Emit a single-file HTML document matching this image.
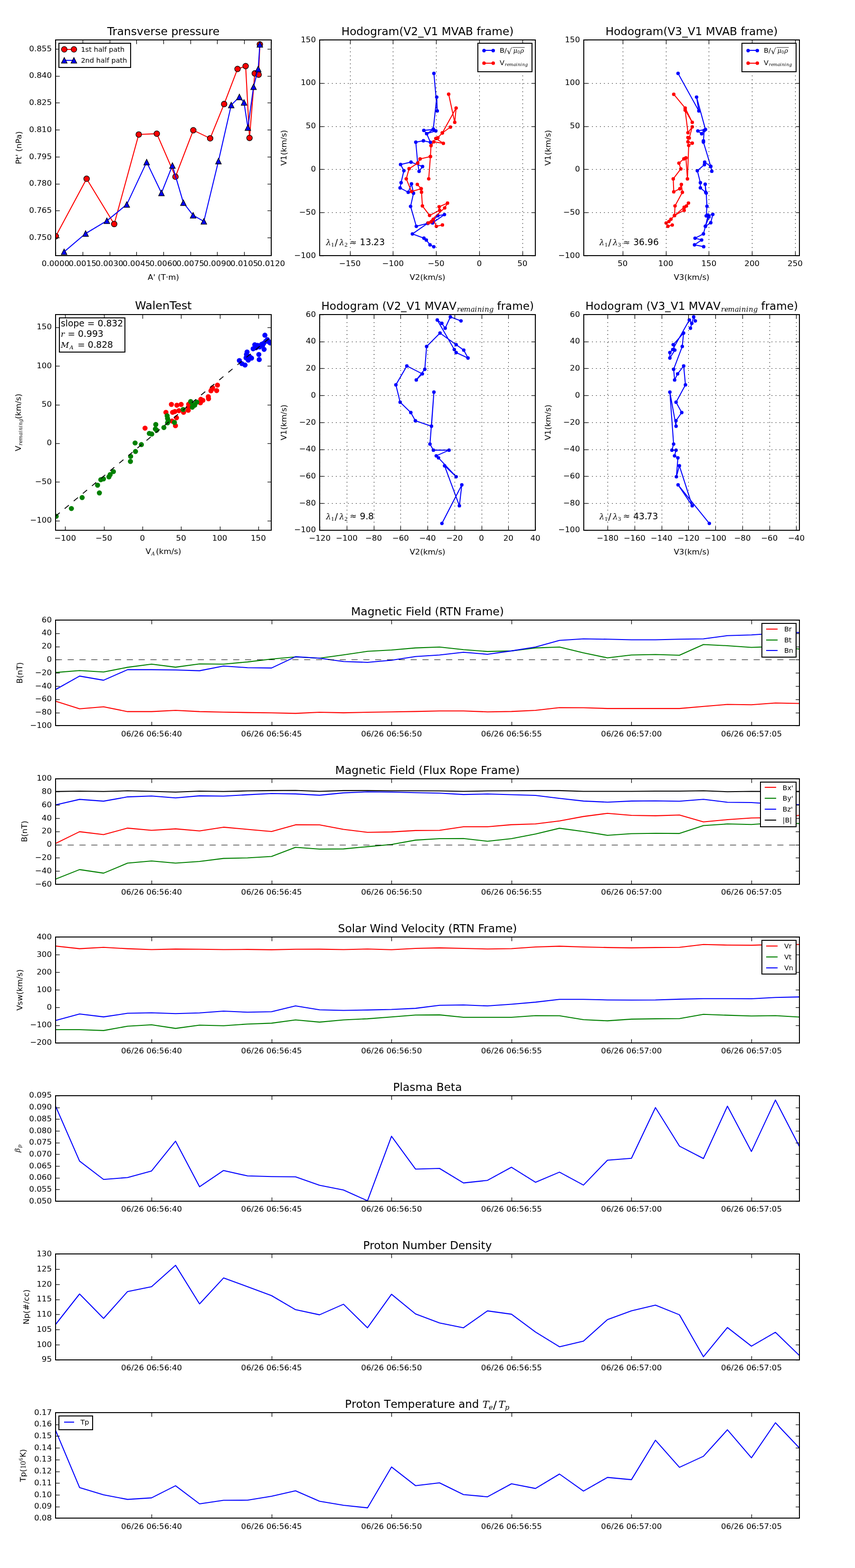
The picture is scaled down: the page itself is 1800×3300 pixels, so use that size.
<!DOCTYPE html>
<html><head><meta charset="utf-8"><title>Flux rope analysis</title>
<style>html,body{margin:0;padding:0;background:#fff;}svg{display:block;}</style>
</head><body>
<svg width="1800" height="3300" viewBox="0 0 1296 2376" version="1.1">
<defs>
<style type="text/css">*{stroke-linejoin: round; stroke-linecap: butt}</style>
</defs>
<g id="figure_1">
<g id="patch_1">
<path d="M 0 2376 
L 1296 2376 
L 1296 0 
L 0 0 
z
" style="fill: #ffffff"/>
</g>
<g id="axes_1">
<g id="patch_2">
<path d="M 84.24 387.36 
L 411.12 387.36 
L 411.12 60.48 
L 84.24 60.48 
z
" style="fill: #ffffff"/>
</g>
<g id="line2d_1">
<path d="M 84.55 357.89 
L 131.28 270.85 
L 173.10 339.43 
L 210.30 203.80 
L 237.67 202.57 
L 265.96 267.77 
L 293.01 197.34 
L 318.53 209.64 
L 339.75 157.66 
L 360.04 104.45 
L 372.34 100.15 
L 378.18 209.03 
L 386.18 111.22 
L 392.02 113.07 
L 393.86 67.24 
" clip-path="url(#pb502590449)" style="fill: none; stroke: #ff0000; stroke-width: 1.4976; stroke-linecap: square"/>
<g clip-path="url(#pb502590449)">
<circle cx="84.55" cy="357.89" r="4.300" style="fill: #ff0000; stroke: #000000; stroke-width: 0.936"/>
<circle cx="131.29" cy="270.85" r="4.300" style="fill: #ff0000; stroke: #000000; stroke-width: 0.936"/>
<circle cx="173.11" cy="339.44" r="4.300" style="fill: #ff0000; stroke: #000000; stroke-width: 0.936"/>
<circle cx="210.31" cy="203.80" r="4.300" style="fill: #ff0000; stroke: #000000; stroke-width: 0.936"/>
<circle cx="237.67" cy="202.57" r="4.300" style="fill: #ff0000; stroke: #000000; stroke-width: 0.936"/>
<circle cx="265.96" cy="267.77" r="4.300" style="fill: #ff0000; stroke: #000000; stroke-width: 0.936"/>
<circle cx="293.02" cy="197.34" r="4.300" style="fill: #ff0000; stroke: #000000; stroke-width: 0.936"/>
<circle cx="318.54" cy="209.65" r="4.300" style="fill: #ff0000; stroke: #000000; stroke-width: 0.936"/>
<circle cx="339.75" cy="157.67" r="4.300" style="fill: #ff0000; stroke: #000000; stroke-width: 0.936"/>
<circle cx="360.05" cy="104.46" r="4.300" style="fill: #ff0000; stroke: #000000; stroke-width: 0.936"/>
<circle cx="372.34" cy="100.15" r="4.300" style="fill: #ff0000; stroke: #000000; stroke-width: 0.936"/>
<circle cx="378.19" cy="209.03" r="4.300" style="fill: #ff0000; stroke: #000000; stroke-width: 0.936"/>
<circle cx="386.18" cy="111.23" r="4.300" style="fill: #ff0000; stroke: #000000; stroke-width: 0.936"/>
<circle cx="392.02" cy="113.07" r="4.300" style="fill: #ff0000; stroke: #000000; stroke-width: 0.936"/>
<circle cx="393.87" cy="67.25" r="4.300" style="fill: #ff0000; stroke: #000000; stroke-width: 0.936"/>
</g>
</g>
<g id="line2d_2">
<path d="M 97.16 381.57 
L 129.75 353.89 
L 162.03 334.51 
L 192.16 309.91 
L 222.30 245.63 
L 244.74 292.37 
L 261.34 250.85 
L 277.95 307.14 
L 292.71 326.21 
L 309.00 335.43 
L 331.14 244.09 
L 350.51 159.20 
L 362.81 146.90 
L 369.88 155.20 
L 375.72 193.34 
L 384.33 131.52 
L 391.40 104.45 
L 393.86 67.24 
" clip-path="url(#pb502590449)" style="fill: none; stroke: #0000ff; stroke-width: 1.4976; stroke-linecap: square"/>
<g clip-path="url(#pb502590449)">
<path d="M 97.16 377.27 L 92.86 385.87 L 101.46 385.87 z" style="fill: #0000ff; stroke: #000000; stroke-width: 0.936; stroke-linejoin: miter"/>
<path d="M 129.75 349.59 L 125.45 358.19 L 134.05 358.19 z" style="fill: #0000ff; stroke: #000000; stroke-width: 0.936; stroke-linejoin: miter"/>
<path d="M 162.03 330.21 L 157.73 338.81 L 166.33 338.81 z" style="fill: #0000ff; stroke: #000000; stroke-width: 0.936; stroke-linejoin: miter"/>
<path d="M 192.16 305.61 L 187.86 314.21 L 196.46 314.21 z" style="fill: #0000ff; stroke: #000000; stroke-width: 0.936; stroke-linejoin: miter"/>
<path d="M 222.30 241.33 L 218.00 249.93 L 226.60 249.93 z" style="fill: #0000ff; stroke: #000000; stroke-width: 0.936; stroke-linejoin: miter"/>
<path d="M 244.74 288.08 L 240.44 296.68 L 249.04 296.68 z" style="fill: #0000ff; stroke: #000000; stroke-width: 0.936; stroke-linejoin: miter"/>
<path d="M 261.34 246.55 L 257.04 255.15 L 265.64 255.15 z" style="fill: #0000ff; stroke: #000000; stroke-width: 0.936; stroke-linejoin: miter"/>
<path d="M 277.95 302.84 L 273.65 311.44 L 282.25 311.44 z" style="fill: #0000ff; stroke: #000000; stroke-width: 0.936; stroke-linejoin: miter"/>
<path d="M 292.71 321.91 L 288.41 330.51 L 297.01 330.51 z" style="fill: #0000ff; stroke: #000000; stroke-width: 0.936; stroke-linejoin: miter"/>
<path d="M 309.00 331.13 L 304.70 339.73 L 313.30 339.73 z" style="fill: #0000ff; stroke: #000000; stroke-width: 0.936; stroke-linejoin: miter"/>
<path d="M 331.14 239.79 L 326.84 248.39 L 335.44 248.39 z" style="fill: #0000ff; stroke: #000000; stroke-width: 0.936; stroke-linejoin: miter"/>
<path d="M 350.51 154.90 L 346.21 163.50 L 354.81 163.50 z" style="fill: #0000ff; stroke: #000000; stroke-width: 0.936; stroke-linejoin: miter"/>
<path d="M 362.81 142.60 L 358.51 151.20 L 367.11 151.20 z" style="fill: #0000ff; stroke: #000000; stroke-width: 0.936; stroke-linejoin: miter"/>
<path d="M 369.88 150.90 L 365.58 159.50 L 374.18 159.50 z" style="fill: #0000ff; stroke: #000000; stroke-width: 0.936; stroke-linejoin: miter"/>
<path d="M 375.72 189.04 L 371.42 197.64 L 380.02 197.64 z" style="fill: #0000ff; stroke: #000000; stroke-width: 0.936; stroke-linejoin: miter"/>
<path d="M 384.33 127.22 L 380.03 135.82 L 388.63 135.82 z" style="fill: #0000ff; stroke: #000000; stroke-width: 0.936; stroke-linejoin: miter"/>
<path d="M 391.40 100.16 L 387.10 108.76 L 395.70 108.76 z" style="fill: #0000ff; stroke: #000000; stroke-width: 0.936; stroke-linejoin: miter"/>
<path d="M 393.86 62.94 L 389.56 71.54 L 398.16 71.54 z" style="fill: #0000ff; stroke: #000000; stroke-width: 0.936; stroke-linejoin: miter"/>
</g>
</g>
<g id="patch_3">
<path d="M 84.24 387.36 L 84.24 60.48" style="fill: none; stroke: #000000; stroke-width: 1.44; stroke-linejoin: miter; stroke-linecap: square"/>
</g>
<g id="patch_4">
<path d="M 411.12 387.36 L 411.12 60.48" style="fill: none; stroke: #000000; stroke-width: 1.44; stroke-linejoin: miter; stroke-linecap: square"/>
</g>
<g id="patch_5">
<path d="M 84.24 387.36 L 411.12 387.36" style="fill: none; stroke: #000000; stroke-width: 1.44; stroke-linejoin: miter; stroke-linecap: square"/>
</g>
<g id="patch_6">
<path d="M 84.24 60.48 L 411.12 60.48" style="fill: none; stroke: #000000; stroke-width: 1.44; stroke-linejoin: miter; stroke-linecap: square"/>
</g>
<g id="matplotlib.axis_1">
<g id="xtick_1">
<g id="line2d_3">
<g>
<path d="M 84.60 387.72 L 84.60 381.74" style="stroke: #000000; stroke-width: 0.936"/>
</g>
</g>
<g id="line2d_4">
<g>
<path d="M 84.60 60.84 L 84.60 66.81" style="stroke: #000000; stroke-width: 0.936"/>
</g>
</g>
<g id="text_1">
<text style="font-size: 12px; font-family: 'DejaVu Sans', sans-serif; text-anchor: middle" x="84.24" y="403.31" transform="rotate(-0 84.24 403.31)">0.0000</text>
</g>
</g>
<g id="xtick_2">
<g id="line2d_5">
<g>
<path d="M 125.64 387.72 L 125.64 381.74" style="stroke: #000000; stroke-width: 0.936"/>
</g>
</g>
<g id="line2d_6">
<g>
<path d="M 125.64 60.84 L 125.64 66.81" style="stroke: #000000; stroke-width: 0.936"/>
</g>
</g>
<g id="text_2">
<text style="font-size: 12px; font-family: 'DejaVu Sans', sans-serif; text-anchor: middle" x="125.1" y="403.31" transform="rotate(-0 125.1 403.31)">0.0015</text>
</g>
</g>
<g id="xtick_3">
<g id="line2d_7">
<g>
<path d="M 166.68 387.72 L 166.68 381.74" style="stroke: #000000; stroke-width: 0.936"/>
</g>
</g>
<g id="line2d_8">
<g>
<path d="M 166.68 60.84 L 166.68 66.81" style="stroke: #000000; stroke-width: 0.936"/>
</g>
</g>
<g id="text_3">
<text style="font-size: 12px; font-family: 'DejaVu Sans', sans-serif; text-anchor: middle" x="165.96" y="403.31" transform="rotate(-0 165.96 403.31)">0.0030</text>
</g>
</g>
<g id="xtick_4">
<g id="line2d_9">
<g>
<path d="M 207.00 387.72 L 207.00 381.74" style="stroke: #000000; stroke-width: 0.936"/>
</g>
</g>
<g id="line2d_10">
<g>
<path d="M 207.00 60.84 L 207.00 66.81" style="stroke: #000000; stroke-width: 0.936"/>
</g>
</g>
<g id="text_4">
<text style="font-size: 12px; font-family: 'DejaVu Sans', sans-serif; text-anchor: middle" x="206.82" y="403.31" transform="rotate(-0 206.82 403.31)">0.0045</text>
</g>
</g>
<g id="xtick_5">
<g id="line2d_11">
<g>
<path d="M 248.04 387.72 L 248.04 381.74" style="stroke: #000000; stroke-width: 0.936"/>
</g>
</g>
<g id="line2d_12">
<g>
<path d="M 248.04 60.84 L 248.04 66.81" style="stroke: #000000; stroke-width: 0.936"/>
</g>
</g>
<g id="text_5">
<text style="font-size: 12px; font-family: 'DejaVu Sans', sans-serif; text-anchor: middle" x="247.68" y="403.31" transform="rotate(-0 247.68 403.31)">0.0060</text>
</g>
</g>
<g id="xtick_6">
<g id="line2d_13">
<g>
<path d="M 289.08 387.72 L 289.08 381.74" style="stroke: #000000; stroke-width: 0.936"/>
</g>
</g>
<g id="line2d_14">
<g>
<path d="M 289.08 60.84 L 289.08 66.81" style="stroke: #000000; stroke-width: 0.936"/>
</g>
</g>
<g id="text_6">
<text style="font-size: 12px; font-family: 'DejaVu Sans', sans-serif; text-anchor: middle" x="288.54" y="403.31" transform="rotate(-0 288.54 403.31)">0.0075</text>
</g>
</g>
<g id="xtick_7">
<g id="line2d_15">
<g>
<path d="M 329.40 387.72 L 329.40 381.74" style="stroke: #000000; stroke-width: 0.936"/>
</g>
</g>
<g id="line2d_16">
<g>
<path d="M 329.40 60.84 L 329.40 66.81" style="stroke: #000000; stroke-width: 0.936"/>
</g>
</g>
<g id="text_7">
<text style="font-size: 12px; font-family: 'DejaVu Sans', sans-serif; text-anchor: middle" x="329.4" y="403.31" transform="rotate(-0 329.4 403.31)">0.0090</text>
</g>
</g>
<g id="xtick_8">
<g id="line2d_17">
<g>
<path d="M 370.44 387.72 L 370.44 381.74" style="stroke: #000000; stroke-width: 0.936"/>
</g>
</g>
<g id="line2d_18">
<g>
<path d="M 370.44 60.84 L 370.44 66.81" style="stroke: #000000; stroke-width: 0.936"/>
</g>
</g>
<g id="text_8">
<text style="font-size: 12px; font-family: 'DejaVu Sans', sans-serif; text-anchor: middle" x="370.26" y="403.31" transform="rotate(-0 370.26 403.31)">0.0105</text>
</g>
</g>
<g id="xtick_9">
<g id="line2d_19">
<g>
<path d="M 411.48 387.72 L 411.48 381.74" style="stroke: #000000; stroke-width: 0.936"/>
</g>
</g>
<g id="line2d_20">
<g>
<path d="M 411.48 60.84 L 411.48 66.81" style="stroke: #000000; stroke-width: 0.936"/>
</g>
</g>
<g id="text_9">
<text style="font-size: 12px; font-family: 'DejaVu Sans', sans-serif; text-anchor: middle" x="411.12" y="403.31" transform="rotate(-0 411.12 403.31)">0.0120</text>
</g>
</g>
<g id="text_10">
<text style="font-size: 12px; font-family: 'DejaVu Sans', sans-serif; text-anchor: middle" x="247.68" y="424.29" transform="rotate(-0 247.68 424.29)">A' (T·m)</text>
</g>
</g>
<g id="matplotlib.axis_2">
<g id="ytick_1">
<g id="line2d_21">
<g>
<path d="M 84.60 360.36 L 90.57 360.36" style="stroke: #000000; stroke-width: 0.936"/>
</g>
</g>
<g id="line2d_22">
<g>
<path d="M 411.48 360.36 L 405.50 360.36" style="stroke: #000000; stroke-width: 0.936"/>
</g>
</g>
<g id="text_11">
<text style="font-size: 12px; font-family: 'DejaVu Sans', sans-serif; text-anchor: end" x="78.48" y="363.43" transform="rotate(-0 78.48 363.43)">0.750</text>
</g>
</g>
<g id="ytick_2">
<g id="line2d_23">
<g>
<path d="M 84.60 319.32 L 90.57 319.32" style="stroke: #000000; stroke-width: 0.936"/>
</g>
</g>
<g id="line2d_24">
<g>
<path d="M 411.48 319.32 L 405.50 319.32" style="stroke: #000000; stroke-width: 0.936"/>
</g>
</g>
<g id="text_12">
<text style="font-size: 12px; font-family: 'DejaVu Sans', sans-serif; text-anchor: end" x="78.48" y="322.57" transform="rotate(-0 78.48 322.57)">0.765</text>
</g>
</g>
<g id="ytick_3">
<g id="line2d_25">
<g>
<path d="M 84.60 279.00 L 90.57 279.00" style="stroke: #000000; stroke-width: 0.936"/>
</g>
</g>
<g id="line2d_26">
<g>
<path d="M 411.48 279.00 L 405.50 279.00" style="stroke: #000000; stroke-width: 0.936"/>
</g>
</g>
<g id="text_13">
<text style="font-size: 12px; font-family: 'DejaVu Sans', sans-serif; text-anchor: end" x="78.48" y="281.71" transform="rotate(-0 78.48 281.71)">0.780</text>
</g>
</g>
<g id="ytick_4">
<g id="line2d_27">
<g>
<path d="M 84.60 237.96 L 90.57 237.96" style="stroke: #000000; stroke-width: 0.936"/>
</g>
</g>
<g id="line2d_28">
<g>
<path d="M 411.48 237.96 L 405.50 237.96" style="stroke: #000000; stroke-width: 0.936"/>
</g>
</g>
<g id="text_14">
<text style="font-size: 12px; font-family: 'DejaVu Sans', sans-serif; text-anchor: end" x="78.48" y="240.85" transform="rotate(-0 78.48 240.85)">0.795</text>
</g>
</g>
<g id="ytick_5">
<g id="line2d_29">
<g>
<path d="M 84.60 196.92 L 90.57 196.92" style="stroke: #000000; stroke-width: 0.936"/>
</g>
</g>
<g id="line2d_30">
<g>
<path d="M 411.48 196.92 L 405.50 196.92" style="stroke: #000000; stroke-width: 0.936"/>
</g>
</g>
<g id="text_15">
<text style="font-size: 12px; font-family: 'DejaVu Sans', sans-serif; text-anchor: end" x="78.48" y="199.99" transform="rotate(-0 78.48 199.99)">0.810</text>
</g>
</g>
<g id="ytick_6">
<g id="line2d_31">
<g>
<path d="M 84.60 155.88 L 90.57 155.88" style="stroke: #000000; stroke-width: 0.936"/>
</g>
</g>
<g id="line2d_32">
<g>
<path d="M 411.48 155.88 L 405.50 155.88" style="stroke: #000000; stroke-width: 0.936"/>
</g>
</g>
<g id="text_16">
<text style="font-size: 12px; font-family: 'DejaVu Sans', sans-serif; text-anchor: end" x="78.48" y="159.13" transform="rotate(-0 78.48 159.13)">0.825</text>
</g>
</g>
<g id="ytick_7">
<g id="line2d_33">
<g>
<path d="M 84.60 115.56 L 90.57 115.56" style="stroke: #000000; stroke-width: 0.936"/>
</g>
</g>
<g id="line2d_34">
<g>
<path d="M 411.48 115.56 L 405.50 115.56" style="stroke: #000000; stroke-width: 0.936"/>
</g>
</g>
<g id="text_17">
<text style="font-size: 12px; font-family: 'DejaVu Sans', sans-serif; text-anchor: end" x="78.48" y="118.27" transform="rotate(-0 78.48 118.27)">0.840</text>
</g>
</g>
<g id="ytick_8">
<g id="line2d_35">
<g>
<path d="M 84.60 74.52 L 90.57 74.52" style="stroke: #000000; stroke-width: 0.936"/>
</g>
</g>
<g id="line2d_36">
<g>
<path d="M 411.48 74.52 L 405.50 74.52" style="stroke: #000000; stroke-width: 0.936"/>
</g>
</g>
<g id="text_18">
<text style="font-size: 12px; font-family: 'DejaVu Sans', sans-serif; text-anchor: end" x="78.48" y="77.41" transform="rotate(-0 78.48 77.41)">0.855</text>
</g>
</g>
<g id="text_19">
<text style="font-size: 12px; font-family: 'DejaVu Sans', sans-serif; text-anchor: middle" x="32.27" y="223.92" transform="rotate(-90 32.27 223.92)">Pt' (nPa)</text>
</g>
</g>
<g id="text_20">
<text style="font-size: 16.97px; font-family: 'DejaVu Sans', sans-serif; text-anchor: middle" x="247.68" y="53.28" transform="rotate(-0 247.68 53.28)">Transverse pressure</text>
</g>
<g id="legend_1">
<g id="patch_7">
<path d="M 89.28 102.24 L 198.00 102.24 L 198.00 65.52 L 89.28 65.52 z" style="fill: #ffffff; stroke: #000000; stroke-width: 1.44; stroke-linejoin: miter"/>
</g>
<g id="line2d_37">
<path d="M 97.20 74.88 L 112.32 74.88" style="fill: none; stroke: #ff0000; stroke-width: 1.4976; stroke-linecap: square"/>
<g>
<circle cx="97.41" cy="74.79" r="4.300" style="fill: #ff0000; stroke: #000000; stroke-width: 0.936"/>
<circle cx="112.04" cy="74.79" r="4.300" style="fill: #ff0000; stroke: #000000; stroke-width: 0.936"/>
</g>
</g>
<g id="text_21">
<text style="font-size: 10.45px; font-family: 'DejaVu Sans', sans-serif; text-anchor: start" x="122.69" y="78.45" transform="rotate(-0 122.69 78.45)">1st half path</text>
</g>
<g id="line2d_38">
<path d="M 97.20 91.44 L 112.32 91.44" style="fill: none; stroke: #0000ff; stroke-width: 1.4976; stroke-linecap: square"/>
<g>
<path d="M 97.40 87.08 L 93.10 95.68 L 101.70 95.68 z" style="fill: #0000ff; stroke: #000000; stroke-width: 0.936; stroke-linejoin: miter"/>
<path d="M 112.03 87.08 L 107.73 95.68 L 116.33 95.68 z" style="fill: #0000ff; stroke: #000000; stroke-width: 0.936; stroke-linejoin: miter"/>
</g>
</g>
<g id="text_22">
<text style="font-size: 10.45px; font-family: 'DejaVu Sans', sans-serif; text-anchor: start" x="122.69" y="95.04" transform="rotate(-0 122.69 95.04)">2nd half path</text>
</g>
</g>
</g>
<g id="axes_2">
<g id="patch_8">
<path d="M 484.56 387.36 
L 811.44 387.36 
L 811.44 60.48 
L 484.56 60.48 
z
" style="fill: #ffffff"/>
</g>
<g id="line2d_39">
<path d="M 657.70 111.17 
L 662.78 168.05 
L 662.01 147.14 
L 656.78 195.65 
L 660.62 198.34 
L 646.79 202.57 
L 642.41 197.57 
L 656.78 196.27 
L 646.79 202.57 
L 652.40 215.64 
L 641.79 213.33 
L 630.26 215.48 
L 633.11 247.15 
L 635.26 259.60 
L 640.49 252.38 
L 622.96 245.61 
L 607.20 249.30 
L 612.20 258.68 
L 607.97 276.74 
L 606.43 284.66 
L 618.73 291.35 
L 623.73 278.67 
L 626.80 292.89 
L 622.35 312.75 
L 631.03 342.95 
L 648.33 338.34 
L 655.63 337.80 
L 673.69 325.12 
L 663.70 326.81 
L 656.78 333.35 
L 648.33 338.34 
L 625.11 354.48 
L 642.56 360.86 
L 646.17 363.71 
L 651.79 371.01 
L 657.55 373.93 
" clip-path="url(#p1c13d62f08)" style="fill: none; stroke: #0000ff; stroke-width: 1.4976; stroke-linecap: square"/>
<g clip-path="url(#p1c13d62f08)">
<circle cx="657.71" cy="111.18" r="2.650" style="fill: #0000ff"/>
<circle cx="662.78" cy="168.06" r="2.650" style="fill: #0000ff"/>
<circle cx="662.01" cy="147.15" r="2.650" style="fill: #0000ff"/>
<circle cx="656.79" cy="195.66" r="2.650" style="fill: #0000ff"/>
<circle cx="660.63" cy="198.35" r="2.650" style="fill: #0000ff"/>
<circle cx="646.79" cy="202.57" r="2.650" style="fill: #0000ff"/>
<circle cx="642.41" cy="197.58" r="2.650" style="fill: #0000ff"/>
<circle cx="656.79" cy="196.27" r="2.650" style="fill: #0000ff"/>
<circle cx="646.79" cy="202.57" r="2.650" style="fill: #0000ff"/>
<circle cx="652.41" cy="215.64" r="2.650" style="fill: #0000ff"/>
<circle cx="641.80" cy="213.33" r="2.650" style="fill: #0000ff"/>
<circle cx="630.27" cy="215.49" r="2.650" style="fill: #0000ff"/>
<circle cx="633.11" cy="247.16" r="2.650" style="fill: #0000ff"/>
<circle cx="635.26" cy="259.61" r="2.650" style="fill: #0000ff"/>
<circle cx="640.49" cy="252.38" r="2.650" style="fill: #0000ff"/>
<circle cx="622.97" cy="245.62" r="2.650" style="fill: #0000ff"/>
<circle cx="607.21" cy="249.31" r="2.650" style="fill: #0000ff"/>
<circle cx="612.20" cy="258.69" r="2.650" style="fill: #0000ff"/>
<circle cx="607.98" cy="276.75" r="2.650" style="fill: #0000ff"/>
<circle cx="606.44" cy="284.67" r="2.650" style="fill: #0000ff"/>
<circle cx="618.74" cy="291.35" r="2.650" style="fill: #0000ff"/>
<circle cx="623.73" cy="278.67" r="2.650" style="fill: #0000ff"/>
<circle cx="626.81" cy="292.89" r="2.650" style="fill: #0000ff"/>
<circle cx="622.35" cy="312.75" r="2.650" style="fill: #0000ff"/>
<circle cx="631.04" cy="342.96" r="2.650" style="fill: #0000ff"/>
<circle cx="648.33" cy="338.35" r="2.650" style="fill: #0000ff"/>
<circle cx="655.63" cy="337.81" r="2.650" style="fill: #0000ff"/>
<circle cx="673.70" cy="325.13" r="2.650" style="fill: #0000ff"/>
<circle cx="663.70" cy="326.82" r="2.650" style="fill: #0000ff"/>
<circle cx="656.79" cy="333.35" r="2.650" style="fill: #0000ff"/>
<circle cx="648.33" cy="338.35" r="2.650" style="fill: #0000ff"/>
<circle cx="625.12" cy="354.49" r="2.650" style="fill: #0000ff"/>
<circle cx="642.57" cy="360.87" r="2.650" style="fill: #0000ff"/>
<circle cx="646.18" cy="363.71" r="2.650" style="fill: #0000ff"/>
<circle cx="651.79" cy="371.01" r="2.650" style="fill: #0000ff"/>
<circle cx="657.56" cy="373.94" r="2.650" style="fill: #0000ff"/>
</g>
</g>
<g id="line2d_40">
<path d="M 680.07 142.69 
L 689.30 185.35 
L 691.37 163.67 
L 670.46 201.42 
L 682.76 192.58 
L 670.46 201.42 
L 663.70 208.72 
L 660.62 209.87 
L 672.00 217.17 
L 657.55 214.87 
L 653.32 220.63 
L 652.40 237.16 
L 649.86 270.98 
L 652.40 237.16 
L 636.80 240.85 
L 633.11 247.15 
L 620.12 255.61 
L 615.81 270.98 
L 623.73 290.19 
L 638.33 285.97 
L 632.57 279.43 
L 638.33 285.97 
L 638.95 291.22 
L 640.26 311.98 
L 651.17 326.43 
L 666.39 318.74 
L 665.62 313.36 
L 678.30 307.83 
L 674.08 315.05 
L 649.09 337.80 
L 653.71 336.04 
L 656.78 332.19 
L 661.39 342.95 
L 670.62 340.88 
" clip-path="url(#p1c13d62f08)" style="fill: none; stroke: #ff0000; stroke-width: 1.4976; stroke-linecap: square"/>
<g clip-path="url(#p1c13d62f08)">
<circle cx="680.08" cy="142.69" r="2.650" style="fill: #ff0000"/>
<circle cx="689.30" cy="185.35" r="2.650" style="fill: #ff0000"/>
<circle cx="691.38" cy="163.68" r="2.650" style="fill: #ff0000"/>
<circle cx="670.47" cy="201.42" r="2.650" style="fill: #ff0000"/>
<circle cx="682.77" cy="192.58" r="2.650" style="fill: #ff0000"/>
<circle cx="670.47" cy="201.42" r="2.650" style="fill: #ff0000"/>
<circle cx="663.70" cy="208.72" r="2.650" style="fill: #ff0000"/>
<circle cx="660.63" cy="209.88" r="2.650" style="fill: #ff0000"/>
<circle cx="672.01" cy="217.18" r="2.650" style="fill: #ff0000"/>
<circle cx="657.56" cy="214.87" r="2.650" style="fill: #ff0000"/>
<circle cx="653.33" cy="220.64" r="2.650" style="fill: #ff0000"/>
<circle cx="652.41" cy="237.16" r="2.650" style="fill: #ff0000"/>
<circle cx="649.87" cy="270.98" r="2.650" style="fill: #ff0000"/>
<circle cx="652.41" cy="237.16" r="2.650" style="fill: #ff0000"/>
<circle cx="636.80" cy="240.85" r="2.650" style="fill: #ff0000"/>
<circle cx="633.11" cy="247.16" r="2.650" style="fill: #ff0000"/>
<circle cx="620.12" cy="255.61" r="2.650" style="fill: #ff0000"/>
<circle cx="615.82" cy="270.98" r="2.650" style="fill: #ff0000"/>
<circle cx="623.73" cy="290.20" r="2.650" style="fill: #ff0000"/>
<circle cx="638.34" cy="285.97" r="2.650" style="fill: #ff0000"/>
<circle cx="632.57" cy="279.44" r="2.650" style="fill: #ff0000"/>
<circle cx="638.34" cy="285.97" r="2.650" style="fill: #ff0000"/>
<circle cx="638.95" cy="291.23" r="2.650" style="fill: #ff0000"/>
<circle cx="640.26" cy="311.98" r="2.650" style="fill: #ff0000"/>
<circle cx="651.18" cy="326.43" r="2.650" style="fill: #ff0000"/>
<circle cx="666.39" cy="318.75" r="2.650" style="fill: #ff0000"/>
<circle cx="665.63" cy="313.37" r="2.650" style="fill: #ff0000"/>
<circle cx="678.31" cy="307.83" r="2.650" style="fill: #ff0000"/>
<circle cx="674.08" cy="315.06" r="2.650" style="fill: #ff0000"/>
<circle cx="649.10" cy="337.81" r="2.650" style="fill: #ff0000"/>
<circle cx="653.71" cy="336.04" r="2.650" style="fill: #ff0000"/>
<circle cx="656.79" cy="332.20" r="2.650" style="fill: #ff0000"/>
<circle cx="661.40" cy="342.96" r="2.650" style="fill: #ff0000"/>
<circle cx="670.62" cy="340.88" r="2.650" style="fill: #ff0000"/>
</g>
</g>
<g id="patch_9">
<path d="M 484.56 387.36 L 484.56 60.48" style="fill: none; stroke: #000000; stroke-width: 1.44; stroke-linejoin: miter; stroke-linecap: square"/>
</g>
<g id="patch_10">
<path d="M 811.44 387.36 L 811.44 60.48" style="fill: none; stroke: #000000; stroke-width: 1.44; stroke-linejoin: miter; stroke-linecap: square"/>
</g>
<g id="patch_11">
<path d="M 484.56 387.36 L 811.44 387.36" style="fill: none; stroke: #000000; stroke-width: 1.44; stroke-linejoin: miter; stroke-linecap: square"/>
</g>
<g id="patch_12">
<path d="M 484.56 60.48 L 811.44 60.48" style="fill: none; stroke: #000000; stroke-width: 1.44; stroke-linejoin: miter; stroke-linecap: square"/>
</g>
<g id="matplotlib.axis_3">
<g id="xtick_10">
<g id="line2d_41">
<path d="M 531.00 387.72 L 531.00 60.84" clip-path="url(#p1c13d62f08)" style="fill: none; stroke-dasharray: 1.296,4.752; stroke-dashoffset: 0; stroke: #000000; stroke-width: 0.792"/>
</g>
<g id="line2d_42">
<g>
<path d="M 531.00 387.72 L 531.00 381.74" style="stroke: #000000; stroke-width: 0.936"/>
</g>
</g>
<g id="line2d_43">
<g>
<path d="M 531.00 60.84 L 531.00 66.81" style="stroke: #000000; stroke-width: 0.936"/>
</g>
</g>
<g id="text_23">
<text style="font-size: 12px; font-family: 'DejaVu Sans', sans-serif; text-anchor: middle" x="530.32" y="403.31" transform="rotate(-0 530.32 403.31)">−150</text>
</g>
</g>
<g id="xtick_11">
<g id="line2d_44">
<path d="M 595.80 387.72 L 595.80 60.84" clip-path="url(#p1c13d62f08)" style="fill: none; stroke-dasharray: 1.296,4.752; stroke-dashoffset: 0; stroke: #000000; stroke-width: 0.792"/>
</g>
<g id="line2d_45">
<g>
<path d="M 595.80 387.72 L 595.80 381.74" style="stroke: #000000; stroke-width: 0.936"/>
</g>
</g>
<g id="line2d_46">
<g>
<path d="M 595.80 60.84 L 595.80 66.81" style="stroke: #000000; stroke-width: 0.936"/>
</g>
</g>
<g id="text_24">
<text style="font-size: 12px; font-family: 'DejaVu Sans', sans-serif; text-anchor: middle" x="595.69" y="403.31" transform="rotate(-0 595.69 403.31)">−100</text>
</g>
</g>
<g id="xtick_12">
<g id="line2d_47">
<path d="M 661.32 387.72 L 661.32 60.84" clip-path="url(#p1c13d62f08)" style="fill: none; stroke-dasharray: 1.296,4.752; stroke-dashoffset: 0; stroke: #000000; stroke-width: 0.792"/>
</g>
<g id="line2d_48">
<g>
<path d="M 661.32 387.72 L 661.32 381.74" style="stroke: #000000; stroke-width: 0.936"/>
</g>
</g>
<g id="line2d_49">
<g>
<path d="M 661.32 60.84 L 661.32 66.81" style="stroke: #000000; stroke-width: 0.936"/>
</g>
</g>
<g id="text_25">
<text style="font-size: 12px; font-family: 'DejaVu Sans', sans-serif; text-anchor: middle" x="661.07" y="403.31" transform="rotate(-0 661.07 403.31)">−50</text>
</g>
</g>
<g id="xtick_13">
<g id="line2d_50">
<path d="M 726.84 387.72 L 726.84 60.84" clip-path="url(#p1c13d62f08)" style="fill: none; stroke-dasharray: 1.296,4.752; stroke-dashoffset: 0; stroke: #000000; stroke-width: 0.792"/>
</g>
<g id="line2d_51">
<g>
<path d="M 726.84 387.72 L 726.84 381.74" style="stroke: #000000; stroke-width: 0.936"/>
</g>
</g>
<g id="line2d_52">
<g>
<path d="M 726.84 60.84 L 726.84 66.81" style="stroke: #000000; stroke-width: 0.936"/>
</g>
</g>
<g id="text_26">
<text style="font-size: 12px; font-family: 'DejaVu Sans', sans-serif; text-anchor: middle" x="726.45" y="403.31" transform="rotate(-0 726.45 403.31)">0</text>
</g>
</g>
<g id="xtick_14">
<g id="line2d_53">
<path d="M 792.36 387.72 L 792.36 60.84" clip-path="url(#p1c13d62f08)" style="fill: none; stroke-dasharray: 1.296,4.752; stroke-dashoffset: 0; stroke: #000000; stroke-width: 0.792"/>
</g>
<g id="line2d_54">
<g>
<path d="M 792.36 387.72 L 792.36 381.74" style="stroke: #000000; stroke-width: 0.936"/>
</g>
</g>
<g id="line2d_55">
<g>
<path d="M 792.36 60.84 L 792.36 66.81" style="stroke: #000000; stroke-width: 0.936"/>
</g>
</g>
<g id="text_27">
<text style="font-size: 12px; font-family: 'DejaVu Sans', sans-serif; text-anchor: middle" x="791.82" y="403.31" transform="rotate(-0 791.82 403.31)">50</text>
</g>
</g>
<g id="text_28">
<text style="font-size: 12px; font-family: 'DejaVu Sans', sans-serif; text-anchor: middle" x="648" y="424.29" transform="rotate(-0 648 424.29)">V2(km/s)</text>
</g>
</g>
<g id="matplotlib.axis_4">
<g id="ytick_9">
<g id="line2d_56">
<path d="M 484.92 387.72 L 811.80 387.72" clip-path="url(#p1c13d62f08)" style="fill: none; stroke-dasharray: 1.296,4.752; stroke-dashoffset: 0; stroke: #000000; stroke-width: 0.792"/>
</g>
<g id="line2d_57">
<g>
<path d="M 484.92 387.72 L 490.89 387.72" style="stroke: #000000; stroke-width: 0.936"/>
</g>
</g>
<g id="line2d_58">
<g>
<path d="M 811.80 387.72 L 805.82 387.72" style="stroke: #000000; stroke-width: 0.936"/>
</g>
</g>
<g id="text_29">
<text style="font-size: 12px; font-family: 'DejaVu Sans', sans-serif; text-anchor: end" x="478.8" y="390.67" transform="rotate(-0 478.8 390.67)">−100</text>
</g>
</g>
<g id="ytick_10">
<g id="line2d_59">
<path d="M 484.92 322.20 L 811.80 322.20" clip-path="url(#p1c13d62f08)" style="fill: none; stroke-dasharray: 1.296,4.752; stroke-dashoffset: 0; stroke: #000000; stroke-width: 0.792"/>
</g>
<g id="line2d_60">
<g>
<path d="M 484.92 322.20 L 490.89 322.20" style="stroke: #000000; stroke-width: 0.936"/>
</g>
</g>
<g id="line2d_61">
<g>
<path d="M 811.80 322.20 L 805.82 322.20" style="stroke: #000000; stroke-width: 0.936"/>
</g>
</g>
<g id="text_30">
<text style="font-size: 12px; font-family: 'DejaVu Sans', sans-serif; text-anchor: end" x="478.8" y="325.29" transform="rotate(-0 478.8 325.29)">−50</text>
</g>
</g>
<g id="ytick_11">
<g id="line2d_62">
<path d="M 484.92 256.68 L 811.80 256.68" clip-path="url(#p1c13d62f08)" style="fill: none; stroke-dasharray: 1.296,4.752; stroke-dashoffset: 0; stroke: #000000; stroke-width: 0.792"/>
</g>
<g id="line2d_63">
<g>
<path d="M 484.92 256.68 L 490.89 256.68" style="stroke: #000000; stroke-width: 0.936"/>
</g>
</g>
<g id="line2d_64">
<g>
<path d="M 811.80 256.68 L 805.82 256.68" style="stroke: #000000; stroke-width: 0.936"/>
</g>
</g>
<g id="text_31">
<text style="font-size: 12px; font-family: 'DejaVu Sans', sans-serif; text-anchor: end" x="478.8" y="259.91" transform="rotate(-0 478.8 259.91)">0</text>
</g>
</g>
<g id="ytick_12">
<g id="line2d_65">
<path d="M 484.92 191.88 L 811.80 191.88" clip-path="url(#p1c13d62f08)" style="fill: none; stroke-dasharray: 1.296,4.752; stroke-dashoffset: 0; stroke: #000000; stroke-width: 0.792"/>
</g>
<g id="line2d_66">
<g>
<path d="M 484.92 191.88 L 490.89 191.88" style="stroke: #000000; stroke-width: 0.936"/>
</g>
</g>
<g id="line2d_67">
<g>
<path d="M 811.80 191.88 L 805.82 191.88" style="stroke: #000000; stroke-width: 0.936"/>
</g>
</g>
<g id="text_32">
<text style="font-size: 12px; font-family: 'DejaVu Sans', sans-serif; text-anchor: end" x="478.8" y="194.54" transform="rotate(-0 478.8 194.54)">50</text>
</g>
</g>
<g id="ytick_13">
<g id="line2d_68">
<path d="M 484.92 126.36 L 811.80 126.36" clip-path="url(#p1c13d62f08)" style="fill: none; stroke-dasharray: 1.296,4.752; stroke-dashoffset: 0; stroke: #000000; stroke-width: 0.792"/>
</g>
<g id="line2d_69">
<g>
<path d="M 484.92 126.36 L 490.89 126.36" style="stroke: #000000; stroke-width: 0.936"/>
</g>
</g>
<g id="line2d_70">
<g>
<path d="M 811.80 126.36 L 805.82 126.36" style="stroke: #000000; stroke-width: 0.936"/>
</g>
</g>
<g id="text_33">
<text style="font-size: 12px; font-family: 'DejaVu Sans', sans-serif; text-anchor: end" x="478.8" y="129.16" transform="rotate(-0 478.8 129.16)">100</text>
</g>
</g>
<g id="ytick_14">
<g id="line2d_71">
<path d="M 484.92 60.84 L 811.80 60.84" clip-path="url(#p1c13d62f08)" style="fill: none; stroke-dasharray: 1.296,4.752; stroke-dashoffset: 0; stroke: #000000; stroke-width: 0.792"/>
</g>
<g id="line2d_72">
<g>
<path d="M 484.92 60.84 L 490.89 60.84" style="stroke: #000000; stroke-width: 0.936"/>
</g>
</g>
<g id="line2d_73">
<g>
<path d="M 811.80 60.84 L 805.82 60.84" style="stroke: #000000; stroke-width: 0.936"/>
</g>
</g>
<g id="text_34">
<text style="font-size: 12px; font-family: 'DejaVu Sans', sans-serif; text-anchor: end" x="478.8" y="63.79" transform="rotate(-0 478.8 63.79)">150</text>
</g>
</g>
<g id="text_35">
<text style="font-size: 12px; font-family: 'DejaVu Sans', sans-serif; text-anchor: middle" x="433.98" y="223.92" transform="rotate(-90 433.98 223.92)">V1(km/s)</text>
</g>
</g>
<g id="text_36">
<g transform="translate(494.03 372.25)">
<text>
<tspan x="0.00" y="-0.61" style="font-size: 12.15px; font-style: italic; font-family: 'DejaVu Serif', serif">λ</tspan>
<tspan x="13.46" y="0.34" style="font-size: 13.77px; font-family: 'DejaVu Sans', sans-serif">/</tspan>
<tspan x="20.21" y="-0.61" style="font-size: 12.15px; font-style: italic; font-family: 'DejaVu Serif', serif">λ</tspan>
<tspan x="7.87" y="1.69" style="font-size: 9.45px; font-family: 'Liberation Serif', serif">1</tspan>
<tspan x="28.08" y="1.69" style="font-size: 9.45px; font-family: 'Liberation Serif', serif">2</tspan>
<tspan x="36.03" y="-0.88" style="font-size: 12.56px; font-family: 'DejaVu Sans', sans-serif">≈</tspan>
<tspan x="47.09" y="-0.60" style="font-size: 13.5px; font-family: 'DejaVu Sans', sans-serif"> </tspan>
<tspan x="51.38" y="-0.60" style="font-size: 13.5px; font-family: 'DejaVu Sans', sans-serif">1</tspan>
<tspan x="59.97" y="-0.60" style="font-size: 13.5px; font-family: 'DejaVu Sans', sans-serif">3</tspan>
<tspan x="68.56" y="-0.60" style="font-size: 13.5px; font-family: 'DejaVu Sans', sans-serif">.</tspan>
<tspan x="72.10" y="-0.60" style="font-size: 13.5px; font-family: 'DejaVu Sans', sans-serif">2</tspan>
<tspan x="80.69" y="-0.60" style="font-size: 13.5px; font-family: 'DejaVu Sans', sans-serif">3</tspan>
</text>
</g>
</g>
<g id="text_37">
<text style="font-size: 16.72px; font-family: 'DejaVu Sans', sans-serif; text-anchor: middle" x="648" y="53.28" transform="rotate(-0 648 53.28)">Hodogram(V2_V1 MVAB frame)</text>
</g>
<g id="legend_2">
<g id="patch_13">
<path d="M 724.32 108.72 L 806.40 108.72 L 806.40 65.52 L 724.32 65.52 z" style="fill: #ffffff; stroke: #000000; stroke-width: 1.44; stroke-linejoin: miter"/>
</g>
<g id="line2d_74">
<path d="M 733.68 76.32 L 747.36 76.32" style="fill: none; stroke: #0000ff; stroke-width: 1.4976; stroke-linecap: square"/>
<g>
<circle cx="733.69" cy="76.68" r="2.650" style="fill: #0000ff"/>
<circle cx="747.59" cy="76.68" r="2.650" style="fill: #0000ff"/>
</g>
</g>
<g id="text_38">
<g transform="translate(757.51 80.33)">
<text>
<tspan x="0" y="-0.49" style="font-size: 10.45px; font-family: 'DejaVu Sans', sans-serif">B</tspan>
<tspan x="7.20" y="-0.49" style="font-size: 10.45px; font-family: 'DejaVu Sans', sans-serif">/</tspan>
<tspan x="10.74" y="1.53" style="font-size: 12.21px; font-family: 'DejaVu Sans', sans-serif">√</tspan>
<tspan x="20.48" y="-0.74" style="font-size: 9.40px; font-style: italic; font-family: 'DejaVu Serif', serif">μ</tspan>
<tspan x="31.09" y="-0.74" style="font-size: 9.40px; font-style: italic; font-family: 'DejaVu Serif', serif">ρ</tspan>
<tspan x="26.77" y="1.04" style="font-size: 7.32px; font-family: 'Liberation Serif', serif">0</tspan>
</text>
<rect x="19.17" y="-8.69" width="18.61" height="0.65"/>
</g>
</g>
<g id="line2d_75">
<path d="M 733.68 95.76 L 747.36 95.76" style="fill: none; stroke: #ff0000; stroke-width: 1.4976; stroke-linecap: square"/>
<g>
<circle cx="733.69" cy="95.69" r="2.650" style="fill: #ff0000"/>
<circle cx="747.59" cy="95.69" r="2.650" style="fill: #ff0000"/>
</g>
</g>
<g id="text_39">
<g transform="translate(757.51 99.35)">
<text>
<tspan x="0" y="-0.70" style="font-size: 10.45px; font-family: 'DejaVu Sans', sans-serif">V</tspan>
<tspan x="7.65" y="1.07" style="font-size: 6.58px; font-style: italic; font-family: 'DejaVu Serif', serif">r</tspan>
<tspan x="10.95" y="1.07" style="font-size: 6.58px; font-style: italic; font-family: 'DejaVu Serif', serif">e</tspan>
<tspan x="14.34" y="1.07" style="font-size: 6.58px; font-style: italic; font-family: 'DejaVu Serif', serif">m</tspan>
<tspan x="20.76" y="1.07" style="font-size: 6.58px; font-style: italic; font-family: 'DejaVu Serif', serif">a</tspan>
<tspan x="24.61" y="1.07" style="font-size: 6.58px; font-style: italic; font-family: 'DejaVu Serif', serif">i</tspan>
<tspan x="27.13" y="1.07" style="font-size: 6.58px; font-style: italic; font-family: 'DejaVu Serif', serif">n</tspan>
<tspan x="31.51" y="1.07" style="font-size: 6.58px; font-style: italic; font-family: 'DejaVu Serif', serif">i</tspan>
<tspan x="34.03" y="1.07" style="font-size: 6.58px; font-style: italic; font-family: 'DejaVu Serif', serif">n</tspan>
<tspan x="38.41" y="1.07" style="font-size: 6.58px; font-style: italic; font-family: 'DejaVu Serif', serif">g</tspan>
</text>
</g>
</g>
</g>
</g>
<g id="axes_3">
<g id="patch_14">
<path d="M 884.88 387.36 
L 1211.76 387.36 
L 1211.76 60.48 
L 884.88 60.48 
z
" style="fill: #ffffff"/>
</g>
<g id="line2d_76">
<path d="M 1027.80 111.17 
L 1059.32 168.05 
L 1055.86 147.14 
L 1069.31 196.11 
L 1057.78 198.41 
L 1063.54 202.64 
L 1067.39 197.80 
L 1066.23 213.40 
L 1066.23 215.32 
L 1077.38 252.20 
L 1078.92 259.50 
L 1077.38 252.20 
L 1068.15 245.67 
L 1067.77 249.51 
L 1057.01 258.73 
L 1061.62 276.80 
L 1061.62 284.64 
L 1069.69 291.40 
L 1068.92 279.10 
L 1070.46 292.55 
L 1071.61 312.54 
L 1070.46 327.14 
L 1073.15 325.99 
L 1074.69 328.68 
L 1069.31 342.90 
L 1077.38 337.52 
L 1080.45 324.84 
L 1073.15 326.76 
L 1069.31 342.90 
L 1066.23 354.43 
L 1053.55 360.96 
L 1063.54 363.65 
L 1052.78 370.96 
L 1066.62 373.80 
" clip-path="url(#p8844d95abf)" style="fill: none; stroke: #0000ff; stroke-width: 1.4976; stroke-linecap: square"/>
<g clip-path="url(#p8844d95abf)">
<circle cx="1027.81" cy="111.18" r="2.650" style="fill: #0000ff"/>
<circle cx="1059.32" cy="168.06" r="2.650" style="fill: #0000ff"/>
<circle cx="1055.86" cy="147.15" r="2.650" style="fill: #0000ff"/>
<circle cx="1069.31" cy="196.11" r="2.650" style="fill: #0000ff"/>
<circle cx="1057.78" cy="198.42" r="2.650" style="fill: #0000ff"/>
<circle cx="1063.55" cy="202.65" r="2.650" style="fill: #0000ff"/>
<circle cx="1067.39" cy="197.80" r="2.650" style="fill: #0000ff"/>
<circle cx="1066.24" cy="213.41" r="2.650" style="fill: #0000ff"/>
<circle cx="1066.24" cy="215.33" r="2.650" style="fill: #0000ff"/>
<circle cx="1077.38" cy="252.20" r="2.650" style="fill: #0000ff"/>
<circle cx="1078.92" cy="259.51" r="2.650" style="fill: #0000ff"/>
<circle cx="1077.38" cy="252.20" r="2.650" style="fill: #0000ff"/>
<circle cx="1068.16" cy="245.67" r="2.650" style="fill: #0000ff"/>
<circle cx="1067.78" cy="249.51" r="2.650" style="fill: #0000ff"/>
<circle cx="1057.01" cy="258.74" r="2.650" style="fill: #0000ff"/>
<circle cx="1061.63" cy="276.80" r="2.650" style="fill: #0000ff"/>
<circle cx="1061.63" cy="284.64" r="2.650" style="fill: #0000ff"/>
<circle cx="1069.70" cy="291.41" r="2.650" style="fill: #0000ff"/>
<circle cx="1068.93" cy="279.11" r="2.650" style="fill: #0000ff"/>
<circle cx="1070.47" cy="292.56" r="2.650" style="fill: #0000ff"/>
<circle cx="1071.62" cy="312.54" r="2.650" style="fill: #0000ff"/>
<circle cx="1070.47" cy="327.15" r="2.650" style="fill: #0000ff"/>
<circle cx="1073.16" cy="326.00" r="2.650" style="fill: #0000ff"/>
<circle cx="1074.69" cy="328.69" r="2.650" style="fill: #0000ff"/>
<circle cx="1069.31" cy="342.91" r="2.650" style="fill: #0000ff"/>
<circle cx="1077.38" cy="337.53" r="2.650" style="fill: #0000ff"/>
<circle cx="1080.46" cy="324.84" r="2.650" style="fill: #0000ff"/>
<circle cx="1073.16" cy="326.76" r="2.650" style="fill: #0000ff"/>
<circle cx="1069.31" cy="342.91" r="2.650" style="fill: #0000ff"/>
<circle cx="1066.24" cy="354.44" r="2.650" style="fill: #0000ff"/>
<circle cx="1053.56" cy="360.97" r="2.650" style="fill: #0000ff"/>
<circle cx="1063.55" cy="363.66" r="2.650" style="fill: #0000ff"/>
<circle cx="1052.79" cy="370.96" r="2.650" style="fill: #0000ff"/>
<circle cx="1066.62" cy="373.81" r="2.650" style="fill: #0000ff"/>
</g>
</g>
<g id="line2d_77">
<path d="M 1021.27 142.92 
L 1038.56 163.67 
L 1049.32 185.35 
L 1038.56 166.90 
L 1042.79 201.10 
L 1049.32 192.27 
L 1044.71 209.18 
L 1042.79 208.41 
L 1042.79 214.94 
L 1049.32 216.86 
L 1043.94 220.32 
L 1042.02 271.03 
L 1039.71 239.13 
L 1036.64 240.67 
L 1029.11 247.20 
L 1032.03 255.89 
L 1020.50 271.03 
L 1021.27 290.63 
L 1030.49 286.02 
L 1032.80 279.49 
L 1034.33 291.40 
L 1023.19 312.00 
L 1022.42 326.37 
L 1037.02 318.69 
L 1040.48 312.15 
L 1043.56 307.70 
L 1037.02 314.08 
L 1022.42 326.76 
L 1017.04 332.14 
L 1013.96 335.60 
L 1009.74 337.90 
L 1012.43 342.90 
L 1018.96 340.98 
" clip-path="url(#p8844d95abf)" style="fill: none; stroke: #ff0000; stroke-width: 1.4976; stroke-linecap: square"/>
<g clip-path="url(#p8844d95abf)">
<circle cx="1021.27" cy="142.92" r="2.650" style="fill: #ff0000"/>
<circle cx="1038.57" cy="163.68" r="2.650" style="fill: #ff0000"/>
<circle cx="1049.33" cy="185.35" r="2.650" style="fill: #ff0000"/>
<circle cx="1038.57" cy="166.90" r="2.650" style="fill: #ff0000"/>
<circle cx="1042.79" cy="201.11" r="2.650" style="fill: #ff0000"/>
<circle cx="1049.33" cy="192.27" r="2.650" style="fill: #ff0000"/>
<circle cx="1044.72" cy="209.18" r="2.650" style="fill: #ff0000"/>
<circle cx="1042.79" cy="208.41" r="2.650" style="fill: #ff0000"/>
<circle cx="1042.79" cy="214.95" r="2.650" style="fill: #ff0000"/>
<circle cx="1049.33" cy="216.87" r="2.650" style="fill: #ff0000"/>
<circle cx="1043.95" cy="220.33" r="2.650" style="fill: #ff0000"/>
<circle cx="1042.03" cy="271.04" r="2.650" style="fill: #ff0000"/>
<circle cx="1039.72" cy="239.14" r="2.650" style="fill: #ff0000"/>
<circle cx="1036.64" cy="240.67" r="2.650" style="fill: #ff0000"/>
<circle cx="1029.11" cy="247.21" r="2.650" style="fill: #ff0000"/>
<circle cx="1032.03" cy="255.89" r="2.650" style="fill: #ff0000"/>
<circle cx="1020.50" cy="271.04" r="2.650" style="fill: #ff0000"/>
<circle cx="1021.27" cy="290.64" r="2.650" style="fill: #ff0000"/>
<circle cx="1030.50" cy="286.03" r="2.650" style="fill: #ff0000"/>
<circle cx="1032.80" cy="279.49" r="2.650" style="fill: #ff0000"/>
<circle cx="1034.34" cy="291.41" r="2.650" style="fill: #ff0000"/>
<circle cx="1023.19" cy="312.01" r="2.650" style="fill: #ff0000"/>
<circle cx="1022.42" cy="326.38" r="2.650" style="fill: #ff0000"/>
<circle cx="1037.03" cy="318.69" r="2.650" style="fill: #ff0000"/>
<circle cx="1040.49" cy="312.16" r="2.650" style="fill: #ff0000"/>
<circle cx="1043.56" cy="307.70" r="2.650" style="fill: #ff0000"/>
<circle cx="1037.03" cy="314.08" r="2.650" style="fill: #ff0000"/>
<circle cx="1022.42" cy="326.76" r="2.650" style="fill: #ff0000"/>
<circle cx="1017.04" cy="332.14" r="2.650" style="fill: #ff0000"/>
<circle cx="1013.97" cy="335.60" r="2.650" style="fill: #ff0000"/>
<circle cx="1009.74" cy="337.91" r="2.650" style="fill: #ff0000"/>
<circle cx="1012.43" cy="342.91" r="2.650" style="fill: #ff0000"/>
<circle cx="1018.97" cy="340.98" r="2.650" style="fill: #ff0000"/>
</g>
</g>
<g id="patch_15">
<path d="M 884.88 387.36 L 884.88 60.48" style="fill: none; stroke: #000000; stroke-width: 1.44; stroke-linejoin: miter; stroke-linecap: square"/>
</g>
<g id="patch_16">
<path d="M 1211.76 387.36 L 1211.76 60.48" style="fill: none; stroke: #000000; stroke-width: 1.44; stroke-linejoin: miter; stroke-linecap: square"/>
</g>
<g id="patch_17">
<path d="M 884.88 387.36 L 1211.76 387.36" style="fill: none; stroke: #000000; stroke-width: 1.44; stroke-linejoin: miter; stroke-linecap: square"/>
</g>
<g id="patch_18">
<path d="M 884.88 60.48 L 1211.76 60.48" style="fill: none; stroke: #000000; stroke-width: 1.44; stroke-linejoin: miter; stroke-linecap: square"/>
</g>
<g id="matplotlib.axis_5">
<g id="xtick_15">
<g id="line2d_78">
<path d="M 944.28 387.72 L 944.28 60.84" clip-path="url(#p8844d95abf)" style="fill: none; stroke-dasharray: 1.296,4.752; stroke-dashoffset: 0; stroke: #000000; stroke-width: 0.792"/>
</g>
<g id="line2d_79">
<g>
<path d="M 944.28 387.72 L 944.28 381.74" style="stroke: #000000; stroke-width: 0.936"/>
</g>
</g>
<g id="line2d_80">
<g>
<path d="M 944.28 60.84 L 944.28 66.81" style="stroke: #000000; stroke-width: 0.936"/>
</g>
</g>
<g id="text_40">
<text style="font-size: 12px; font-family: 'DejaVu Sans', sans-serif; text-anchor: middle" x="943.77" y="403.31" transform="rotate(-0 943.77 403.31)">50</text>
</g>
</g>
<g id="xtick_16">
<g id="line2d_81">
<path d="M 1009.80 387.72 L 1009.80 60.84" clip-path="url(#p8844d95abf)" style="fill: none; stroke-dasharray: 1.296,4.752; stroke-dashoffset: 0; stroke: #000000; stroke-width: 0.792"/>
</g>
<g id="line2d_82">
<g>
<path d="M 1009.80 387.72 L 1009.80 381.74" style="stroke: #000000; stroke-width: 0.936"/>
</g>
</g>
<g id="line2d_83">
<g>
<path d="M 1009.80 60.84 L 1009.80 66.81" style="stroke: #000000; stroke-width: 0.936"/>
</g>
</g>
<g id="text_41">
<text style="font-size: 12px; font-family: 'DejaVu Sans', sans-serif; text-anchor: middle" x="1009.14" y="403.31" transform="rotate(-0 1009.14 403.31)">100</text>
</g>
</g>
<g id="xtick_17">
<g id="line2d_84">
<path d="M 1074.60 387.72 L 1074.60 60.84" clip-path="url(#p8844d95abf)" style="fill: none; stroke-dasharray: 1.296,4.752; stroke-dashoffset: 0; stroke: #000000; stroke-width: 0.792"/>
</g>
<g id="line2d_85">
<g>
<path d="M 1074.60 387.72 L 1074.60 381.74" style="stroke: #000000; stroke-width: 0.936"/>
</g>
</g>
<g id="line2d_86">
<g>
<path d="M 1074.60 60.84 L 1074.60 66.81" style="stroke: #000000; stroke-width: 0.936"/>
</g>
</g>
<g id="text_42">
<text style="font-size: 12px; font-family: 'DejaVu Sans', sans-serif; text-anchor: middle" x="1074.52" y="403.31" transform="rotate(-0 1074.52 403.31)">150</text>
</g>
</g>
<g id="xtick_18">
<g id="line2d_87">
<path d="M 1140.12 387.72 L 1140.12 60.84" clip-path="url(#p8844d95abf)" style="fill: none; stroke-dasharray: 1.296,4.752; stroke-dashoffset: 0; stroke: #000000; stroke-width: 0.792"/>
</g>
<g id="line2d_88">
<g>
<path d="M 1140.12 387.72 L 1140.12 381.74" style="stroke: #000000; stroke-width: 0.936"/>
</g>
</g>
<g id="line2d_89">
<g>
<path d="M 1140.12 60.84 L 1140.12 66.81" style="stroke: #000000; stroke-width: 0.936"/>
</g>
</g>
<g id="text_43">
<text style="font-size: 12px; font-family: 'DejaVu Sans', sans-serif; text-anchor: middle" x="1139.89" y="403.31" transform="rotate(-0 1139.89 403.31)">200</text>
</g>
</g>
<g id="xtick_19">
<g id="line2d_90">
<path d="M 1205.64 387.72 L 1205.64 60.84" clip-path="url(#p8844d95abf)" style="fill: none; stroke-dasharray: 1.296,4.752; stroke-dashoffset: 0; stroke: #000000; stroke-width: 0.792"/>
</g>
<g id="line2d_91">
<g>
<path d="M 1205.64 387.72 L 1205.64 381.74" style="stroke: #000000; stroke-width: 0.936"/>
</g>
</g>
<g id="line2d_92">
<g>
<path d="M 1205.64 60.84 L 1205.64 66.81" style="stroke: #000000; stroke-width: 0.936"/>
</g>
</g>
<g id="text_44">
<text style="font-size: 12px; font-family: 'DejaVu Sans', sans-serif; text-anchor: middle" x="1205.27" y="403.31" transform="rotate(-0 1205.27 403.31)">250</text>
</g>
</g>
<g id="text_45">
<text style="font-size: 12px; font-family: 'DejaVu Sans', sans-serif; text-anchor: middle" x="1048.32" y="424.29" transform="rotate(-0 1048.32 424.29)">V3(km/s)</text>
</g>
</g>
<g id="matplotlib.axis_6">
<g id="ytick_15">
<g id="line2d_93">
<path d="M 885.24 387.72 L 1212.12 387.72" clip-path="url(#p8844d95abf)" style="fill: none; stroke-dasharray: 1.296,4.752; stroke-dashoffset: 0; stroke: #000000; stroke-width: 0.792"/>
</g>
<g id="line2d_94">
<g>
<path d="M 885.24 387.72 L 891.21 387.72" style="stroke: #000000; stroke-width: 0.936"/>
</g>
</g>
<g id="line2d_95">
<g>
<path d="M 1212.12 387.72 L 1206.14 387.72" style="stroke: #000000; stroke-width: 0.936"/>
</g>
</g>
<g id="text_46">
<text style="font-size: 12px; font-family: 'DejaVu Sans', sans-serif; text-anchor: end" x="879.12" y="390.67" transform="rotate(-0 879.12 390.67)">−100</text>
</g>
</g>
<g id="ytick_16">
<g id="line2d_96">
<path d="M 885.24 322.20 L 1212.12 322.20" clip-path="url(#p8844d95abf)" style="fill: none; stroke-dasharray: 1.296,4.752; stroke-dashoffset: 0; stroke: #000000; stroke-width: 0.792"/>
</g>
<g id="line2d_97">
<g>
<path d="M 885.24 322.20 L 891.21 322.20" style="stroke: #000000; stroke-width: 0.936"/>
</g>
</g>
<g id="line2d_98">
<g>
<path d="M 1212.12 322.20 L 1206.14 322.20" style="stroke: #000000; stroke-width: 0.936"/>
</g>
</g>
<g id="text_47">
<text style="font-size: 12px; font-family: 'DejaVu Sans', sans-serif; text-anchor: end" x="879.12" y="325.29" transform="rotate(-0 879.12 325.29)">−50</text>
</g>
</g>
<g id="ytick_17">
<g id="line2d_99">
<path d="M 885.24 256.68 L 1212.12 256.68" clip-path="url(#p8844d95abf)" style="fill: none; stroke-dasharray: 1.296,4.752; stroke-dashoffset: 0; stroke: #000000; stroke-width: 0.792"/>
</g>
<g id="line2d_100">
<g>
<path d="M 885.24 256.68 L 891.21 256.68" style="stroke: #000000; stroke-width: 0.936"/>
</g>
</g>
<g id="line2d_101">
<g>
<path d="M 1212.12 256.68 L 1206.14 256.68" style="stroke: #000000; stroke-width: 0.936"/>
</g>
</g>
<g id="text_48">
<text style="font-size: 12px; font-family: 'DejaVu Sans', sans-serif; text-anchor: end" x="879.12" y="259.91" transform="rotate(-0 879.12 259.91)">0</text>
</g>
</g>
<g id="ytick_18">
<g id="line2d_102">
<path d="M 885.24 191.88 L 1212.12 191.88" clip-path="url(#p8844d95abf)" style="fill: none; stroke-dasharray: 1.296,4.752; stroke-dashoffset: 0; stroke: #000000; stroke-width: 0.792"/>
</g>
<g id="line2d_103">
<g>
<path d="M 885.24 191.88 L 891.21 191.88" style="stroke: #000000; stroke-width: 0.936"/>
</g>
</g>
<g id="line2d_104">
<g>
<path d="M 1212.12 191.88 L 1206.14 191.88" style="stroke: #000000; stroke-width: 0.936"/>
</g>
</g>
<g id="text_49">
<text style="font-size: 12px; font-family: 'DejaVu Sans', sans-serif; text-anchor: end" x="879.12" y="194.54" transform="rotate(-0 879.12 194.54)">50</text>
</g>
</g>
<g id="ytick_19">
<g id="line2d_105">
<path d="M 885.24 126.36 L 1212.12 126.36" clip-path="url(#p8844d95abf)" style="fill: none; stroke-dasharray: 1.296,4.752; stroke-dashoffset: 0; stroke: #000000; stroke-width: 0.792"/>
</g>
<g id="line2d_106">
<g>
<path d="M 885.24 126.36 L 891.21 126.36" style="stroke: #000000; stroke-width: 0.936"/>
</g>
</g>
<g id="line2d_107">
<g>
<path d="M 1212.12 126.36 L 1206.14 126.36" style="stroke: #000000; stroke-width: 0.936"/>
</g>
</g>
<g id="text_50">
<text style="font-size: 12px; font-family: 'DejaVu Sans', sans-serif; text-anchor: end" x="879.12" y="129.16" transform="rotate(-0 879.12 129.16)">100</text>
</g>
</g>
<g id="ytick_20">
<g id="line2d_108">
<path d="M 885.24 60.84 L 1212.12 60.84" clip-path="url(#p8844d95abf)" style="fill: none; stroke-dasharray: 1.296,4.752; stroke-dashoffset: 0; stroke: #000000; stroke-width: 0.792"/>
</g>
<g id="line2d_109">
<g>
<path d="M 885.24 60.84 L 891.21 60.84" style="stroke: #000000; stroke-width: 0.936"/>
</g>
</g>
<g id="line2d_110">
<g>
<path d="M 1212.12 60.84 L 1206.14 60.84" style="stroke: #000000; stroke-width: 0.936"/>
</g>
</g>
<g id="text_51">
<text style="font-size: 12px; font-family: 'DejaVu Sans', sans-serif; text-anchor: end" x="879.12" y="63.79" transform="rotate(-0 879.12 63.79)">150</text>
</g>
</g>
<g id="text_52">
<text style="font-size: 12px; font-family: 'DejaVu Sans', sans-serif; text-anchor: middle" x="834.30" y="223.92" transform="rotate(-90 834.30 223.92)">V1(km/s)</text>
</g>
</g>
<g id="text_53">
<g transform="translate(908.51 372.25)">
<text>
<tspan x="0.00" y="-0.61" style="font-size: 12.15px; font-style: italic; font-family: 'DejaVu Serif', serif">λ</tspan>
<tspan x="13.46" y="0.34" style="font-size: 13.77px; font-family: 'DejaVu Sans', sans-serif">/</tspan>
<tspan x="20.21" y="-0.61" style="font-size: 12.15px; font-style: italic; font-family: 'DejaVu Serif', serif">λ</tspan>
<tspan x="7.87" y="1.69" style="font-size: 9.45px; font-family: 'Liberation Serif', serif">1</tspan>
<tspan x="28.08" y="1.69" style="font-size: 9.45px; font-family: 'Liberation Serif', serif">3</tspan>
<tspan x="36.03" y="-0.88" style="font-size: 12.56px; font-family: 'DejaVu Sans', sans-serif">≈</tspan>
<tspan x="47.09" y="-0.60" style="font-size: 13.5px; font-family: 'DejaVu Sans', sans-serif"> </tspan>
<tspan x="51.38" y="-0.60" style="font-size: 13.5px; font-family: 'DejaVu Sans', sans-serif">3</tspan>
<tspan x="59.97" y="-0.60" style="font-size: 13.5px; font-family: 'DejaVu Sans', sans-serif">6</tspan>
<tspan x="68.56" y="-0.60" style="font-size: 13.5px; font-family: 'DejaVu Sans', sans-serif">.</tspan>
<tspan x="72.85" y="-0.60" style="font-size: 13.5px; font-family: 'DejaVu Sans', sans-serif">9</tspan>
<tspan x="81.44" y="-0.60" style="font-size: 13.5px; font-family: 'DejaVu Sans', sans-serif">6</tspan>
</text>
</g>
</g>
<g id="text_54">
<text style="font-size: 16.72px; font-family: 'DejaVu Sans', sans-serif; text-anchor: middle" x="1048.32" y="53.28" transform="rotate(-0 1048.32 53.28)">Hodogram(V3_V1 MVAB frame)</text>
</g>
<g id="legend_3">
<g id="patch_19">
<path d="M 1124.64 108.72 L 1206.72 108.72 L 1206.72 65.52 L 1124.64 65.52 z" style="fill: #ffffff; stroke: #000000; stroke-width: 1.44; stroke-linejoin: miter"/>
</g>
<g id="line2d_111">
<path d="M 1134.00 76.32 L 1147.68 76.32" style="fill: none; stroke: #0000ff; stroke-width: 1.4976; stroke-linecap: square"/>
<g>
<circle cx="1134.01" cy="76.68" r="2.650" style="fill: #0000ff"/>
<circle cx="1147.91" cy="76.68" r="2.650" style="fill: #0000ff"/>
</g>
</g>
<g id="text_55">
<g transform="translate(1157.83 80.33)">
<text>
<tspan x="0" y="-0.49" style="font-size: 10.45px; font-family: 'DejaVu Sans', sans-serif">B</tspan>
<tspan x="7.20" y="-0.49" style="font-size: 10.45px; font-family: 'DejaVu Sans', sans-serif">/</tspan>
<tspan x="10.74" y="1.53" style="font-size: 12.21px; font-family: 'DejaVu Sans', sans-serif">√</tspan>
<tspan x="20.48" y="-0.74" style="font-size: 9.40px; font-style: italic; font-family: 'DejaVu Serif', serif">μ</tspan>
<tspan x="31.09" y="-0.74" style="font-size: 9.40px; font-style: italic; font-family: 'DejaVu Serif', serif">ρ</tspan>
<tspan x="26.77" y="1.04" style="font-size: 7.32px; font-family: 'Liberation Serif', serif">0</tspan>
</text>
<rect x="19.17" y="-8.69" width="18.61" height="0.65"/>
</g>
</g>
<g id="line2d_112">
<path d="M 1134.00 95.76 L 1147.68 95.76" style="fill: none; stroke: #ff0000; stroke-width: 1.4976; stroke-linecap: square"/>
<g>
<circle cx="1134.01" cy="95.69" r="2.650" style="fill: #ff0000"/>
<circle cx="1147.91" cy="95.69" r="2.650" style="fill: #ff0000"/>
</g>
</g>
<g id="text_56">
<g transform="translate(1157.83 99.35)">
<text>
<tspan x="0" y="-0.70" style="font-size: 10.45px; font-family: 'DejaVu Sans', sans-serif">V</tspan>
<tspan x="7.65" y="1.07" style="font-size: 6.58px; font-style: italic; font-family: 'DejaVu Serif', serif">r</tspan>
<tspan x="10.95" y="1.07" style="font-size: 6.58px; font-style: italic; font-family: 'DejaVu Serif', serif">e</tspan>
<tspan x="14.34" y="1.07" style="font-size: 6.58px; font-style: italic; font-family: 'DejaVu Serif', serif">m</tspan>
<tspan x="20.76" y="1.07" style="font-size: 6.58px; font-style: italic; font-family: 'DejaVu Serif', serif">a</tspan>
<tspan x="24.61" y="1.07" style="font-size: 6.58px; font-style: italic; font-family: 'DejaVu Serif', serif">i</tspan>
<tspan x="27.13" y="1.07" style="font-size: 6.58px; font-style: italic; font-family: 'DejaVu Serif', serif">n</tspan>
<tspan x="31.51" y="1.07" style="font-size: 6.58px; font-style: italic; font-family: 'DejaVu Serif', serif">i</tspan>
<tspan x="34.03" y="1.07" style="font-size: 6.58px; font-style: italic; font-family: 'DejaVu Serif', serif">n</tspan>
<tspan x="38.41" y="1.07" style="font-size: 6.58px; font-style: italic; font-family: 'DejaVu Serif', serif">g</tspan>
</text>
</g>
</g>
</g>
</g>
<g id="axes_4">
<g id="patch_20">
<path d="M 484.56 803.52 
L 811.44 803.52 
L 811.44 476.64 
L 484.56 476.64 
z
" style="fill: #ffffff"/>
</g>
<g id="line2d_113">
<path d="M 669.88 793.12 
L 700.01 734.70 
L 696.32 766.37 
L 673.87 705.80 
L 691.40 722.40 
L 664.65 693.81 
L 661.27 690.73 
L 680.64 682.12 
L 656.96 682.12 
L 651.74 672.90 
L 657.73 594.19 
L 654.04 645.84 
L 629.60 637.54 
L 622.68 625.09 
L 606.54 609.41 
L 600.08 583.12 
L 616.68 554.52 
L 640.21 566.51 
L 630.98 575.74 
L 643.90 559.60 
L 646.66 525.01 
L 666.96 504.71 
L 691.40 522.24 
L 702.93 530.54 
L 709.39 542.53 
L 691.40 534.23 
L 688.63 529.62 
L 662.80 484.88 
L 669.72 489.95 
L 674.80 497.33 
L 682.64 480.27 
L 698.78 486.26 
" clip-path="url(#p5c10412601)" style="fill: none; stroke: #0000ff; stroke-width: 1.4976; stroke-linecap: square"/>
<g clip-path="url(#p5c10412601)">
<circle cx="669.88" cy="793.13" r="2.650" style="fill: #0000ff"/>
<circle cx="700.01" cy="734.71" r="2.650" style="fill: #0000ff"/>
<circle cx="696.32" cy="766.38" r="2.650" style="fill: #0000ff"/>
<circle cx="673.88" cy="705.80" r="2.650" style="fill: #0000ff"/>
<circle cx="691.40" cy="722.41" r="2.650" style="fill: #0000ff"/>
<circle cx="664.65" cy="693.81" r="2.650" style="fill: #0000ff"/>
<circle cx="661.27" cy="690.74" r="2.650" style="fill: #0000ff"/>
<circle cx="680.64" cy="682.13" r="2.650" style="fill: #0000ff"/>
<circle cx="656.97" cy="682.13" r="2.650" style="fill: #0000ff"/>
<circle cx="651.74" cy="672.91" r="2.650" style="fill: #0000ff"/>
<circle cx="657.74" cy="594.19" r="2.650" style="fill: #0000ff"/>
<circle cx="654.05" cy="645.85" r="2.650" style="fill: #0000ff"/>
<circle cx="629.60" cy="637.55" r="2.650" style="fill: #0000ff"/>
<circle cx="622.68" cy="625.09" r="2.650" style="fill: #0000ff"/>
<circle cx="606.54" cy="609.41" r="2.650" style="fill: #0000ff"/>
<circle cx="600.09" cy="583.12" r="2.650" style="fill: #0000ff"/>
<circle cx="616.69" cy="554.53" r="2.650" style="fill: #0000ff"/>
<circle cx="640.21" cy="566.52" r="2.650" style="fill: #0000ff"/>
<circle cx="630.99" cy="575.74" r="2.650" style="fill: #0000ff"/>
<circle cx="643.90" cy="559.60" r="2.650" style="fill: #0000ff"/>
<circle cx="646.67" cy="525.01" r="2.650" style="fill: #0000ff"/>
<circle cx="666.96" cy="504.72" r="2.650" style="fill: #0000ff"/>
<circle cx="691.40" cy="522.24" r="2.650" style="fill: #0000ff"/>
<circle cx="702.94" cy="530.55" r="2.650" style="fill: #0000ff"/>
<circle cx="709.39" cy="542.54" r="2.650" style="fill: #0000ff"/>
<circle cx="691.40" cy="534.23" r="2.650" style="fill: #0000ff"/>
<circle cx="688.64" cy="529.62" r="2.650" style="fill: #0000ff"/>
<circle cx="662.81" cy="484.89" r="2.650" style="fill: #0000ff"/>
<circle cx="669.73" cy="489.96" r="2.650" style="fill: #0000ff"/>
<circle cx="674.80" cy="497.34" r="2.650" style="fill: #0000ff"/>
<circle cx="682.64" cy="480.27" r="2.650" style="fill: #0000ff"/>
<circle cx="698.78" cy="486.27" r="2.650" style="fill: #0000ff"/>
</g>
</g>
<g id="patch_21">
<path d="M 484.56 803.52 L 484.56 476.64" style="fill: none; stroke: #000000; stroke-width: 1.44; stroke-linejoin: miter; stroke-linecap: square"/>
</g>
<g id="patch_22">
<path d="M 811.44 803.52 L 811.44 476.64" style="fill: none; stroke: #000000; stroke-width: 1.44; stroke-linejoin: miter; stroke-linecap: square"/>
</g>
<g id="patch_23">
<path d="M 484.56 803.52 L 811.44 803.52" style="fill: none; stroke: #000000; stroke-width: 1.44; stroke-linejoin: miter; stroke-linecap: square"/>
</g>
<g id="patch_24">
<path d="M 484.56 476.64 L 811.44 476.64" style="fill: none; stroke: #000000; stroke-width: 1.44; stroke-linejoin: miter; stroke-linecap: square"/>
</g>
<g id="matplotlib.axis_7">
<g id="xtick_20">
<g id="line2d_114">
<path d="M 484.92 803.88 L 484.92 477.00" clip-path="url(#p5c10412601)" style="fill: none; stroke-dasharray: 1.296,4.752; stroke-dashoffset: 0; stroke: #000000; stroke-width: 0.792"/>
</g>
<g id="line2d_115">
<g>
<path d="M 484.92 803.88 L 484.92 797.90" style="stroke: #000000; stroke-width: 0.936"/>
</g>
</g>
<g id="line2d_116">
<g>
<path d="M 484.92 477.00 L 484.92 482.97" style="stroke: #000000; stroke-width: 0.936"/>
</g>
</g>
<g id="text_57">
<text style="font-size: 12px; font-family: 'DejaVu Sans', sans-serif; text-anchor: middle" x="484.66" y="819.47" transform="rotate(-0 484.66 819.47)">−120</text>
</g>
</g>
<g id="xtick_21">
<g id="line2d_117">
<path d="M 525.96 803.88 L 525.96 477.00" clip-path="url(#p5c10412601)" style="fill: none; stroke-dasharray: 1.296,4.752; stroke-dashoffset: 0; stroke: #000000; stroke-width: 0.792"/>
</g>
<g id="line2d_118">
<g>
<path d="M 525.96 803.88 L 525.96 797.90" style="stroke: #000000; stroke-width: 0.936"/>
</g>
</g>
<g id="line2d_119">
<g>
<path d="M 525.96 477.00 L 525.96 482.97" style="stroke: #000000; stroke-width: 0.936"/>
</g>
</g>
<g id="text_58">
<text style="font-size: 12px; font-family: 'DejaVu Sans', sans-serif; text-anchor: middle" x="525.50" y="819.47" transform="rotate(-0 525.50 819.47)">−100</text>
</g>
</g>
<g id="xtick_22">
<g id="line2d_120">
<path d="M 567.00 803.88 L 567.00 477.00" clip-path="url(#p5c10412601)" style="fill: none; stroke-dasharray: 1.296,4.752; stroke-dashoffset: 0; stroke: #000000; stroke-width: 0.792"/>
</g>
<g id="line2d_121">
<g>
<path d="M 567.00 803.88 L 567.00 797.90" style="stroke: #000000; stroke-width: 0.936"/>
</g>
</g>
<g id="line2d_122">
<g>
<path d="M 567.00 477.00 L 567.00 482.97" style="stroke: #000000; stroke-width: 0.936"/>
</g>
</g>
<g id="text_59">
<text style="font-size: 12px; font-family: 'DejaVu Sans', sans-serif; text-anchor: middle" x="566.35" y="819.47" transform="rotate(-0 566.35 819.47)">−80</text>
</g>
</g>
<g id="xtick_23">
<g id="line2d_123">
<path d="M 607.32 803.88 L 607.32 477.00" clip-path="url(#p5c10412601)" style="fill: none; stroke-dasharray: 1.296,4.752; stroke-dashoffset: 0; stroke: #000000; stroke-width: 0.792"/>
</g>
<g id="line2d_124">
<g>
<path d="M 607.32 803.88 L 607.32 797.90" style="stroke: #000000; stroke-width: 0.936"/>
</g>
</g>
<g id="line2d_125">
<g>
<path d="M 607.32 477.00 L 607.32 482.97" style="stroke: #000000; stroke-width: 0.936"/>
</g>
</g>
<g id="text_60">
<text style="font-size: 12px; font-family: 'DejaVu Sans', sans-serif; text-anchor: middle" x="607.20" y="819.47" transform="rotate(-0 607.20 819.47)">−60</text>
</g>
</g>
<g id="xtick_24">
<g id="line2d_126">
<path d="M 648.36 803.88 L 648.36 477.00" clip-path="url(#p5c10412601)" style="fill: none; stroke-dasharray: 1.296,4.752; stroke-dashoffset: 0; stroke: #000000; stroke-width: 0.792"/>
</g>
<g id="line2d_127">
<g>
<path d="M 648.36 803.88 L 648.36 797.90" style="stroke: #000000; stroke-width: 0.936"/>
</g>
</g>
<g id="line2d_128">
<g>
<path d="M 648.36 477.00 L 648.36 482.97" style="stroke: #000000; stroke-width: 0.936"/>
</g>
</g>
<g id="text_61">
<text style="font-size: 12px; font-family: 'DejaVu Sans', sans-serif; text-anchor: middle" x="648.05" y="819.47" transform="rotate(-0 648.05 819.47)">−40</text>
</g>
</g>
<g id="xtick_25">
<g id="line2d_129">
<path d="M 689.40 803.88 L 689.40 477.00" clip-path="url(#p5c10412601)" style="fill: none; stroke-dasharray: 1.296,4.752; stroke-dashoffset: 0; stroke: #000000; stroke-width: 0.792"/>
</g>
<g id="line2d_130">
<g>
<path d="M 689.40 803.88 L 689.40 797.90" style="stroke: #000000; stroke-width: 0.936"/>
</g>
</g>
<g id="line2d_131">
<g>
<path d="M 689.40 477.00 L 689.40 482.97" style="stroke: #000000; stroke-width: 0.936"/>
</g>
</g>
<g id="text_62">
<text style="font-size: 12px; font-family: 'DejaVu Sans', sans-serif; text-anchor: middle" x="688.89" y="819.47" transform="rotate(-0 688.89 819.47)">−20</text>
</g>
</g>
<g id="xtick_26">
<g id="line2d_132">
<path d="M 730.44 803.88 L 730.44 477.00" clip-path="url(#p5c10412601)" style="fill: none; stroke-dasharray: 1.296,4.752; stroke-dashoffset: 0; stroke: #000000; stroke-width: 0.792"/>
</g>
<g id="line2d_133">
<g>
<path d="M 730.44 803.88 L 730.44 797.90" style="stroke: #000000; stroke-width: 0.936"/>
</g>
</g>
<g id="line2d_134">
<g>
<path d="M 730.44 477.00 L 730.44 482.97" style="stroke: #000000; stroke-width: 0.936"/>
</g>
</g>
<g id="text_63">
<text style="font-size: 12px; font-family: 'DejaVu Sans', sans-serif; text-anchor: middle" x="729.74" y="819.47" transform="rotate(-0 729.74 819.47)">0</text>
</g>
</g>
<g id="xtick_27">
<g id="line2d_135">
<path d="M 770.76 803.88 L 770.76 477.00" clip-path="url(#p5c10412601)" style="fill: none; stroke-dasharray: 1.296,4.752; stroke-dashoffset: 0; stroke: #000000; stroke-width: 0.792"/>
</g>
<g id="line2d_136">
<g>
<path d="M 770.76 803.88 L 770.76 797.90" style="stroke: #000000; stroke-width: 0.936"/>
</g>
</g>
<g id="line2d_137">
<g>
<path d="M 770.76 477.00 L 770.76 482.97" style="stroke: #000000; stroke-width: 0.936"/>
</g>
</g>
<g id="text_64">
<text style="font-size: 12px; font-family: 'DejaVu Sans', sans-serif; text-anchor: middle" x="770.59" y="819.47" transform="rotate(-0 770.59 819.47)">20</text>
</g>
</g>
<g id="xtick_28">
<g id="line2d_138">
<path d="M 811.80 803.88 L 811.80 477.00" clip-path="url(#p5c10412601)" style="fill: none; stroke-dasharray: 1.296,4.752; stroke-dashoffset: 0; stroke: #000000; stroke-width: 0.792"/>
</g>
<g id="line2d_139">
<g>
<path d="M 811.80 803.88 L 811.80 797.90" style="stroke: #000000; stroke-width: 0.936"/>
</g>
</g>
<g id="line2d_140">
<g>
<path d="M 811.80 477.00 L 811.80 482.97" style="stroke: #000000; stroke-width: 0.936"/>
</g>
</g>
<g id="text_65">
<text style="font-size: 12px; font-family: 'DejaVu Sans', sans-serif; text-anchor: middle" x="811.43" y="819.47" transform="rotate(-0 811.43 819.47)">40</text>
</g>
</g>
<g id="text_66">
<text style="font-size: 12px; font-family: 'DejaVu Sans', sans-serif; text-anchor: middle" x="648" y="840.45" transform="rotate(-0 648 840.45)">V2(km/s)</text>
</g>
</g>
<g id="matplotlib.axis_8">
<g id="ytick_21">
<g id="line2d_141">
<path d="M 484.92 803.88 L 811.80 803.88" clip-path="url(#p5c10412601)" style="fill: none; stroke-dasharray: 1.296,4.752; stroke-dashoffset: 0; stroke: #000000; stroke-width: 0.792"/>
</g>
<g id="line2d_142">
<g>
<path d="M 484.92 803.88 L 490.89 803.88" style="stroke: #000000; stroke-width: 0.936"/>
</g>
</g>
<g id="line2d_143">
<g>
<path d="M 811.80 803.88 L 805.82 803.88" style="stroke: #000000; stroke-width: 0.936"/>
</g>
</g>
<g id="text_67">
<text style="font-size: 12px; font-family: 'DejaVu Sans', sans-serif; text-anchor: end" x="478.8" y="806.72" transform="rotate(-0 478.8 806.72)">−100</text>
</g>
</g>
<g id="ytick_22">
<g id="line2d_144">
<path d="M 484.92 762.84 L 811.80 762.84" clip-path="url(#p5c10412601)" style="fill: none; stroke-dasharray: 1.296,4.752; stroke-dashoffset: 0; stroke: #000000; stroke-width: 0.792"/>
</g>
<g id="line2d_145">
<g>
<path d="M 484.92 762.84 L 490.89 762.84" style="stroke: #000000; stroke-width: 0.936"/>
</g>
</g>
<g id="line2d_146">
<g>
<path d="M 811.80 762.84 L 805.82 762.84" style="stroke: #000000; stroke-width: 0.936"/>
</g>
</g>
<g id="text_68">
<text style="font-size: 12px; font-family: 'DejaVu Sans', sans-serif; text-anchor: end" x="478.8" y="765.88" transform="rotate(-0 478.8 765.88)">−80</text>
</g>
</g>
<g id="ytick_23">
<g id="line2d_147">
<path d="M 484.92 721.80 L 811.80 721.80" clip-path="url(#p5c10412601)" style="fill: none; stroke-dasharray: 1.296,4.752; stroke-dashoffset: 0; stroke: #000000; stroke-width: 0.792"/>
</g>
<g id="line2d_148">
<g>
<path d="M 484.92 721.80 L 490.89 721.80" style="stroke: #000000; stroke-width: 0.936"/>
</g>
</g>
<g id="line2d_149">
<g>
<path d="M 811.80 721.80 L 805.82 721.80" style="stroke: #000000; stroke-width: 0.936"/>
</g>
</g>
<g id="text_69">
<text style="font-size: 12px; font-family: 'DejaVu Sans', sans-serif; text-anchor: end" x="478.8" y="725.03" transform="rotate(-0 478.8 725.03)">−60</text>
</g>
</g>
<g id="ytick_24">
<g id="line2d_150">
<path d="M 484.92 681.48 L 811.80 681.48" clip-path="url(#p5c10412601)" style="fill: none; stroke-dasharray: 1.296,4.752; stroke-dashoffset: 0; stroke: #000000; stroke-width: 0.792"/>
</g>
<g id="line2d_151">
<g>
<path d="M 484.92 681.48 L 490.89 681.48" style="stroke: #000000; stroke-width: 0.936"/>
</g>
</g>
<g id="line2d_152">
<g>
<path d="M 811.80 681.48 L 805.82 681.48" style="stroke: #000000; stroke-width: 0.936"/>
</g>
</g>
<g id="text_70">
<text style="font-size: 12px; font-family: 'DejaVu Sans', sans-serif; text-anchor: end" x="478.8" y="684.18" transform="rotate(-0 478.8 684.18)">−40</text>
</g>
</g>
<g id="ytick_25">
<g id="line2d_153">
<path d="M 484.92 640.44 L 811.80 640.44" clip-path="url(#p5c10412601)" style="fill: none; stroke-dasharray: 1.296,4.752; stroke-dashoffset: 0; stroke: #000000; stroke-width: 0.792"/>
</g>
<g id="line2d_154">
<g>
<path d="M 484.92 640.44 L 490.89 640.44" style="stroke: #000000; stroke-width: 0.936"/>
</g>
</g>
<g id="line2d_155">
<g>
<path d="M 811.80 640.44 L 805.82 640.44" style="stroke: #000000; stroke-width: 0.936"/>
</g>
</g>
<g id="text_71">
<text style="font-size: 12px; font-family: 'DejaVu Sans', sans-serif; text-anchor: end" x="478.8" y="643.34" transform="rotate(-0 478.8 643.34)">−20</text>
</g>
</g>
<g id="ytick_26">
<g id="line2d_156">
<path d="M 484.92 599.40 L 811.80 599.40" clip-path="url(#p5c10412601)" style="fill: none; stroke-dasharray: 1.296,4.752; stroke-dashoffset: 0; stroke: #000000; stroke-width: 0.792"/>
</g>
<g id="line2d_157">
<g>
<path d="M 484.92 599.40 L 490.89 599.40" style="stroke: #000000; stroke-width: 0.936"/>
</g>
</g>
<g id="line2d_158">
<g>
<path d="M 811.80 599.40 L 805.82 599.40" style="stroke: #000000; stroke-width: 0.936"/>
</g>
</g>
<g id="text_72">
<text style="font-size: 12px; font-family: 'DejaVu Sans', sans-serif; text-anchor: end" x="478.8" y="602.49" transform="rotate(-0 478.8 602.49)">0</text>
</g>
</g>
<g id="ytick_27">
<g id="line2d_159">
<path d="M 484.92 558.36 L 811.80 558.36" clip-path="url(#p5c10412601)" style="fill: none; stroke-dasharray: 1.296,4.752; stroke-dashoffset: 0; stroke: #000000; stroke-width: 0.792"/>
</g>
<g id="line2d_160">
<g>
<path d="M 484.92 558.36 L 490.89 558.36" style="stroke: #000000; stroke-width: 0.936"/>
</g>
</g>
<g id="line2d_161">
<g>
<path d="M 811.80 558.36 L 805.82 558.36" style="stroke: #000000; stroke-width: 0.936"/>
</g>
</g>
<g id="text_73">
<text style="font-size: 12px; font-family: 'DejaVu Sans', sans-serif; text-anchor: end" x="478.8" y="561.64" transform="rotate(-0 478.8 561.64)">20</text>
</g>
</g>
<g id="ytick_28">
<g id="line2d_162">
<path d="M 484.92 518.04 L 811.80 518.04" clip-path="url(#p5c10412601)" style="fill: none; stroke-dasharray: 1.296,4.752; stroke-dashoffset: 0; stroke: #000000; stroke-width: 0.792"/>
</g>
<g id="line2d_163">
<g>
<path d="M 484.92 518.04 L 490.89 518.04" style="stroke: #000000; stroke-width: 0.936"/>
</g>
</g>
<g id="line2d_164">
<g>
<path d="M 811.80 518.04 L 805.82 518.04" style="stroke: #000000; stroke-width: 0.936"/>
</g>
</g>
<g id="text_74">
<text style="font-size: 12px; font-family: 'DejaVu Sans', sans-serif; text-anchor: end" x="478.8" y="520.80" transform="rotate(-0 478.8 520.80)">40</text>
</g>
</g>
<g id="ytick_29">
<g id="line2d_165">
<path d="M 484.92 477.00 L 811.80 477.00" clip-path="url(#p5c10412601)" style="fill: none; stroke-dasharray: 1.296,4.752; stroke-dashoffset: 0; stroke: #000000; stroke-width: 0.792"/>
</g>
<g id="line2d_166">
<g>
<path d="M 484.92 477.00 L 490.89 477.00" style="stroke: #000000; stroke-width: 0.936"/>
</g>
</g>
<g id="line2d_167">
<g>
<path d="M 811.80 477.00 L 805.82 477.00" style="stroke: #000000; stroke-width: 0.936"/>
</g>
</g>
<g id="text_75">
<text style="font-size: 12px; font-family: 'DejaVu Sans', sans-serif; text-anchor: end" x="478.8" y="479.95" transform="rotate(-0 478.8 479.95)">60</text>
</g>
</g>
<g id="text_76">
<text style="font-size: 12px; font-family: 'DejaVu Sans', sans-serif; text-anchor: middle" x="433.98" y="640.08" transform="rotate(-90 433.98 640.08)">V1(km/s)</text>
</g>
</g>
<g id="text_77">
<g transform="translate(494.03 787.27)">
<text>
<tspan x="0.00" y="-0.61" style="font-size: 12.15px; font-style: italic; font-family: 'DejaVu Serif', serif">λ</tspan>
<tspan x="13.46" y="0.34" style="font-size: 13.77px; font-family: 'DejaVu Sans', sans-serif">/</tspan>
<tspan x="20.21" y="-0.61" style="font-size: 12.15px; font-style: italic; font-family: 'DejaVu Serif', serif">λ</tspan>
<tspan x="7.87" y="1.69" style="font-size: 9.45px; font-family: 'Liberation Serif', serif">1</tspan>
<tspan x="28.08" y="1.69" style="font-size: 9.45px; font-family: 'Liberation Serif', serif">2</tspan>
<tspan x="36.03" y="-0.88" style="font-size: 12.56px; font-family: 'DejaVu Sans', sans-serif">≈</tspan>
<tspan x="47.09" y="-0.60" style="font-size: 13.5px; font-family: 'DejaVu Sans', sans-serif"> </tspan>
<tspan x="51.38" y="-0.60" style="font-size: 13.5px; font-family: 'DejaVu Sans', sans-serif">9</tspan>
<tspan x="59.97" y="-0.60" style="font-size: 13.5px; font-family: 'DejaVu Sans', sans-serif">.</tspan>
<tspan x="63.89" y="-0.60" style="font-size: 13.5px; font-family: 'DejaVu Sans', sans-serif">8</tspan>
</text>
</g>
</g>
<g id="text_78">
<g transform="translate(487.06 469.44)">
<text>
<tspan x="0" y="-0.07" style="font-size: 16.6px; font-family: 'DejaVu Sans', sans-serif">H</tspan>
<tspan x="12.50" y="-0.07" style="font-size: 16.6px; font-family: 'DejaVu Sans', sans-serif">o</tspan>
<tspan x="22.67" y="-0.07" style="font-size: 16.6px; font-family: 'DejaVu Sans', sans-serif">d</tspan>
<tspan x="33.22" y="-0.07" style="font-size: 16.6px; font-family: 'DejaVu Sans', sans-serif">o</tspan>
<tspan x="43.39" y="-0.07" style="font-size: 16.6px; font-family: 'DejaVu Sans', sans-serif">g</tspan>
<tspan x="53.95" y="-0.07" style="font-size: 16.6px; font-family: 'DejaVu Sans', sans-serif">r</tspan>
<tspan x="60.78" y="-0.07" style="font-size: 16.6px; font-family: 'DejaVu Sans', sans-serif">a</tspan>
<tspan x="70.97" y="-0.07" style="font-size: 16.6px; font-family: 'DejaVu Sans', sans-serif">m</tspan>
<tspan x="87.16" y="-0.07" style="font-size: 16.6px; font-family: 'DejaVu Sans', sans-serif"> </tspan>
<tspan x="92.45" y="-0.07" style="font-size: 16.6px; font-family: 'DejaVu Sans', sans-serif">(</tspan>
<tspan x="98.93" y="-0.07" style="font-size: 16.6px; font-family: 'DejaVu Sans', sans-serif">V</tspan>
<tspan x="110.31" y="-0.07" style="font-size: 16.6px; font-family: 'DejaVu Sans', sans-serif">2</tspan>
<tspan x="120.88" y="-0.07" style="font-size: 16.6px; font-family: 'DejaVu Sans', sans-serif">_</tspan>
<tspan x="129.20" y="-0.07" style="font-size: 16.6px; font-family: 'DejaVu Sans', sans-serif">V</tspan>
<tspan x="140.57" y="-0.07" style="font-size: 16.6px; font-family: 'DejaVu Sans', sans-serif">1</tspan>
<tspan x="151.15" y="-0.07" style="font-size: 16.6px; font-family: 'DejaVu Sans', sans-serif"> </tspan>
<tspan x="156.43" y="-0.07" style="font-size: 16.6px; font-family: 'DejaVu Sans', sans-serif">M</tspan>
<tspan x="170.77" y="-0.07" style="font-size: 16.6px; font-family: 'DejaVu Sans', sans-serif">V</tspan>
<tspan x="182.15" y="-0.07" style="font-size: 16.6px; font-family: 'DejaVu Sans', sans-serif">A</tspan>
<tspan x="193.52" y="-0.07" style="font-size: 16.6px; font-family: 'DejaVu Sans', sans-serif">V</tspan>
<tspan x="261.14" y="-0.07" style="font-size: 16.6px; font-family: 'DejaVu Sans', sans-serif"> </tspan>
<tspan x="266.43" y="-0.07" style="font-size: 16.6px; font-family: 'DejaVu Sans', sans-serif">f</tspan>
<tspan x="272.28" y="-0.07" style="font-size: 16.6px; font-family: 'DejaVu Sans', sans-serif">r</tspan>
<tspan x="279.11" y="-0.07" style="font-size: 16.6px; font-family: 'DejaVu Sans', sans-serif">a</tspan>
<tspan x="289.30" y="-0.07" style="font-size: 16.6px; font-family: 'DejaVu Sans', sans-serif">m</tspan>
<tspan x="305.50" y="-0.07" style="font-size: 16.6px; font-family: 'DejaVu Sans', sans-serif">e</tspan>
<tspan x="315.72" y="-0.07" style="font-size: 16.6px; font-family: 'DejaVu Sans', sans-serif">)</tspan>
<tspan x="205.64" y="2.74" style="font-size: 10.46px; font-style: italic; font-family: 'DejaVu Serif', serif">r</tspan>
<tspan x="210.88" y="2.74" style="font-size: 10.46px; font-style: italic; font-family: 'DejaVu Serif', serif">e</tspan>
<tspan x="216.28" y="2.74" style="font-size: 10.46px; font-style: italic; font-family: 'DejaVu Serif', serif">m</tspan>
<tspan x="226.48" y="2.74" style="font-size: 10.46px; font-style: italic; font-family: 'DejaVu Serif', serif">a</tspan>
<tspan x="232.61" y="2.74" style="font-size: 10.46px; font-style: italic; font-family: 'DejaVu Serif', serif">i</tspan>
<tspan x="236.61" y="2.74" style="font-size: 10.46px; font-style: italic; font-family: 'DejaVu Serif', serif">n</tspan>
<tspan x="243.58" y="2.74" style="font-size: 10.46px; font-style: italic; font-family: 'DejaVu Serif', serif">i</tspan>
<tspan x="247.58" y="2.74" style="font-size: 10.46px; font-style: italic; font-family: 'DejaVu Serif', serif">n</tspan>
<tspan x="254.55" y="2.74" style="font-size: 10.46px; font-style: italic; font-family: 'DejaVu Serif', serif">g</tspan>
</text>
</g>
</g>
</g>
<g id="axes_5">
<g id="patch_25">
<path d="M 884.88 803.52 
L 1211.76 803.52 
L 1211.76 476.64 
L 884.88 476.64 
z
" style="fill: #ffffff"/>
</g>
<g id="line2d_168">
<path d="M 1075.18 793.12 
L 1027.83 734.70 
L 1049.25 766.37 
L 1029.80 705.80 
L 1025.29 722.40 
L 1027.55 693.81 
L 1022.48 690.73 
L 1024.73 682.12 
L 1018.53 682.12 
L 1021.07 672.90 
L 1015.37 594.19 
L 1024.77 645.84 
L 1024.63 637.54 
L 1033.35 625.09 
L 1024.77 609.41 
L 1038.99 583.12 
L 1036.30 554.52 
L 1027.11 566.51 
L 1022.62 575.74 
L 1021.08 559.60 
L 1034.16 525.01 
L 1036.17 504.71 
L 1020.41 522.24 
L 1022.89 530.54 
L 1015.37 542.53 
L 1015.37 534.23 
L 1019.73 529.62 
L 1044.89 484.88 
L 1048.58 489.95 
L 1046.57 497.33 
L 1051.46 480.27 
L 1053.95 486.26 
" clip-path="url(#p4ce7f18f44)" style="fill: none; stroke: #0000ff; stroke-width: 1.4976; stroke-linecap: square"/>
<g clip-path="url(#p4ce7f18f44)">
<circle cx="1075.19" cy="793.13" r="2.650" style="fill: #0000ff"/>
<circle cx="1027.84" cy="734.71" r="2.650" style="fill: #0000ff"/>
<circle cx="1049.26" cy="766.38" r="2.650" style="fill: #0000ff"/>
<circle cx="1029.81" cy="705.80" r="2.650" style="fill: #0000ff"/>
<circle cx="1025.30" cy="722.41" r="2.650" style="fill: #0000ff"/>
<circle cx="1027.55" cy="693.81" r="2.650" style="fill: #0000ff"/>
<circle cx="1022.48" cy="690.74" r="2.650" style="fill: #0000ff"/>
<circle cx="1024.74" cy="682.13" r="2.650" style="fill: #0000ff"/>
<circle cx="1018.53" cy="682.13" r="2.650" style="fill: #0000ff"/>
<circle cx="1021.07" cy="672.91" r="2.650" style="fill: #0000ff"/>
<circle cx="1015.38" cy="594.19" r="2.650" style="fill: #0000ff"/>
<circle cx="1024.77" cy="645.85" r="2.650" style="fill: #0000ff"/>
<circle cx="1024.64" cy="637.55" r="2.650" style="fill: #0000ff"/>
<circle cx="1033.36" cy="625.09" r="2.650" style="fill: #0000ff"/>
<circle cx="1024.77" cy="609.41" r="2.650" style="fill: #0000ff"/>
<circle cx="1038.99" cy="583.12" r="2.650" style="fill: #0000ff"/>
<circle cx="1036.31" cy="554.53" r="2.650" style="fill: #0000ff"/>
<circle cx="1027.12" cy="566.52" r="2.650" style="fill: #0000ff"/>
<circle cx="1022.62" cy="575.74" r="2.650" style="fill: #0000ff"/>
<circle cx="1021.08" cy="559.60" r="2.650" style="fill: #0000ff"/>
<circle cx="1034.16" cy="525.01" r="2.650" style="fill: #0000ff"/>
<circle cx="1036.17" cy="504.72" r="2.650" style="fill: #0000ff"/>
<circle cx="1020.41" cy="522.24" r="2.650" style="fill: #0000ff"/>
<circle cx="1022.89" cy="530.55" r="2.650" style="fill: #0000ff"/>
<circle cx="1015.38" cy="542.54" r="2.650" style="fill: #0000ff"/>
<circle cx="1015.38" cy="534.23" r="2.650" style="fill: #0000ff"/>
<circle cx="1019.74" cy="529.62" r="2.650" style="fill: #0000ff"/>
<circle cx="1044.90" cy="484.89" r="2.650" style="fill: #0000ff"/>
<circle cx="1048.59" cy="489.96" r="2.650" style="fill: #0000ff"/>
<circle cx="1046.57" cy="497.34" r="2.650" style="fill: #0000ff"/>
<circle cx="1051.47" cy="480.27" r="2.650" style="fill: #0000ff"/>
<circle cx="1053.95" cy="486.27" r="2.650" style="fill: #0000ff"/>
</g>
</g>
<g id="patch_26">
<path d="M 884.88 803.52 L 884.88 476.64" style="fill: none; stroke: #000000; stroke-width: 1.44; stroke-linejoin: miter; stroke-linecap: square"/>
</g>
<g id="patch_27">
<path d="M 1211.76 803.52 L 1211.76 476.64" style="fill: none; stroke: #000000; stroke-width: 1.44; stroke-linejoin: miter; stroke-linecap: square"/>
</g>
<g id="patch_28">
<path d="M 884.88 803.52 L 1211.76 803.52" style="fill: none; stroke: #000000; stroke-width: 1.44; stroke-linejoin: miter; stroke-linecap: square"/>
</g>
<g id="patch_29">
<path d="M 884.88 476.64 L 1211.76 476.64" style="fill: none; stroke: #000000; stroke-width: 1.44; stroke-linejoin: miter; stroke-linecap: square"/>
</g>
<g id="matplotlib.axis_9">
<g id="xtick_29">
<g id="line2d_169">
<path d="M 921.24 803.88 L 921.24 477.00" clip-path="url(#p4ce7f18f44)" style="fill: none; stroke-dasharray: 1.296,4.752; stroke-dashoffset: 0; stroke: #000000; stroke-width: 0.792"/>
</g>
<g id="line2d_170">
<g>
<path d="M 921.24 803.88 L 921.24 797.90" style="stroke: #000000; stroke-width: 0.936"/>
</g>
</g>
<g id="line2d_171">
<g>
<path d="M 921.24 477.00 L 921.24 482.97" style="stroke: #000000; stroke-width: 0.936"/>
</g>
</g>
<g id="text_79">
<text style="font-size: 12px; font-family: 'DejaVu Sans', sans-serif; text-anchor: middle" x="921.04" y="819.47" transform="rotate(-0 921.04 819.47)">−180</text>
</g>
</g>
<g id="xtick_30">
<g id="line2d_172">
<path d="M 962.28 803.88 L 962.28 477.00" clip-path="url(#p4ce7f18f44)" style="fill: none; stroke-dasharray: 1.296,4.752; stroke-dashoffset: 0; stroke: #000000; stroke-width: 0.792"/>
</g>
<g id="line2d_173">
<g>
<path d="M 962.28 803.88 L 962.28 797.90" style="stroke: #000000; stroke-width: 0.936"/>
</g>
</g>
<g id="line2d_174">
<g>
<path d="M 962.28 477.00 L 962.28 482.97" style="stroke: #000000; stroke-width: 0.936"/>
</g>
</g>
<g id="text_80">
<text style="font-size: 12px; font-family: 'DejaVu Sans', sans-serif; text-anchor: middle" x="961.90" y="819.47" transform="rotate(-0 961.90 819.47)">−160</text>
</g>
</g>
<g id="xtick_31">
<g id="line2d_175">
<path d="M 1003.32 803.88 L 1003.32 477.00" clip-path="url(#p4ce7f18f44)" style="fill: none; stroke-dasharray: 1.296,4.752; stroke-dashoffset: 0; stroke: #000000; stroke-width: 0.792"/>
</g>
<g id="line2d_176">
<g>
<path d="M 1003.32 803.88 L 1003.32 797.90" style="stroke: #000000; stroke-width: 0.936"/>
</g>
</g>
<g id="line2d_177">
<g>
<path d="M 1003.32 477.00 L 1003.32 482.97" style="stroke: #000000; stroke-width: 0.936"/>
</g>
</g>
<g id="text_81">
<text style="font-size: 12px; font-family: 'DejaVu Sans', sans-serif; text-anchor: middle" x="1002.76" y="819.47" transform="rotate(-0 1002.76 819.47)">−140</text>
</g>
</g>
<g id="xtick_32">
<g id="line2d_178">
<path d="M 1043.64 803.88 L 1043.64 477.00" clip-path="url(#p4ce7f18f44)" style="fill: none; stroke-dasharray: 1.296,4.752; stroke-dashoffset: 0; stroke: #000000; stroke-width: 0.792"/>
</g>
<g id="line2d_179">
<g>
<path d="M 1043.64 803.88 L 1043.64 797.90" style="stroke: #000000; stroke-width: 0.936"/>
</g>
</g>
<g id="line2d_180">
<g>
<path d="M 1043.64 477.00 L 1043.64 482.97" style="stroke: #000000; stroke-width: 0.936"/>
</g>
</g>
<g id="text_82">
<text style="font-size: 12px; font-family: 'DejaVu Sans', sans-serif; text-anchor: middle" x="1043.62" y="819.47" transform="rotate(-0 1043.62 819.47)">−120</text>
</g>
</g>
<g id="xtick_33">
<g id="line2d_181">
<path d="M 1084.68 803.88 L 1084.68 477.00" clip-path="url(#p4ce7f18f44)" style="fill: none; stroke-dasharray: 1.296,4.752; stroke-dashoffset: 0; stroke: #000000; stroke-width: 0.792"/>
</g>
<g id="line2d_182">
<g>
<path d="M 1084.68 803.88 L 1084.68 797.90" style="stroke: #000000; stroke-width: 0.936"/>
</g>
</g>
<g id="line2d_183">
<g>
<path d="M 1084.68 477.00 L 1084.68 482.97" style="stroke: #000000; stroke-width: 0.936"/>
</g>
</g>
<g id="text_83">
<text style="font-size: 12px; font-family: 'DejaVu Sans', sans-serif; text-anchor: middle" x="1084.48" y="819.47" transform="rotate(-0 1084.48 819.47)">−100</text>
</g>
</g>
<g id="xtick_34">
<g id="line2d_184">
<path d="M 1125.72 803.88 L 1125.72 477.00" clip-path="url(#p4ce7f18f44)" style="fill: none; stroke-dasharray: 1.296,4.752; stroke-dashoffset: 0; stroke: #000000; stroke-width: 0.792"/>
</g>
<g id="line2d_185">
<g>
<path d="M 1125.72 803.88 L 1125.72 797.90" style="stroke: #000000; stroke-width: 0.936"/>
</g>
</g>
<g id="line2d_186">
<g>
<path d="M 1125.72 477.00 L 1125.72 482.97" style="stroke: #000000; stroke-width: 0.936"/>
</g>
</g>
<g id="text_84">
<text style="font-size: 12px; font-family: 'DejaVu Sans', sans-serif; text-anchor: middle" x="1125.34" y="819.47" transform="rotate(-0 1125.34 819.47)">−80</text>
</g>
</g>
<g id="xtick_35">
<g id="line2d_187">
<path d="M 1166.76 803.88 L 1166.76 477.00" clip-path="url(#p4ce7f18f44)" style="fill: none; stroke-dasharray: 1.296,4.752; stroke-dashoffset: 0; stroke: #000000; stroke-width: 0.792"/>
</g>
<g id="line2d_188">
<g>
<path d="M 1166.76 803.88 L 1166.76 797.90" style="stroke: #000000; stroke-width: 0.936"/>
</g>
</g>
<g id="line2d_189">
<g>
<path d="M 1166.76 477.00 L 1166.76 482.97" style="stroke: #000000; stroke-width: 0.936"/>
</g>
</g>
<g id="text_85">
<text style="font-size: 12px; font-family: 'DejaVu Sans', sans-serif; text-anchor: middle" x="1166.20" y="819.47" transform="rotate(-0 1166.20 819.47)">−60</text>
</g>
</g>
<g id="xtick_36">
<g id="line2d_190">
<path d="M 1207.08 803.88 L 1207.08 477.00" clip-path="url(#p4ce7f18f44)" style="fill: none; stroke-dasharray: 1.296,4.752; stroke-dashoffset: 0; stroke: #000000; stroke-width: 0.792"/>
</g>
<g id="line2d_191">
<g>
<path d="M 1207.08 803.88 L 1207.08 797.90" style="stroke: #000000; stroke-width: 0.936"/>
</g>
</g>
<g id="line2d_192">
<g>
<path d="M 1207.08 477.00 L 1207.08 482.97" style="stroke: #000000; stroke-width: 0.936"/>
</g>
</g>
<g id="text_86">
<text style="font-size: 12px; font-family: 'DejaVu Sans', sans-serif; text-anchor: middle" x="1207.06" y="819.47" transform="rotate(-0 1207.06 819.47)">−40</text>
</g>
</g>
<g id="text_87">
<text style="font-size: 12px; font-family: 'DejaVu Sans', sans-serif; text-anchor: middle" x="1048.32" y="840.45" transform="rotate(-0 1048.32 840.45)">V3(km/s)</text>
</g>
</g>
<g id="matplotlib.axis_10">
<g id="ytick_30">
<g id="line2d_193">
<path d="M 885.24 803.88 L 1212.12 803.88" clip-path="url(#p4ce7f18f44)" style="fill: none; stroke-dasharray: 1.296,4.752; stroke-dashoffset: 0; stroke: #000000; stroke-width: 0.792"/>
</g>
<g id="line2d_194">
<g>
<path d="M 885.24 803.88 L 891.21 803.88" style="stroke: #000000; stroke-width: 0.936"/>
</g>
</g>
<g id="line2d_195">
<g>
<path d="M 1212.12 803.88 L 1206.14 803.88" style="stroke: #000000; stroke-width: 0.936"/>
</g>
</g>
<g id="text_88">
<text style="font-size: 12px; font-family: 'DejaVu Sans', sans-serif; text-anchor: end" x="879.12" y="806.72" transform="rotate(-0 879.12 806.72)">−100</text>
</g>
</g>
<g id="ytick_31">
<g id="line2d_196">
<path d="M 885.24 762.84 L 1212.12 762.84" clip-path="url(#p4ce7f18f44)" style="fill: none; stroke-dasharray: 1.296,4.752; stroke-dashoffset: 0; stroke: #000000; stroke-width: 0.792"/>
</g>
<g id="line2d_197">
<g>
<path d="M 885.24 762.84 L 891.21 762.84" style="stroke: #000000; stroke-width: 0.936"/>
</g>
</g>
<g id="line2d_198">
<g>
<path d="M 1212.12 762.84 L 1206.14 762.84" style="stroke: #000000; stroke-width: 0.936"/>
</g>
</g>
<g id="text_89">
<text style="font-size: 12px; font-family: 'DejaVu Sans', sans-serif; text-anchor: end" x="879.12" y="765.88" transform="rotate(-0 879.12 765.88)">−80</text>
</g>
</g>
<g id="ytick_32">
<g id="line2d_199">
<path d="M 885.24 721.80 L 1212.12 721.80" clip-path="url(#p4ce7f18f44)" style="fill: none; stroke-dasharray: 1.296,4.752; stroke-dashoffset: 0; stroke: #000000; stroke-width: 0.792"/>
</g>
<g id="line2d_200">
<g>
<path d="M 885.24 721.80 L 891.21 721.80" style="stroke: #000000; stroke-width: 0.936"/>
</g>
</g>
<g id="line2d_201">
<g>
<path d="M 1212.12 721.80 L 1206.14 721.80" style="stroke: #000000; stroke-width: 0.936"/>
</g>
</g>
<g id="text_90">
<text style="font-size: 12px; font-family: 'DejaVu Sans', sans-serif; text-anchor: end" x="879.12" y="725.03" transform="rotate(-0 879.12 725.03)">−60</text>
</g>
</g>
<g id="ytick_33">
<g id="line2d_202">
<path d="M 885.24 681.48 L 1212.12 681.48" clip-path="url(#p4ce7f18f44)" style="fill: none; stroke-dasharray: 1.296,4.752; stroke-dashoffset: 0; stroke: #000000; stroke-width: 0.792"/>
</g>
<g id="line2d_203">
<g>
<path d="M 885.24 681.48 L 891.21 681.48" style="stroke: #000000; stroke-width: 0.936"/>
</g>
</g>
<g id="line2d_204">
<g>
<path d="M 1212.12 681.48 L 1206.14 681.48" style="stroke: #000000; stroke-width: 0.936"/>
</g>
</g>
<g id="text_91">
<text style="font-size: 12px; font-family: 'DejaVu Sans', sans-serif; text-anchor: end" x="879.12" y="684.18" transform="rotate(-0 879.12 684.18)">−40</text>
</g>
</g>
<g id="ytick_34">
<g id="line2d_205">
<path d="M 885.24 640.44 L 1212.12 640.44" clip-path="url(#p4ce7f18f44)" style="fill: none; stroke-dasharray: 1.296,4.752; stroke-dashoffset: 0; stroke: #000000; stroke-width: 0.792"/>
</g>
<g id="line2d_206">
<g>
<path d="M 885.24 640.44 L 891.21 640.44" style="stroke: #000000; stroke-width: 0.936"/>
</g>
</g>
<g id="line2d_207">
<g>
<path d="M 1212.12 640.44 L 1206.14 640.44" style="stroke: #000000; stroke-width: 0.936"/>
</g>
</g>
<g id="text_92">
<text style="font-size: 12px; font-family: 'DejaVu Sans', sans-serif; text-anchor: end" x="879.12" y="643.34" transform="rotate(-0 879.12 643.34)">−20</text>
</g>
</g>
<g id="ytick_35">
<g id="line2d_208">
<path d="M 885.24 599.40 L 1212.12 599.40" clip-path="url(#p4ce7f18f44)" style="fill: none; stroke-dasharray: 1.296,4.752; stroke-dashoffset: 0; stroke: #000000; stroke-width: 0.792"/>
</g>
<g id="line2d_209">
<g>
<path d="M 885.24 599.40 L 891.21 599.40" style="stroke: #000000; stroke-width: 0.936"/>
</g>
</g>
<g id="line2d_210">
<g>
<path d="M 1212.12 599.40 L 1206.14 599.40" style="stroke: #000000; stroke-width: 0.936"/>
</g>
</g>
<g id="text_93">
<text style="font-size: 12px; font-family: 'DejaVu Sans', sans-serif; text-anchor: end" x="879.12" y="602.49" transform="rotate(-0 879.12 602.49)">0</text>
</g>
</g>
<g id="ytick_36">
<g id="line2d_211">
<path d="M 885.24 558.36 L 1212.12 558.36" clip-path="url(#p4ce7f18f44)" style="fill: none; stroke-dasharray: 1.296,4.752; stroke-dashoffset: 0; stroke: #000000; stroke-width: 0.792"/>
</g>
<g id="line2d_212">
<g>
<path d="M 885.24 558.36 L 891.21 558.36" style="stroke: #000000; stroke-width: 0.936"/>
</g>
</g>
<g id="line2d_213">
<g>
<path d="M 1212.12 558.36 L 1206.14 558.36" style="stroke: #000000; stroke-width: 0.936"/>
</g>
</g>
<g id="text_94">
<text style="font-size: 12px; font-family: 'DejaVu Sans', sans-serif; text-anchor: end" x="879.12" y="561.64" transform="rotate(-0 879.12 561.64)">20</text>
</g>
</g>
<g id="ytick_37">
<g id="line2d_214">
<path d="M 885.24 518.04 L 1212.12 518.04" clip-path="url(#p4ce7f18f44)" style="fill: none; stroke-dasharray: 1.296,4.752; stroke-dashoffset: 0; stroke: #000000; stroke-width: 0.792"/>
</g>
<g id="line2d_215">
<g>
<path d="M 885.24 518.04 L 891.21 518.04" style="stroke: #000000; stroke-width: 0.936"/>
</g>
</g>
<g id="line2d_216">
<g>
<path d="M 1212.12 518.04 L 1206.14 518.04" style="stroke: #000000; stroke-width: 0.936"/>
</g>
</g>
<g id="text_95">
<text style="font-size: 12px; font-family: 'DejaVu Sans', sans-serif; text-anchor: end" x="879.12" y="520.80" transform="rotate(-0 879.12 520.80)">40</text>
</g>
</g>
<g id="ytick_38">
<g id="line2d_217">
<path d="M 885.24 477.00 L 1212.12 477.00" clip-path="url(#p4ce7f18f44)" style="fill: none; stroke-dasharray: 1.296,4.752; stroke-dashoffset: 0; stroke: #000000; stroke-width: 0.792"/>
</g>
<g id="line2d_218">
<g>
<path d="M 885.24 477.00 L 891.21 477.00" style="stroke: #000000; stroke-width: 0.936"/>
</g>
</g>
<g id="line2d_219">
<g>
<path d="M 1212.12 477.00 L 1206.14 477.00" style="stroke: #000000; stroke-width: 0.936"/>
</g>
</g>
<g id="text_96">
<text style="font-size: 12px; font-family: 'DejaVu Sans', sans-serif; text-anchor: end" x="879.12" y="479.95" transform="rotate(-0 879.12 479.95)">60</text>
</g>
</g>
<g id="text_97">
<text style="font-size: 12px; font-family: 'DejaVu Sans', sans-serif; text-anchor: middle" x="834.30" y="640.08" transform="rotate(-90 834.30 640.08)">V1(km/s)</text>
</g>
</g>
<g id="text_98">
<g transform="translate(908.51 787.27)">
<text>
<tspan x="0.00" y="-0.61" style="font-size: 12.15px; font-style: italic; font-family: 'DejaVu Serif', serif">λ</tspan>
<tspan x="13.46" y="0.34" style="font-size: 13.77px; font-family: 'DejaVu Sans', sans-serif">/</tspan>
<tspan x="20.21" y="-0.61" style="font-size: 12.15px; font-style: italic; font-family: 'DejaVu Serif', serif">λ</tspan>
<tspan x="7.87" y="1.69" style="font-size: 9.45px; font-family: 'Liberation Serif', serif">1</tspan>
<tspan x="28.08" y="1.69" style="font-size: 9.45px; font-family: 'Liberation Serif', serif">3</tspan>
<tspan x="36.03" y="-0.88" style="font-size: 12.56px; font-family: 'DejaVu Sans', sans-serif">≈</tspan>
<tspan x="47.09" y="-0.60" style="font-size: 13.5px; font-family: 'DejaVu Sans', sans-serif"> </tspan>
<tspan x="51.38" y="-0.60" style="font-size: 13.5px; font-family: 'DejaVu Sans', sans-serif">4</tspan>
<tspan x="59.97" y="-0.60" style="font-size: 13.5px; font-family: 'DejaVu Sans', sans-serif">3</tspan>
<tspan x="68.56" y="-0.60" style="font-size: 13.5px; font-family: 'DejaVu Sans', sans-serif">.</tspan>
<tspan x="71.85" y="-0.60" style="font-size: 13.5px; font-family: 'DejaVu Sans', sans-serif">7</tspan>
<tspan x="80.44" y="-0.60" style="font-size: 13.5px; font-family: 'DejaVu Sans', sans-serif">3</tspan>
</text>
</g>
</g>
<g id="text_99">
<g transform="translate(887.38 469.44)">
<text>
<tspan x="0" y="-0.07" style="font-size: 16.6px; font-family: 'DejaVu Sans', sans-serif">H</tspan>
<tspan x="12.50" y="-0.07" style="font-size: 16.6px; font-family: 'DejaVu Sans', sans-serif">o</tspan>
<tspan x="22.67" y="-0.07" style="font-size: 16.6px; font-family: 'DejaVu Sans', sans-serif">d</tspan>
<tspan x="33.22" y="-0.07" style="font-size: 16.6px; font-family: 'DejaVu Sans', sans-serif">o</tspan>
<tspan x="43.39" y="-0.07" style="font-size: 16.6px; font-family: 'DejaVu Sans', sans-serif">g</tspan>
<tspan x="53.95" y="-0.07" style="font-size: 16.6px; font-family: 'DejaVu Sans', sans-serif">r</tspan>
<tspan x="60.78" y="-0.07" style="font-size: 16.6px; font-family: 'DejaVu Sans', sans-serif">a</tspan>
<tspan x="70.97" y="-0.07" style="font-size: 16.6px; font-family: 'DejaVu Sans', sans-serif">m</tspan>
<tspan x="87.16" y="-0.07" style="font-size: 16.6px; font-family: 'DejaVu Sans', sans-serif"> </tspan>
<tspan x="92.45" y="-0.07" style="font-size: 16.6px; font-family: 'DejaVu Sans', sans-serif">(</tspan>
<tspan x="98.93" y="-0.07" style="font-size: 16.6px; font-family: 'DejaVu Sans', sans-serif">V</tspan>
<tspan x="110.31" y="-0.07" style="font-size: 16.6px; font-family: 'DejaVu Sans', sans-serif">3</tspan>
<tspan x="120.88" y="-0.07" style="font-size: 16.6px; font-family: 'DejaVu Sans', sans-serif">_</tspan>
<tspan x="129.20" y="-0.07" style="font-size: 16.6px; font-family: 'DejaVu Sans', sans-serif">V</tspan>
<tspan x="140.57" y="-0.07" style="font-size: 16.6px; font-family: 'DejaVu Sans', sans-serif">1</tspan>
<tspan x="151.15" y="-0.07" style="font-size: 16.6px; font-family: 'DejaVu Sans', sans-serif"> </tspan>
<tspan x="156.43" y="-0.07" style="font-size: 16.6px; font-family: 'DejaVu Sans', sans-serif">M</tspan>
<tspan x="170.77" y="-0.07" style="font-size: 16.6px; font-family: 'DejaVu Sans', sans-serif">V</tspan>
<tspan x="182.15" y="-0.07" style="font-size: 16.6px; font-family: 'DejaVu Sans', sans-serif">A</tspan>
<tspan x="193.52" y="-0.07" style="font-size: 16.6px; font-family: 'DejaVu Sans', sans-serif">V</tspan>
<tspan x="261.14" y="-0.07" style="font-size: 16.6px; font-family: 'DejaVu Sans', sans-serif"> </tspan>
<tspan x="266.43" y="-0.07" style="font-size: 16.6px; font-family: 'DejaVu Sans', sans-serif">f</tspan>
<tspan x="272.28" y="-0.07" style="font-size: 16.6px; font-family: 'DejaVu Sans', sans-serif">r</tspan>
<tspan x="279.11" y="-0.07" style="font-size: 16.6px; font-family: 'DejaVu Sans', sans-serif">a</tspan>
<tspan x="289.30" y="-0.07" style="font-size: 16.6px; font-family: 'DejaVu Sans', sans-serif">m</tspan>
<tspan x="305.50" y="-0.07" style="font-size: 16.6px; font-family: 'DejaVu Sans', sans-serif">e</tspan>
<tspan x="315.72" y="-0.07" style="font-size: 16.6px; font-family: 'DejaVu Sans', sans-serif">)</tspan>
<tspan x="205.64" y="2.74" style="font-size: 10.46px; font-style: italic; font-family: 'DejaVu Serif', serif">r</tspan>
<tspan x="210.88" y="2.74" style="font-size: 10.46px; font-style: italic; font-family: 'DejaVu Serif', serif">e</tspan>
<tspan x="216.28" y="2.74" style="font-size: 10.46px; font-style: italic; font-family: 'DejaVu Serif', serif">m</tspan>
<tspan x="226.48" y="2.74" style="font-size: 10.46px; font-style: italic; font-family: 'DejaVu Serif', serif">a</tspan>
<tspan x="232.61" y="2.74" style="font-size: 10.46px; font-style: italic; font-family: 'DejaVu Serif', serif">i</tspan>
<tspan x="236.61" y="2.74" style="font-size: 10.46px; font-style: italic; font-family: 'DejaVu Serif', serif">n</tspan>
<tspan x="243.58" y="2.74" style="font-size: 10.46px; font-style: italic; font-family: 'DejaVu Serif', serif">i</tspan>
<tspan x="247.58" y="2.74" style="font-size: 10.46px; font-style: italic; font-family: 'DejaVu Serif', serif">n</tspan>
<tspan x="254.55" y="2.74" style="font-size: 10.46px; font-style: italic; font-family: 'DejaVu Serif', serif">g</tspan>
</text>
</g>
</g>
</g>
<g id="axes_6">
<g id="patch_30">
<path d="M 84.24 803.52 
L 411.12 803.52 
L 411.12 476.64 
L 84.24 476.64 
z
" style="fill: #ffffff"/>
</g>
<g id="line2d_220">
<g clip-path="url(#pd0a380cab5)">
<circle cx="219.84" cy="648.78" r="3.850" style="fill: #ff0000"/>
<circle cx="251.51" cy="624.79" r="3.850" style="fill: #ff0000"/>
<circle cx="259.81" cy="612.79" r="3.850" style="fill: #ff0000"/>
<circle cx="268.11" cy="614.02" r="3.850" style="fill: #ff0000"/>
<circle cx="274.57" cy="612.79" r="3.850" style="fill: #ff0000"/>
<circle cx="261.66" cy="624.79" r="3.850" style="fill: #ff0000"/>
<circle cx="265.04" cy="623.56" r="3.850" style="fill: #ff0000"/>
<circle cx="267.50" cy="633.09" r="3.850" style="fill: #ff0000"/>
<circle cx="265.96" cy="645.08" r="3.850" style="fill: #ff0000"/>
<circle cx="260.73" cy="638.01" r="3.850" style="fill: #ff0000"/>
<circle cx="271.19" cy="622.32" r="3.850" style="fill: #ff0000"/>
<circle cx="278.26" cy="624.79" r="3.850" style="fill: #ff0000"/>
<circle cx="285.95" cy="612.48" r="3.850" style="fill: #ff0000"/>
<circle cx="285.33" cy="621.71" r="3.850" style="fill: #ff0000"/>
<circle cx="285.33" cy="617.40" r="3.850" style="fill: #ff0000"/>
<circle cx="304.39" cy="605.10" r="3.850" style="fill: #ff0000"/>
<circle cx="303.78" cy="610.33" r="3.850" style="fill: #ff0000"/>
<circle cx="307.47" cy="606.64" r="3.850" style="fill: #ff0000"/>
<circle cx="315.77" cy="601.10" r="3.850" style="fill: #ff0000"/>
<circle cx="316.08" cy="604.18" r="3.850" style="fill: #ff0000"/>
<circle cx="319.77" cy="592.18" r="3.850" style="fill: #ff0000"/>
<circle cx="322.23" cy="587.57" r="3.850" style="fill: #ff0000"/>
<circle cx="328.38" cy="591.88" r="3.850" style="fill: #ff0000"/>
<circle cx="329.61" cy="583.57" r="3.850" style="fill: #ff0000"/>
<circle cx="321.31" cy="589.42" r="3.850" style="fill: #ff0000"/>
</g>
</g>
<g id="line2d_221">
<g clip-path="url(#pd0a380cab5)">
<circle cx="85.17" cy="782.26" r="3.850" style="fill: #008000"/>
<circle cx="108.23" cy="770.57" r="3.850" style="fill: #008000"/>
<circle cx="124.52" cy="753.96" r="3.850" style="fill: #008000"/>
<circle cx="147.89" cy="735.20" r="3.850" style="fill: #008000"/>
<circle cx="150.66" cy="746.89" r="3.850" style="fill: #008000"/>
<circle cx="152.81" cy="726.90" r="3.850" style="fill: #008000"/>
<circle cx="156.81" cy="725.67" r="3.850" style="fill: #008000"/>
<circle cx="165.11" cy="722.59" r="3.850" style="fill: #008000"/>
<circle cx="166.96" cy="719.21" r="3.850" style="fill: #008000"/>
<circle cx="171.88" cy="714.59" r="3.850" style="fill: #008000"/>
<circle cx="198.01" cy="691.53" r="3.850" style="fill: #008000"/>
<circle cx="197.70" cy="699.22" r="3.850" style="fill: #008000"/>
<circle cx="204.77" cy="671.23" r="3.850" style="fill: #008000"/>
<circle cx="205.39" cy="684.14" r="3.850" style="fill: #008000"/>
<circle cx="214.31" cy="673.69" r="3.850" style="fill: #008000"/>
<circle cx="226.30" cy="656.77" r="3.850" style="fill: #008000"/>
<circle cx="229.99" cy="657.69" r="3.850" style="fill: #008000"/>
<circle cx="236.14" cy="643.24" r="3.850" style="fill: #008000"/>
<circle cx="235.52" cy="650.01" r="3.850" style="fill: #008000"/>
<circle cx="237.37" cy="651.85" r="3.850" style="fill: #008000"/>
<circle cx="248.43" cy="647.85" r="3.850" style="fill: #008000"/>
<circle cx="253.35" cy="630.01" r="3.850" style="fill: #008000"/>
<circle cx="253.97" cy="634.01" r="3.850" style="fill: #008000"/>
<circle cx="254.89" cy="637.70" r="3.850" style="fill: #008000"/>
<circle cx="253.97" cy="640.78" r="3.850" style="fill: #008000"/>
<circle cx="264.42" cy="640.16" r="3.850" style="fill: #008000"/>
<circle cx="277.64" cy="620.48" r="3.850" style="fill: #008000"/>
<circle cx="289.02" cy="608.48" r="3.850" style="fill: #008000"/>
<circle cx="291.48" cy="617.10" r="3.850" style="fill: #008000"/>
<circle cx="295.17" cy="614.02" r="3.850" style="fill: #008000"/>
<circle cx="298.24" cy="609.41" r="3.850" style="fill: #008000"/>
<circle cx="292.10" cy="612.48" r="3.850" style="fill: #008000"/>
</g>
</g>
<g id="line2d_222">
<g clip-path="url(#pd0a380cab5)">
<circle cx="362.81" cy="546.36" r="3.850" style="fill: #0000ff"/>
<circle cx="366.50" cy="550.97" r="3.850" style="fill: #0000ff"/>
<circle cx="371.42" cy="553.12" r="3.850" style="fill: #0000ff"/>
<circle cx="374.50" cy="533.44" r="3.850" style="fill: #0000ff"/>
<circle cx="373.57" cy="537.13" r="3.850" style="fill: #0000ff"/>
<circle cx="372.96" cy="542.36" r="3.850" style="fill: #0000ff"/>
<circle cx="376.34" cy="545.74" r="3.850" style="fill: #0000ff"/>
<circle cx="381.26" cy="542.67" r="3.850" style="fill: #0000ff"/>
<circle cx="383.72" cy="528.52" r="3.850" style="fill: #0000ff"/>
<circle cx="386.18" cy="522.37" r="3.850" style="fill: #0000ff"/>
<circle cx="390.49" cy="523.29" r="3.850" style="fill: #0000ff"/>
<circle cx="392.33" cy="537.13" r="3.850" style="fill: #0000ff"/>
<circle cx="392.95" cy="544.82" r="3.850" style="fill: #0000ff"/>
<circle cx="400.32" cy="529.44" r="3.850" style="fill: #0000ff"/>
<circle cx="401.55" cy="507.91" r="3.850" style="fill: #0000ff"/>
<circle cx="399.71" cy="520.21" r="3.850" style="fill: #0000ff"/>
<circle cx="396.63" cy="521.75" r="3.850" style="fill: #0000ff"/>
<circle cx="402.78" cy="517.14" r="3.850" style="fill: #0000ff"/>
<circle cx="405.24" cy="514.68" r="3.850" style="fill: #0000ff"/>
<circle cx="407.40" cy="517.75" r="3.850" style="fill: #0000ff"/>
<circle cx="409.55" cy="519.60" r="3.850" style="fill: #0000ff"/>
<circle cx="373.27" cy="541.74" r="3.850" style="fill: #0000ff"/>
<circle cx="378.19" cy="540.21" r="3.850" style="fill: #0000ff"/>
<circle cx="388.03" cy="526.98" r="3.850" style="fill: #0000ff"/>
<circle cx="393.56" cy="525.75" r="3.850" style="fill: #0000ff"/>
<circle cx="398.17" cy="523.29" r="3.850" style="fill: #0000ff"/>
</g>
</g>
<g id="line2d_223">
<path d="M 84.24 782.18 
L 411.12 510.22 
" clip-path="url(#pd0a380cab5)" style="fill: none; stroke-dasharray: 8.28,9.648; stroke-dashoffset: 0; stroke: #000000; stroke-width: 1.296"/>
</g>
<g id="patch_31">
<path d="M 84.24 803.52 L 84.24 476.64" style="fill: none; stroke: #000000; stroke-width: 1.44; stroke-linejoin: miter; stroke-linecap: square"/>
</g>
<g id="patch_32">
<path d="M 411.12 803.52 L 411.12 476.64" style="fill: none; stroke: #000000; stroke-width: 1.44; stroke-linejoin: miter; stroke-linecap: square"/>
</g>
<g id="patch_33">
<path d="M 84.24 803.52 L 411.12 803.52" style="fill: none; stroke: #000000; stroke-width: 1.44; stroke-linejoin: miter; stroke-linecap: square"/>
</g>
<g id="patch_34">
<path d="M 84.24 476.64 L 411.12 476.64" style="fill: none; stroke: #000000; stroke-width: 1.44; stroke-linejoin: miter; stroke-linecap: square"/>
</g>
<g id="matplotlib.axis_11">
<g id="xtick_37">
<g id="line2d_224">
<g>
<path d="M 99.00 803.88 L 99.00 797.90" style="stroke: #000000; stroke-width: 0.936"/>
</g>
</g>
<g id="line2d_225">
<g>
<path d="M 99.00 477.00 L 99.00 482.97" style="stroke: #000000; stroke-width: 0.936"/>
</g>
</g>
<g id="text_100">
<text style="font-size: 12px; font-family: 'DejaVu Sans', sans-serif; text-anchor: middle" x="98.78" y="819.47" transform="rotate(-0 98.78 819.47)">−100</text>
</g>
</g>
<g id="xtick_38">
<g id="line2d_226">
<g>
<path d="M 158.04 803.88 L 158.04 797.90" style="stroke: #000000; stroke-width: 0.936"/>
</g>
</g>
<g id="line2d_227">
<g>
<path d="M 158.04 477.00 L 158.04 482.97" style="stroke: #000000; stroke-width: 0.936"/>
</g>
</g>
<g id="text_101">
<text style="font-size: 12px; font-family: 'DejaVu Sans', sans-serif; text-anchor: middle" x="157.34" y="819.47" transform="rotate(-0 157.34 819.47)">−50</text>
</g>
</g>
<g id="xtick_39">
<g id="line2d_228">
<g>
<path d="M 216.36 803.88 L 216.36 797.90" style="stroke: #000000; stroke-width: 0.936"/>
</g>
</g>
<g id="line2d_229">
<g>
<path d="M 216.36 477.00 L 216.36 482.97" style="stroke: #000000; stroke-width: 0.936"/>
</g>
</g>
<g id="text_102">
<text style="font-size: 12px; font-family: 'DejaVu Sans', sans-serif; text-anchor: middle" x="215.90" y="819.47" transform="rotate(-0 215.90 819.47)">0</text>
</g>
</g>
<g id="xtick_40">
<g id="line2d_230">
<g>
<path d="M 274.68 803.88 L 274.68 797.90" style="stroke: #000000; stroke-width: 0.936"/>
</g>
</g>
<g id="line2d_231">
<g>
<path d="M 274.68 477.00 L 274.68 482.97" style="stroke: #000000; stroke-width: 0.936"/>
</g>
</g>
<g id="text_103">
<text style="font-size: 12px; font-family: 'DejaVu Sans', sans-serif; text-anchor: middle" x="274.46" y="819.47" transform="rotate(-0 274.46 819.47)">50</text>
</g>
</g>
<g id="xtick_41">
<g id="line2d_232">
<g>
<path d="M 333.72 803.88 L 333.72 797.90" style="stroke: #000000; stroke-width: 0.936"/>
</g>
</g>
<g id="line2d_233">
<g>
<path d="M 333.72 477.00 L 333.72 482.97" style="stroke: #000000; stroke-width: 0.936"/>
</g>
</g>
<g id="text_104">
<text style="font-size: 12px; font-family: 'DejaVu Sans', sans-serif; text-anchor: middle" x="333.02" y="819.47" transform="rotate(-0 333.02 819.47)">100</text>
</g>
</g>
<g id="xtick_42">
<g id="line2d_234">
<g>
<path d="M 392.04 803.88 L 392.04 797.90" style="stroke: #000000; stroke-width: 0.936"/>
</g>
</g>
<g id="line2d_235">
<g>
<path d="M 392.04 477.00 L 392.04 482.97" style="stroke: #000000; stroke-width: 0.936"/>
</g>
</g>
<g id="text_105">
<text style="font-size: 12px; font-family: 'DejaVu Sans', sans-serif; text-anchor: middle" x="391.58" y="819.47" transform="rotate(-0 391.58 819.47)">150</text>
</g>
</g>
<g id="text_106">
<g transform="translate(220.62 840.45)">
<text>
<tspan x="0" y="-0.87" style="font-size: 12px; font-family: 'DejaVu Sans', sans-serif">V</tspan>
<tspan x="15.80" y="-0.87" style="font-size: 12px; font-family: 'DejaVu Sans', sans-serif">(</tspan>
<tspan x="20.49" y="-0.87" style="font-size: 12px; font-family: 'DejaVu Sans', sans-serif">k</tspan>
<tspan x="27.44" y="-0.87" style="font-size: 12px; font-family: 'DejaVu Sans', sans-serif">m</tspan>
<tspan x="39.13" y="-0.87" style="font-size: 12px; font-family: 'DejaVu Sans', sans-serif">/</tspan>
<tspan x="43.17" y="-0.87" style="font-size: 12px; font-family: 'DejaVu Sans', sans-serif">s</tspan>
<tspan x="49.42" y="-0.87" style="font-size: 12px; font-family: 'DejaVu Sans', sans-serif">)</tspan>
<tspan x="8.74" y="1.17" style="font-size: 7.56px; font-style: italic; font-family: 'DejaVu Serif', serif">A</tspan>
</text>
</g>
</g>
</g>
<g id="matplotlib.axis_12">
<g id="ytick_39">
<g id="line2d_236">
<g>
<path d="M 84.60 789.48 L 90.57 789.48" style="stroke: #000000; stroke-width: 0.936"/>
</g>
</g>
<g id="line2d_237">
<g>
<path d="M 411.48 789.48 L 405.50 789.48" style="stroke: #000000; stroke-width: 0.936"/>
</g>
</g>
<g id="text_107">
<text style="font-size: 12px; font-family: 'DejaVu Sans', sans-serif; text-anchor: end" x="78.48" y="792.07" transform="rotate(-0 78.48 792.07)">−100</text>
</g>
</g>
<g id="ytick_40">
<g id="line2d_238">
<g>
<path d="M 84.60 730.44 L 90.57 730.44" style="stroke: #000000; stroke-width: 0.936"/>
</g>
</g>
<g id="line2d_239">
<g>
<path d="M 411.48 730.44 L 405.50 730.44" style="stroke: #000000; stroke-width: 0.936"/>
</g>
</g>
<g id="text_108">
<text style="font-size: 12px; font-family: 'DejaVu Sans', sans-serif; text-anchor: end" x="78.48" y="733.51" transform="rotate(-0 78.48 733.51)">−50</text>
</g>
</g>
<g id="ytick_41">
<g id="line2d_240">
<g>
<path d="M 84.60 672.12 L 90.57 672.12" style="stroke: #000000; stroke-width: 0.936"/>
</g>
</g>
<g id="line2d_241">
<g>
<path d="M 411.48 672.12 L 405.50 672.12" style="stroke: #000000; stroke-width: 0.936"/>
</g>
</g>
<g id="text_109">
<text style="font-size: 12px; font-family: 'DejaVu Sans', sans-serif; text-anchor: end" x="78.48" y="674.95" transform="rotate(-0 78.48 674.95)">0</text>
</g>
</g>
<g id="ytick_42">
<g id="line2d_242">
<g>
<path d="M 84.60 613.80 L 90.57 613.80" style="stroke: #000000; stroke-width: 0.936"/>
</g>
</g>
<g id="line2d_243">
<g>
<path d="M 411.48 613.80 L 405.50 613.80" style="stroke: #000000; stroke-width: 0.936"/>
</g>
</g>
<g id="text_110">
<text style="font-size: 12px; font-family: 'DejaVu Sans', sans-serif; text-anchor: end" x="78.48" y="616.39" transform="rotate(-0 78.48 616.39)">50</text>
</g>
</g>
<g id="ytick_43">
<g id="line2d_244">
<g>
<path d="M 84.60 554.76 L 90.57 554.76" style="stroke: #000000; stroke-width: 0.936"/>
</g>
</g>
<g id="line2d_245">
<g>
<path d="M 411.48 554.76 L 405.50 554.76" style="stroke: #000000; stroke-width: 0.936"/>
</g>
</g>
<g id="text_111">
<text style="font-size: 12px; font-family: 'DejaVu Sans', sans-serif; text-anchor: end" x="78.48" y="557.83" transform="rotate(-0 78.48 557.83)">100</text>
</g>
</g>
<g id="ytick_44">
<g id="line2d_246">
<g>
<path d="M 84.60 496.44 L 90.57 496.44" style="stroke: #000000; stroke-width: 0.936"/>
</g>
</g>
<g id="line2d_247">
<g>
<path d="M 411.48 496.44 L 405.50 496.44" style="stroke: #000000; stroke-width: 0.936"/>
</g>
</g>
<g id="text_112">
<text style="font-size: 12px; font-family: 'DejaVu Sans', sans-serif; text-anchor: end" x="78.48" y="499.27" transform="rotate(-0 78.48 499.27)">150</text>
</g>
</g>
<g id="text_113">
<g transform="translate(32.31 683.7) rotate(-90)">
<text>
<tspan x="0" y="-0.87" style="font-size: 12px; font-family: 'DejaVu Sans', sans-serif">V</tspan>
<tspan x="48.88" y="-0.87" style="font-size: 12px; font-family: 'DejaVu Sans', sans-serif">(</tspan>
<tspan x="53.56" y="-0.87" style="font-size: 12px; font-family: 'DejaVu Sans', sans-serif">k</tspan>
<tspan x="60.51" y="-0.87" style="font-size: 12px; font-family: 'DejaVu Sans', sans-serif">m</tspan>
<tspan x="72.20" y="-0.87" style="font-size: 12px; font-family: 'DejaVu Sans', sans-serif">/</tspan>
<tspan x="76.24" y="-0.87" style="font-size: 12px; font-family: 'DejaVu Sans', sans-serif">s</tspan>
<tspan x="82.50" y="-0.87" style="font-size: 12px; font-family: 'DejaVu Sans', sans-serif">)</tspan>
<tspan x="8.74" y="1.17" style="font-size: 7.56px; font-style: italic; font-family: 'DejaVu Serif', serif">r</tspan>
<tspan x="12.53" y="1.17" style="font-size: 7.56px; font-style: italic; font-family: 'DejaVu Serif', serif">e</tspan>
<tspan x="16.44" y="1.17" style="font-size: 7.56px; font-style: italic; font-family: 'DejaVu Serif', serif">m</tspan>
<tspan x="23.81" y="1.17" style="font-size: 7.56px; font-style: italic; font-family: 'DejaVu Serif', serif">a</tspan>
<tspan x="28.25" y="1.17" style="font-size: 7.56px; font-style: italic; font-family: 'DejaVu Serif', serif">i</tspan>
<tspan x="31.14" y="1.17" style="font-size: 7.56px; font-style: italic; font-family: 'DejaVu Serif', serif">n</tspan>
<tspan x="36.18" y="1.17" style="font-size: 7.56px; font-style: italic; font-family: 'DejaVu Serif', serif">i</tspan>
<tspan x="39.07" y="1.17" style="font-size: 7.56px; font-style: italic; font-family: 'DejaVu Serif', serif">n</tspan>
<tspan x="44.11" y="1.17" style="font-size: 7.56px; font-style: italic; font-family: 'DejaVu Serif', serif">g</tspan>
</text>
</g>
</g>
</g>
<g id="text_114">
<text style="font-size: 17.08px; font-family: 'DejaVu Sans', sans-serif; text-anchor: middle" x="247.68" y="468.72" transform="rotate(-0 247.68 468.72)">WalenTest</text>
</g>
<g id="patch_35">
<path d="M 90.00 533.52 L 189.36 533.52 L 189.36 481.68 L 90.00 481.68 z" clip-path="url(#pd0a380cab5)" style="fill: #ffffff; stroke: #000000; stroke-width: 1.44; stroke-linejoin: miter"/>
</g>
<g id="text_115">
<text style="font-size: 13.5px; font-family: 'DejaVu Sans', sans-serif" transform="translate(92.15 494.80)">slope = 0.832</text>
<g transform="translate(92.15 511.05)">
<text>
<tspan x="0.00" y="-0.61" style="font-size: 12.15px; font-style: italic; font-family: 'DejaVu Serif', serif">r</tspan>
<tspan x="6.09" y="-0.60" style="font-size: 13.5px; font-family: 'DejaVu Sans', sans-serif"> </tspan>
<tspan x="10.38" y="-0.60" style="font-size: 13.5px; font-family: 'DejaVu Sans', sans-serif">=</tspan>
<tspan x="21.69" y="-0.60" style="font-size: 13.5px; font-family: 'DejaVu Sans', sans-serif"> </tspan>
<tspan x="25.98" y="-0.60" style="font-size: 13.5px; font-family: 'DejaVu Sans', sans-serif">0</tspan>
<tspan x="34.57" y="-0.60" style="font-size: 13.5px; font-family: 'DejaVu Sans', sans-serif">.</tspan>
<tspan x="38.86" y="-0.60" style="font-size: 13.5px; font-family: 'DejaVu Sans', sans-serif">9</tspan>
<tspan x="47.45" y="-0.60" style="font-size: 13.5px; font-family: 'DejaVu Sans', sans-serif">9</tspan>
<tspan x="56.04" y="-0.60" style="font-size: 13.5px; font-family: 'DejaVu Sans', sans-serif">3</tspan>
</text>
</g>
<g transform="translate(92.15 527.29)">
<text>
<tspan x="0.00" y="-0.61" style="font-size: 12.15px; font-style: italic; font-family: 'DejaVu Serif', serif">M</tspan>
<tspan x="13.10" y="1.69" style="font-size: 8.50px; font-style: italic; font-family: 'DejaVu Serif', serif">A</tspan>
<tspan x="21.04" y="-0.60" style="font-size: 13.5px; font-family: 'DejaVu Sans', sans-serif"> </tspan>
<tspan x="25.33" y="-0.60" style="font-size: 13.5px; font-family: 'DejaVu Sans', sans-serif">=</tspan>
<tspan x="36.64" y="-0.60" style="font-size: 13.5px; font-family: 'DejaVu Sans', sans-serif"> </tspan>
<tspan x="40.94" y="-0.60" style="font-size: 13.5px; font-family: 'DejaVu Sans', sans-serif">0</tspan>
<tspan x="49.52" y="-0.60" style="font-size: 13.5px; font-family: 'DejaVu Sans', sans-serif">.</tspan>
<tspan x="53.44" y="-0.60" style="font-size: 13.5px; font-family: 'DejaVu Sans', sans-serif">8</tspan>
<tspan x="62.03" y="-0.60" style="font-size: 13.5px; font-family: 'DejaVu Sans', sans-serif">2</tspan>
<tspan x="70.62" y="-0.60" style="font-size: 13.5px; font-family: 'DejaVu Sans', sans-serif">8</tspan>
</text>
</g>
</g>
</g>
<g id="axes_7">
<g id="patch_36">
<path d="M 84.24 1099.72 
L 1211.76 1099.72 
L 1211.76 939.6 
L 84.24 939.6 
z
" style="fill: #ffffff"/>
</g>
<g id="line2d_248">
<path d="M 84.24 1062.59 
L 120.61 1074.00 
L 156.98 1071.00 
L 193.35 1078.31 
L 229.72 1078.31 
L 266.09 1076.40 
L 302.46 1078.31 
L 338.84 1079.11 
L 375.21 1079.71 
L 411.58 1080.21 
L 447.95 1081.01 
L 484.32 1079.31 
L 520.69 1080.11 
L 557.07 1079.31 
L 593.44 1078.71 
L 629.81 1078.11 
L 666.18 1077.31 
L 702.55 1077.31 
L 738.92 1078.71 
L 775.30 1078.11 
L 811.67 1076.40 
L 848.04 1072.20 
L 884.41 1072.50 
L 920.78 1073.60 
L 957.15 1073.60 
L 993.53 1073.60 
L 1029.90 1073.60 
L 1066.27 1070.50 
L 1102.64 1067.40 
L 1139.01 1068.00 
L 1175.38 1065.20 
L 1211.76 1066.00 
" clip-path="url(#p85db4f6378)" style="fill: none; stroke: #ff0000; stroke-width: 1.4976; stroke-linecap: square"/>
</g>
<g id="line2d_249">
<path d="M 84.24 1019.06 
L 120.61 1016.06 
L 156.98 1018.26 
L 193.35 1011.15 
L 229.72 1006.35 
L 266.09 1010.95 
L 302.46 1006.05 
L 338.84 1006.35 
L 375.21 1003.05 
L 411.58 998.69 
L 447.95 995.34 
L 484.32 997.34 
L 520.69 992.34 
L 557.07 986.93 
L 593.44 984.93 
L 629.81 981.83 
L 666.18 980.43 
L 702.55 984.43 
L 738.92 987.23 
L 775.30 986.33 
L 811.67 981.83 
L 848.04 980.43 
L 884.41 989.23 
L 920.78 996.84 
L 957.15 992.54 
L 993.53 991.74 
L 1029.90 992.84 
L 1066.27 976.72 
L 1102.64 978.43 
L 1139.01 981.03 
L 1175.38 979.63 
L 1211.76 983.53 
" clip-path="url(#p85db4f6378)" style="fill: none; stroke: #008000; stroke-width: 1.4976; stroke-linecap: square"/>
</g>
<g id="line2d_250">
<path d="M 84.24 1044.88 
L 120.61 1024.46 
L 156.98 1030.77 
L 193.35 1014.76 
L 229.72 1014.76 
L 266.09 1015.26 
L 302.46 1016.36 
L 338.84 1009.25 
L 375.21 1011.75 
L 411.58 1012.25 
L 447.95 995.14 
L 484.32 997.34 
L 520.69 1002.45 
L 557.07 1003.65 
L 593.44 1000.44 
L 629.81 994.84 
L 666.18 992.54 
L 702.55 988.33 
L 738.92 991.44 
L 775.30 986.33 
L 811.67 980.43 
L 848.04 970.32 
L 884.41 968.02 
L 920.78 968.62 
L 957.15 969.42 
L 993.53 969.42 
L 1029.90 968.62 
L 1066.27 968.02 
L 1102.64 963.21 
L 1139.01 962.11 
L 1175.38 959.61 
L 1211.76 958.41 
" clip-path="url(#p85db4f6378)" style="fill: none; stroke: #0000ff; stroke-width: 1.4976; stroke-linecap: square"/>
</g>
<g id="line2d_251">
<path d="M 84.60 999.72 L 1212.12 999.72" clip-path="url(#p85db4f6378)" style="fill: none; stroke-dasharray: 9.288,8.64; stroke-dashoffset: 0; stroke: #000000; stroke-width: 0.756"/>
</g>
<g id="patch_37">
<path d="M 84.24 1099.44 L 84.24 939.60" style="fill: none; stroke: #000000; stroke-width: 1.44; stroke-linejoin: miter; stroke-linecap: square"/>
</g>
<g id="patch_38">
<path d="M 1211.76 1099.44 L 1211.76 939.60" style="fill: none; stroke: #000000; stroke-width: 1.44; stroke-linejoin: miter; stroke-linecap: square"/>
</g>
<g id="patch_39">
<path d="M 84.24 1099.44 L 1211.76 1099.44" style="fill: none; stroke: #000000; stroke-width: 1.44; stroke-linejoin: miter; stroke-linecap: square"/>
</g>
<g id="patch_40">
<path d="M 84.24 939.60 L 1211.76 939.60" style="fill: none; stroke: #000000; stroke-width: 1.44; stroke-linejoin: miter; stroke-linecap: square"/>
</g>
<g id="matplotlib.axis_13">
<g id="xtick_43">
<g id="line2d_252">
<g>
<path d="M 230.04 1099.80 L 230.04 1093.82" style="stroke: #000000; stroke-width: 0.936"/>
</g>
</g>
<g id="line2d_253">
<g>
<path d="M 230.04 939.96 L 230.04 945.93" style="stroke: #000000; stroke-width: 0.936"/>
</g>
</g>
<g id="text_116">
<text style="font-size: 12px; font-family: 'DejaVu Sans', sans-serif; text-anchor: middle" x="229.72" y="1115.68" transform="rotate(-0 229.72 1115.68)">06/26 06:56:40</text>
</g>
</g>
<g id="xtick_44">
<g id="line2d_254">
<g>
<path d="M 412.20 1099.80 L 412.20 1093.82" style="stroke: #000000; stroke-width: 0.936"/>
</g>
</g>
<g id="line2d_255">
<g>
<path d="M 412.20 939.96 L 412.20 945.93" style="stroke: #000000; stroke-width: 0.936"/>
</g>
</g>
<g id="text_117">
<text style="font-size: 12px; font-family: 'DejaVu Sans', sans-serif; text-anchor: middle" x="411.58" y="1115.68" transform="rotate(-0 411.58 1115.68)">06/26 06:56:45</text>
</g>
</g>
<g id="xtick_45">
<g id="line2d_256">
<g>
<path d="M 593.64 1099.80 L 593.64 1093.82" style="stroke: #000000; stroke-width: 0.936"/>
</g>
</g>
<g id="line2d_257">
<g>
<path d="M 593.64 939.96 L 593.64 945.93" style="stroke: #000000; stroke-width: 0.936"/>
</g>
</g>
<g id="text_118">
<text style="font-size: 12px; font-family: 'DejaVu Sans', sans-serif; text-anchor: middle" x="593.44" y="1115.68" transform="rotate(-0 593.44 1115.68)">06/26 06:56:50</text>
</g>
</g>
<g id="xtick_46">
<g id="line2d_258">
<g>
<path d="M 775.80 1099.80 L 775.80 1093.82" style="stroke: #000000; stroke-width: 0.936"/>
</g>
</g>
<g id="line2d_259">
<g>
<path d="M 775.80 939.96 L 775.80 945.93" style="stroke: #000000; stroke-width: 0.936"/>
</g>
</g>
<g id="text_119">
<text style="font-size: 12px; font-family: 'DejaVu Sans', sans-serif; text-anchor: middle" x="775.30" y="1115.68" transform="rotate(-0 775.30 1115.68)">06/26 06:56:55</text>
</g>
</g>
<g id="xtick_47">
<g id="line2d_260">
<g>
<path d="M 957.24 1099.80 L 957.24 1093.82" style="stroke: #000000; stroke-width: 0.936"/>
</g>
</g>
<g id="line2d_261">
<g>
<path d="M 957.24 939.96 L 957.24 945.93" style="stroke: #000000; stroke-width: 0.936"/>
</g>
</g>
<g id="text_120">
<text style="font-size: 12px; font-family: 'DejaVu Sans', sans-serif; text-anchor: middle" x="957.15" y="1115.68" transform="rotate(-0 957.15 1115.68)">06/26 06:57:00</text>
</g>
</g>
<g id="xtick_48">
<g id="line2d_262">
<g>
<path d="M 1139.40 1099.80 L 1139.40 1093.82" style="stroke: #000000; stroke-width: 0.936"/>
</g>
</g>
<g id="line2d_263">
<g>
<path d="M 1139.40 939.96 L 1139.40 945.93" style="stroke: #000000; stroke-width: 0.936"/>
</g>
</g>
<g id="text_121">
<text style="font-size: 12px; font-family: 'DejaVu Sans', sans-serif; text-anchor: middle" x="1139.01" y="1115.68" transform="rotate(-0 1139.01 1115.68)">06/26 06:57:05</text>
</g>
</g>
</g>
<g id="matplotlib.axis_14">
<g id="ytick_45">
<g id="line2d_264">
<g>
<path d="M 84.60 1099.80 L 90.57 1099.80" style="stroke: #000000; stroke-width: 0.936"/>
</g>
</g>
<g id="line2d_265">
<g>
<path d="M 1212.12 1099.80 L 1206.14 1099.80" style="stroke: #000000; stroke-width: 0.936"/>
</g>
</g>
<g id="text_122">
<text style="font-size: 12px; font-family: 'DejaVu Sans', sans-serif; text-anchor: end" x="78.48" y="1103.03" transform="rotate(-0 78.48 1103.03)">−100</text>
</g>
</g>
<g id="ytick_46">
<g id="line2d_266">
<g>
<path d="M 84.60 1080.36 L 90.57 1080.36" style="stroke: #000000; stroke-width: 0.936"/>
</g>
</g>
<g id="line2d_267">
<g>
<path d="M 1212.12 1080.36 L 1206.14 1080.36" style="stroke: #000000; stroke-width: 0.936"/>
</g>
</g>
<g id="text_123">
<text style="font-size: 12px; font-family: 'DejaVu Sans', sans-serif; text-anchor: end" x="78.48" y="1083.02" transform="rotate(-0 78.48 1083.02)">−80</text>
</g>
</g>
<g id="ytick_47">
<g id="line2d_268">
<g>
<path d="M 84.60 1060.20 L 90.57 1060.20" style="stroke: #000000; stroke-width: 0.936"/>
</g>
</g>
<g id="line2d_269">
<g>
<path d="M 1212.12 1060.20 L 1206.14 1060.20" style="stroke: #000000; stroke-width: 0.936"/>
</g>
</g>
<g id="text_124">
<text style="font-size: 12px; font-family: 'DejaVu Sans', sans-serif; text-anchor: end" x="78.48" y="1063.00" transform="rotate(-0 78.48 1063.00)">−60</text>
</g>
</g>
<g id="ytick_48">
<g id="line2d_270">
<g>
<path d="M 84.60 1040.04 L 90.57 1040.04" style="stroke: #000000; stroke-width: 0.936"/>
</g>
</g>
<g id="line2d_271">
<g>
<path d="M 1212.12 1040.04 L 1206.14 1040.04" style="stroke: #000000; stroke-width: 0.936"/>
</g>
</g>
<g id="text_125">
<text style="font-size: 12px; font-family: 'DejaVu Sans', sans-serif; text-anchor: end" x="78.48" y="1042.99" transform="rotate(-0 78.48 1042.99)">−40</text>
</g>
</g>
<g id="ytick_49">
<g id="line2d_272">
<g>
<path d="M 84.60 1019.88 L 90.57 1019.88" style="stroke: #000000; stroke-width: 0.936"/>
</g>
</g>
<g id="line2d_273">
<g>
<path d="M 1212.12 1019.88 L 1206.14 1019.88" style="stroke: #000000; stroke-width: 0.936"/>
</g>
</g>
<g id="text_126">
<text style="font-size: 12px; font-family: 'DejaVu Sans', sans-serif; text-anchor: end" x="78.48" y="1022.97" transform="rotate(-0 78.48 1022.97)">−20</text>
</g>
</g>
<g id="ytick_50">
<g id="line2d_274">
<g>
<path d="M 84.60 999.72 L 90.57 999.72" style="stroke: #000000; stroke-width: 0.936"/>
</g>
</g>
<g id="line2d_275">
<g>
<path d="M 1212.12 999.72 L 1206.14 999.72" style="stroke: #000000; stroke-width: 0.936"/>
</g>
</g>
<g id="text_127">
<text style="font-size: 12px; font-family: 'DejaVu Sans', sans-serif; text-anchor: end" x="78.48" y="1002.95" transform="rotate(-0 78.48 1002.95)">0</text>
</g>
</g>
<g id="ytick_51">
<g id="line2d_276">
<g>
<path d="M 84.60 980.28 L 90.57 980.28" style="stroke: #000000; stroke-width: 0.936"/>
</g>
</g>
<g id="line2d_277">
<g>
<path d="M 1212.12 980.28 L 1206.14 980.28" style="stroke: #000000; stroke-width: 0.936"/>
</g>
</g>
<g id="text_128">
<text style="font-size: 12px; font-family: 'DejaVu Sans', sans-serif; text-anchor: end" x="78.48" y="982.94" transform="rotate(-0 78.48 982.94)">20</text>
</g>
</g>
<g id="ytick_52">
<g id="line2d_278">
<g>
<path d="M 84.60 960.12 L 90.57 960.12" style="stroke: #000000; stroke-width: 0.936"/>
</g>
</g>
<g id="line2d_279">
<g>
<path d="M 1212.12 960.12 L 1206.14 960.12" style="stroke: #000000; stroke-width: 0.936"/>
</g>
</g>
<g id="text_129">
<text style="font-size: 12px; font-family: 'DejaVu Sans', sans-serif; text-anchor: end" x="78.48" y="962.92" transform="rotate(-0 78.48 962.92)">40</text>
</g>
</g>
<g id="ytick_53">
<g id="line2d_280">
<g>
<path d="M 84.60 939.96 L 90.57 939.96" style="stroke: #000000; stroke-width: 0.936"/>
</g>
</g>
<g id="line2d_281">
<g>
<path d="M 1212.12 939.96 L 1206.14 939.96" style="stroke: #000000; stroke-width: 0.936"/>
</g>
</g>
<g id="text_130">
<text style="font-size: 12px; font-family: 'DejaVu Sans', sans-serif; text-anchor: end" x="78.48" y="942.91" transform="rotate(-0 78.48 942.91)">60</text>
</g>
</g>
<g id="text_131">
<text style="font-size: 12px; font-family: 'DejaVu Sans', sans-serif; text-anchor: middle" x="33.66" y="1019.66" transform="rotate(-90 33.66 1019.66)">B(nT)</text>
</g>
</g>
<g id="text_132">
<text style="font-size: 16.9px; font-family: 'DejaVu Sans', sans-serif; text-anchor: middle" x="648" y="932.4" transform="rotate(-0 648 932.4)">Magnetic Field (RTN Frame)</text>
</g>
<g id="legend_4">
<g id="patch_41">
<path d="M 1154.88 995.76 L 1206.72 995.76 L 1206.72 944.64 L 1154.88 944.64 z" style="fill: #ffffff; stroke: #000000; stroke-width: 1.44; stroke-linejoin: miter"/>
</g>
<g id="line2d_282">
<path d="M 1162.08 953.28 L 1177.92 953.28" style="fill: none; stroke: #ff0000; stroke-width: 1.4976; stroke-linecap: square"/>
</g>
<g id="text_133">
<text style="font-size: 10.45px; font-family: 'DejaVu Sans', sans-serif; text-anchor: start" x="1188.66" y="956.84" transform="rotate(-0 1188.66 956.84)">Br</text>
</g>
<g id="line2d_283">
<path d="M 1162.08 969.84 L 1177.92 969.84" style="fill: none; stroke: #008000; stroke-width: 1.4976; stroke-linecap: square"/>
</g>
<g id="text_134">
<text style="font-size: 10.45px; font-family: 'DejaVu Sans', sans-serif; text-anchor: start" x="1188.66" y="973.22" transform="rotate(-0 1188.66 973.22)">Bt</text>
</g>
<g id="line2d_284">
<path d="M 1162.08 985.68 L 1177.92 985.68" style="fill: none; stroke: #0000ff; stroke-width: 1.4976; stroke-linecap: square"/>
</g>
<g id="text_135">
<text style="font-size: 10.45px; font-family: 'DejaVu Sans', sans-serif; text-anchor: start" x="1188.66" y="989.60" transform="rotate(-0 1188.66 989.60)">Bn</text>
</g>
</g>
</g>
<g id="axes_8">
<g id="patch_42">
<path d="M 84.24 1339.92 
L 1211.76 1339.92 
L 1211.76 1179.79 
L 84.24 1179.79 
z
" style="fill: #ffffff"/>
</g>
<g id="line2d_285">
<path d="M 84.24 1278.07 
L 120.61 1260.25 
L 156.98 1264.65 
L 193.35 1254.85 
L 229.72 1258.15 
L 266.09 1255.95 
L 302.46 1259.15 
L 338.84 1253.45 
L 375.21 1256.75 
L 411.58 1260.05 
L 447.95 1249.84 
L 484.32 1249.94 
L 520.69 1256.75 
L 557.07 1261.25 
L 593.44 1260.65 
L 629.81 1258.45 
L 666.18 1258.15 
L 702.55 1252.75 
L 738.92 1252.75 
L 775.30 1249.64 
L 811.67 1248.54 
L 848.04 1244.04 
L 884.41 1237.23 
L 920.78 1232.43 
L 957.15 1235.53 
L 993.53 1236.13 
L 1029.90 1234.93 
L 1066.27 1245.44 
L 1102.64 1242.04 
L 1139.01 1239.53 
L 1175.38 1238.93 
L 1211.76 1235.53 
" clip-path="url(#p9746ed7738)" style="fill: none; stroke: #ff0000; stroke-width: 1.4976; stroke-linecap: square"/>
</g>
<g id="line2d_286">
<path d="M 84.24 1332.11 
L 120.61 1317.70 
L 156.98 1323.10 
L 193.35 1307.89 
L 229.72 1304.59 
L 266.09 1307.89 
L 302.46 1305.39 
L 338.84 1300.78 
L 375.21 1299.98 
L 411.58 1297.78 
L 447.95 1283.97 
L 484.32 1286.67 
L 520.69 1286.37 
L 557.07 1282.97 
L 593.44 1279.57 
L 629.81 1273.06 
L 666.18 1270.86 
L 702.55 1270.56 
L 738.92 1274.76 
L 775.30 1270.86 
L 811.67 1263.75 
L 848.04 1255.05 
L 884.41 1260.05 
L 920.78 1265.76 
L 957.15 1263.25 
L 993.53 1262.65 
L 1029.90 1262.95 
L 1066.27 1251.04 
L 1102.64 1248.54 
L 1139.01 1249.34 
L 1175.38 1246.84 
L 1211.76 1247.94 
" clip-path="url(#p9746ed7738)" style="fill: none; stroke: #008000; stroke-width: 1.4976; stroke-linecap: square"/>
</g>
<g id="line2d_287">
<path d="M 84.24 1219.72 
L 120.61 1211.31 
L 156.98 1214.01 
L 193.35 1207.51 
L 229.72 1206.21 
L 266.09 1209.11 
L 302.46 1205.91 
L 338.84 1206.41 
L 375.21 1204.31 
L 411.58 1202.41 
L 447.95 1203.01 
L 484.32 1205.01 
L 520.69 1201.40 
L 557.07 1199.90 
L 593.44 1200.20 
L 629.81 1201.10 
L 666.18 1201.90 
L 702.55 1203.91 
L 738.92 1203.11 
L 775.30 1204.21 
L 811.67 1205.31 
L 848.04 1209.81 
L 884.41 1213.81 
L 920.78 1215.52 
L 957.15 1213.81 
L 993.53 1213.51 
L 1029.90 1214.11 
L 1066.27 1211.21 
L 1102.64 1215.72 
L 1139.01 1216.02 
L 1175.38 1218.62 
L 1211.76 1219.42 
" clip-path="url(#p9746ed7738)" style="fill: none; stroke: #0000ff; stroke-width: 1.4976; stroke-linecap: square"/>
</g>
<g id="line2d_288">
<path d="M 84.24 1199.40 
L 120.61 1198.80 
L 156.98 1199.40 
L 193.35 1198.30 
L 229.72 1199.10 
L 266.09 1200.20 
L 302.46 1198.80 
L 338.84 1199.40 
L 375.21 1198.50 
L 411.58 1198.00 
L 447.95 1197.70 
L 484.32 1199.10 
L 520.69 1198.00 
L 557.07 1198.00 
L 593.44 1198.30 
L 629.81 1198.30 
L 666.18 1198.50 
L 702.55 1199.10 
L 738.92 1198.50 
L 775.30 1198.30 
L 811.67 1198.00 
L 848.04 1198.00 
L 884.41 1199.10 
L 920.78 1199.10 
L 957.15 1199.10 
L 993.53 1198.80 
L 1029.90 1198.80 
L 1066.27 1198.30 
L 1102.64 1199.70 
L 1139.01 1199.10 
L 1175.38 1199.40 
L 1211.76 1199.10 
" clip-path="url(#p9746ed7738)" style="fill: none; stroke: #000000; stroke-width: 1.4976; stroke-linecap: square"/>
</g>
<g id="line2d_289">
<path d="M 84.60 1280.52 L 1212.12 1280.52" clip-path="url(#p9746ed7738)" style="fill: none; stroke-dasharray: 9.288,8.64; stroke-dashoffset: 0; stroke: #000000; stroke-width: 0.756"/>
</g>
<g id="patch_43">
<path d="M 84.24 1339.92 L 84.24 1180.08" style="fill: none; stroke: #000000; stroke-width: 1.44; stroke-linejoin: miter; stroke-linecap: square"/>
</g>
<g id="patch_44">
<path d="M 1211.76 1339.92 L 1211.76 1180.08" style="fill: none; stroke: #000000; stroke-width: 1.44; stroke-linejoin: miter; stroke-linecap: square"/>
</g>
<g id="patch_45">
<path d="M 84.24 1339.92 L 1211.76 1339.92" style="fill: none; stroke: #000000; stroke-width: 1.44; stroke-linejoin: miter; stroke-linecap: square"/>
</g>
<g id="patch_46">
<path d="M 84.24 1180.08 L 1211.76 1180.08" style="fill: none; stroke: #000000; stroke-width: 1.44; stroke-linejoin: miter; stroke-linecap: square"/>
</g>
<g id="matplotlib.axis_15">
<g id="xtick_49">
<g id="line2d_290">
<g>
<path d="M 230.04 1340.28 L 230.04 1334.30" style="stroke: #000000; stroke-width: 0.936"/>
</g>
</g>
<g id="line2d_291">
<g>
<path d="M 230.04 1180.44 L 230.04 1186.41" style="stroke: #000000; stroke-width: 0.936"/>
</g>
</g>
<g id="text_136">
<text style="font-size: 12px; font-family: 'DejaVu Sans', sans-serif; text-anchor: middle" x="229.72" y="1355.87" transform="rotate(-0 229.72 1355.87)">06/26 06:56:40</text>
</g>
</g>
<g id="xtick_50">
<g id="line2d_292">
<g>
<path d="M 412.20 1340.28 L 412.20 1334.30" style="stroke: #000000; stroke-width: 0.936"/>
</g>
</g>
<g id="line2d_293">
<g>
<path d="M 412.20 1180.44 L 412.20 1186.41" style="stroke: #000000; stroke-width: 0.936"/>
</g>
</g>
<g id="text_137">
<text style="font-size: 12px; font-family: 'DejaVu Sans', sans-serif; text-anchor: middle" x="411.58" y="1355.87" transform="rotate(-0 411.58 1355.87)">06/26 06:56:45</text>
</g>
</g>
<g id="xtick_51">
<g id="line2d_294">
<g>
<path d="M 593.64 1340.28 L 593.64 1334.30" style="stroke: #000000; stroke-width: 0.936"/>
</g>
</g>
<g id="line2d_295">
<g>
<path d="M 593.64 1180.44 L 593.64 1186.41" style="stroke: #000000; stroke-width: 0.936"/>
</g>
</g>
<g id="text_138">
<text style="font-size: 12px; font-family: 'DejaVu Sans', sans-serif; text-anchor: middle" x="593.44" y="1355.87" transform="rotate(-0 593.44 1355.87)">06/26 06:56:50</text>
</g>
</g>
<g id="xtick_52">
<g id="line2d_296">
<g>
<path d="M 775.80 1340.28 L 775.80 1334.30" style="stroke: #000000; stroke-width: 0.936"/>
</g>
</g>
<g id="line2d_297">
<g>
<path d="M 775.80 1180.44 L 775.80 1186.41" style="stroke: #000000; stroke-width: 0.936"/>
</g>
</g>
<g id="text_139">
<text style="font-size: 12px; font-family: 'DejaVu Sans', sans-serif; text-anchor: middle" x="775.30" y="1355.87" transform="rotate(-0 775.30 1355.87)">06/26 06:56:55</text>
</g>
</g>
<g id="xtick_53">
<g id="line2d_298">
<g>
<path d="M 957.24 1340.28 L 957.24 1334.30" style="stroke: #000000; stroke-width: 0.936"/>
</g>
</g>
<g id="line2d_299">
<g>
<path d="M 957.24 1180.44 L 957.24 1186.41" style="stroke: #000000; stroke-width: 0.936"/>
</g>
</g>
<g id="text_140">
<text style="font-size: 12px; font-family: 'DejaVu Sans', sans-serif; text-anchor: middle" x="957.15" y="1355.87" transform="rotate(-0 957.15 1355.87)">06/26 06:57:00</text>
</g>
</g>
<g id="xtick_54">
<g id="line2d_300">
<g>
<path d="M 1139.40 1340.28 L 1139.40 1334.30" style="stroke: #000000; stroke-width: 0.936"/>
</g>
</g>
<g id="line2d_301">
<g>
<path d="M 1139.40 1180.44 L 1139.40 1186.41" style="stroke: #000000; stroke-width: 0.936"/>
</g>
</g>
<g id="text_141">
<text style="font-size: 12px; font-family: 'DejaVu Sans', sans-serif; text-anchor: middle" x="1139.01" y="1355.87" transform="rotate(-0 1139.01 1355.87)">06/26 06:57:05</text>
</g>
</g>
</g>
<g id="matplotlib.axis_16">
<g id="ytick_54">
<g id="line2d_302">
<g>
<path d="M 84.60 1340.28 L 90.57 1340.28" style="stroke: #000000; stroke-width: 0.936"/>
</g>
</g>
<g id="line2d_303">
<g>
<path d="M 1212.12 1340.28 L 1206.14 1340.28" style="stroke: #000000; stroke-width: 0.936"/>
</g>
</g>
<g id="text_142">
<text style="font-size: 12px; font-family: 'DejaVu Sans', sans-serif; text-anchor: end" x="78.48" y="1343.23" transform="rotate(-0 78.48 1343.23)">−60</text>
</g>
</g>
<g id="ytick_55">
<g id="line2d_304">
<g>
<path d="M 84.60 1320.12 L 90.57 1320.12" style="stroke: #000000; stroke-width: 0.936"/>
</g>
</g>
<g id="line2d_305">
<g>
<path d="M 1212.12 1320.12 L 1206.14 1320.12" style="stroke: #000000; stroke-width: 0.936"/>
</g>
</g>
<g id="text_143">
<text style="font-size: 12px; font-family: 'DejaVu Sans', sans-serif; text-anchor: end" x="78.48" y="1323.21" transform="rotate(-0 78.48 1323.21)">−40</text>
</g>
</g>
<g id="ytick_56">
<g id="line2d_306">
<g>
<path d="M 84.60 1299.96 L 90.57 1299.96" style="stroke: #000000; stroke-width: 0.936"/>
</g>
</g>
<g id="line2d_307">
<g>
<path d="M 1212.12 1299.96 L 1206.14 1299.96" style="stroke: #000000; stroke-width: 0.936"/>
</g>
</g>
<g id="text_144">
<text style="font-size: 12px; font-family: 'DejaVu Sans', sans-serif; text-anchor: end" x="78.48" y="1303.19" transform="rotate(-0 78.48 1303.19)">−20</text>
</g>
</g>
<g id="ytick_57">
<g id="line2d_308">
<g>
<path d="M 84.60 1280.52 L 90.57 1280.52" style="stroke: #000000; stroke-width: 0.936"/>
</g>
</g>
<g id="line2d_309">
<g>
<path d="M 1212.12 1280.52 L 1206.14 1280.52" style="stroke: #000000; stroke-width: 0.936"/>
</g>
</g>
<g id="text_145">
<text style="font-size: 12px; font-family: 'DejaVu Sans', sans-serif; text-anchor: end" x="78.48" y="1283.18" transform="rotate(-0 78.48 1283.18)">0</text>
</g>
</g>
<g id="ytick_58">
<g id="line2d_310">
<g>
<path d="M 84.60 1260.36 L 90.57 1260.36" style="stroke: #000000; stroke-width: 0.936"/>
</g>
</g>
<g id="line2d_311">
<g>
<path d="M 1212.12 1260.36 L 1206.14 1260.36" style="stroke: #000000; stroke-width: 0.936"/>
</g>
</g>
<g id="text_146">
<text style="font-size: 12px; font-family: 'DejaVu Sans', sans-serif; text-anchor: end" x="78.48" y="1263.16" transform="rotate(-0 78.48 1263.16)">20</text>
</g>
</g>
<g id="ytick_59">
<g id="line2d_312">
<g>
<path d="M 84.60 1240.20 L 90.57 1240.20" style="stroke: #000000; stroke-width: 0.936"/>
</g>
</g>
<g id="line2d_313">
<g>
<path d="M 1212.12 1240.20 L 1206.14 1240.20" style="stroke: #000000; stroke-width: 0.936"/>
</g>
</g>
<g id="text_147">
<text style="font-size: 12px; font-family: 'DejaVu Sans', sans-serif; text-anchor: end" x="78.48" y="1243.15" transform="rotate(-0 78.48 1243.15)">40</text>
</g>
</g>
<g id="ytick_60">
<g id="line2d_314">
<g>
<path d="M 84.60 1220.04 L 90.57 1220.04" style="stroke: #000000; stroke-width: 0.936"/>
</g>
</g>
<g id="line2d_315">
<g>
<path d="M 1212.12 1220.04 L 1206.14 1220.04" style="stroke: #000000; stroke-width: 0.936"/>
</g>
</g>
<g id="text_148">
<text style="font-size: 12px; font-family: 'DejaVu Sans', sans-serif; text-anchor: end" x="78.48" y="1223.13" transform="rotate(-0 78.48 1223.13)">60</text>
</g>
</g>
<g id="ytick_61">
<g id="line2d_316">
<g>
<path d="M 84.60 1199.88 L 90.57 1199.88" style="stroke: #000000; stroke-width: 0.936"/>
</g>
</g>
<g id="line2d_317">
<g>
<path d="M 1212.12 1199.88 L 1206.14 1199.88" style="stroke: #000000; stroke-width: 0.936"/>
</g>
</g>
<g id="text_149">
<text style="font-size: 12px; font-family: 'DejaVu Sans', sans-serif; text-anchor: end" x="78.48" y="1203.11" transform="rotate(-0 78.48 1203.11)">80</text>
</g>
</g>
<g id="ytick_62">
<g id="line2d_318">
<g>
<path d="M 84.60 1180.44 L 90.57 1180.44" style="stroke: #000000; stroke-width: 0.936"/>
</g>
</g>
<g id="line2d_319">
<g>
<path d="M 1212.12 1180.44 L 1206.14 1180.44" style="stroke: #000000; stroke-width: 0.936"/>
</g>
</g>
<g id="text_150">
<text style="font-size: 12px; font-family: 'DejaVu Sans', sans-serif; text-anchor: end" x="78.48" y="1183.10" transform="rotate(-0 78.48 1183.10)">100</text>
</g>
</g>
<g id="text_151">
<text style="font-size: 12px; font-family: 'DejaVu Sans', sans-serif; text-anchor: middle" x="41.29" y="1259.85" transform="rotate(-90 41.29 1259.85)">B(nT)</text>
</g>
</g>
<g id="text_152">
<text style="font-size: 16.8px; font-family: 'DejaVu Sans', sans-serif; text-anchor: middle" x="648" y="1172.59" transform="rotate(-0 648 1172.59)">Magnetic Field (Flux Rope Frame)</text>
</g>
<g id="legend_5">
<g id="patch_47">
<path d="M 1152.72 1252.80 L 1206.72 1252.80 L 1206.72 1185.12 L 1152.72 1185.12 z" style="fill: #ffffff; stroke: #000000; stroke-width: 1.44; stroke-linejoin: miter"/>
</g>
<g id="line2d_320">
<path d="M 1159.92 1193.04 L 1175.76 1193.04" style="fill: none; stroke: #ff0000; stroke-width: 1.4976; stroke-linecap: square"/>
</g>
<g id="text_153">
<text style="font-size: 10.45px; font-family: 'DejaVu Sans', sans-serif; text-anchor: start" x="1186.23" y="1197.03" transform="rotate(-0 1186.23 1197.03)">Bx'</text>
</g>
<g id="line2d_321">
<path d="M 1159.92 1209.60 L 1175.76 1209.60" style="fill: none; stroke: #008000; stroke-width: 1.4976; stroke-linecap: square"/>
</g>
<g id="text_154">
<text style="font-size: 10.45px; font-family: 'DejaVu Sans', sans-serif; text-anchor: start" x="1186.23" y="1213.41" transform="rotate(-0 1186.23 1213.41)">By'</text>
</g>
<g id="line2d_322">
<path d="M 1159.92 1226.16 L 1175.76 1226.16" style="fill: none; stroke: #0000ff; stroke-width: 1.4976; stroke-linecap: square"/>
</g>
<g id="text_155">
<text style="font-size: 10.45px; font-family: 'DejaVu Sans', sans-serif; text-anchor: start" x="1186.23" y="1229.80" transform="rotate(-0 1186.23 1229.80)">Bz'</text>
</g>
<g id="line2d_323">
<path d="M 1159.92 1242.72 L 1175.76 1242.72" style="fill: none; stroke: #000000; stroke-width: 1.4976; stroke-linecap: square"/>
</g>
<g id="text_156">
<text style="font-size: 10.45px; font-family: 'DejaVu Sans', sans-serif; text-anchor: start" x="1186.23" y="1246.22" transform="rotate(-0 1186.23 1246.22)">|B|</text>
</g>
</g>
</g>
<g id="axes_9">
<g id="patch_48">
<path d="M 84.24 1580.11 
L 1211.76 1580.11 
L 1211.76 1419.98 
L 84.24 1419.98 
z
" style="fill: #ffffff"/>
</g>
<g id="line2d_324">
<path d="M 84.24 1433.59 
L 120.61 1437.59 
L 156.98 1435.46 
L 193.35 1437.59 
L 229.72 1438.93 
L 266.09 1438.13 
L 302.46 1438.39 
L 338.84 1438.93 
L 375.21 1438.66 
L 411.58 1439.19 
L 447.95 1438.39 
L 484.32 1438.29 
L 520.69 1438.87 
L 557.07 1438.02 
L 593.44 1439.14 
L 629.81 1437.17 
L 666.18 1436.31 
L 702.55 1437.17 
L 738.92 1438.02 
L 775.30 1437.46 
L 811.67 1434.90 
L 848.04 1433.78 
L 884.41 1434.90 
L 920.78 1435.75 
L 957.15 1436.31 
L 993.53 1435.75 
L 1029.90 1435.48 
L 1066.27 1431.24 
L 1102.64 1432.10 
L 1139.01 1432.36 
L 1175.38 1431.24 
L 1211.76 1431.24 
" clip-path="url(#p7cfa867643)" style="fill: none; stroke: #ff0000; stroke-width: 1.4976; stroke-linecap: square"/>
</g>
<g id="line2d_325">
<path d="M 84.24 1560.22 
L 120.61 1560.22 
L 156.98 1561.59 
L 193.35 1555.05 
L 229.72 1552.89 
L 266.09 1558.33 
L 302.46 1553.42 
L 338.84 1554.25 
L 375.21 1551.79 
L 411.58 1550.43 
L 447.95 1545.49 
L 484.32 1548.83 
L 520.69 1545.44 
L 557.07 1543.76 
L 593.44 1540.93 
L 629.81 1538.10 
L 666.18 1537.81 
L 702.55 1541.49 
L 738.92 1541.49 
L 775.30 1541.49 
L 811.67 1538.95 
L 848.04 1539.22 
L 884.41 1545.17 
L 920.78 1546.85 
L 957.15 1544.32 
L 993.53 1543.76 
L 1029.90 1543.46 
L 1066.27 1536.98 
L 1102.64 1538.37 
L 1139.01 1539.51 
L 1175.38 1538.95 
L 1211.76 1541.20 
" clip-path="url(#p7cfa867643)" style="fill: none; stroke: #008000; stroke-width: 1.4976; stroke-linecap: square"/>
</g>
<g id="line2d_326">
<path d="M 84.24 1546.35 
L 120.61 1536.53 
L 156.98 1540.90 
L 193.35 1535.46 
L 229.72 1534.63 
L 266.09 1535.99 
L 302.46 1534.90 
L 338.84 1532.18 
L 375.21 1533.80 
L 411.58 1533.00 
L 447.95 1524.28 
L 484.32 1530.17 
L 520.69 1531.03 
L 557.07 1530.47 
L 593.44 1529.61 
L 629.81 1527.91 
L 666.18 1523.4 
L 702.55 1522.83 
L 738.92 1524.25 
L 775.30 1521.69 
L 811.67 1518.59 
L 848.04 1514.35 
L 884.41 1514.35 
L 920.78 1515.20 
L 957.15 1515.47 
L 993.53 1515.20 
L 1029.90 1514.05 
L 1066.27 1513.23 
L 1102.64 1513.23 
L 1139.01 1513.49 
L 1175.38 1511.52 
L 1211.76 1510.66 
" clip-path="url(#p7cfa867643)" style="fill: none; stroke: #0000ff; stroke-width: 1.4976; stroke-linecap: square"/>
</g>
<g id="patch_49">
<path d="M 84.24 1580.40 L 84.24 1419.84" style="fill: none; stroke: #000000; stroke-width: 1.44; stroke-linejoin: miter; stroke-linecap: square"/>
</g>
<g id="patch_50">
<path d="M 1211.76 1580.40 L 1211.76 1419.84" style="fill: none; stroke: #000000; stroke-width: 1.44; stroke-linejoin: miter; stroke-linecap: square"/>
</g>
<g id="patch_51">
<path d="M 84.24 1580.40 L 1211.76 1580.40" style="fill: none; stroke: #000000; stroke-width: 1.44; stroke-linejoin: miter; stroke-linecap: square"/>
</g>
<g id="patch_52">
<path d="M 84.24 1419.84 L 1211.76 1419.84" style="fill: none; stroke: #000000; stroke-width: 1.44; stroke-linejoin: miter; stroke-linecap: square"/>
</g>
<g id="matplotlib.axis_17">
<g id="xtick_55">
<g id="line2d_327">
<g>
<path d="M 230.04 1580.76 L 230.04 1574.78" style="stroke: #000000; stroke-width: 0.936"/>
</g>
</g>
<g id="line2d_328">
<g>
<path d="M 230.04 1420.20 L 230.04 1426.17" style="stroke: #000000; stroke-width: 0.936"/>
</g>
</g>
<g id="text_157">
<text style="font-size: 12px; font-family: 'DejaVu Sans', sans-serif; text-anchor: middle" x="229.72" y="1596.07" transform="rotate(-0 229.72 1596.07)">06/26 06:56:40</text>
</g>
</g>
<g id="xtick_56">
<g id="line2d_329">
<g>
<path d="M 412.20 1580.76 L 412.20 1574.78" style="stroke: #000000; stroke-width: 0.936"/>
</g>
</g>
<g id="line2d_330">
<g>
<path d="M 412.20 1420.20 L 412.20 1426.17" style="stroke: #000000; stroke-width: 0.936"/>
</g>
</g>
<g id="text_158">
<text style="font-size: 12px; font-family: 'DejaVu Sans', sans-serif; text-anchor: middle" x="411.58" y="1596.07" transform="rotate(-0 411.58 1596.07)">06/26 06:56:45</text>
</g>
</g>
<g id="xtick_57">
<g id="line2d_331">
<g>
<path d="M 593.64 1580.76 L 593.64 1574.78" style="stroke: #000000; stroke-width: 0.936"/>
</g>
</g>
<g id="line2d_332">
<g>
<path d="M 593.64 1420.20 L 593.64 1426.17" style="stroke: #000000; stroke-width: 0.936"/>
</g>
</g>
<g id="text_159">
<text style="font-size: 12px; font-family: 'DejaVu Sans', sans-serif; text-anchor: middle" x="593.44" y="1596.07" transform="rotate(-0 593.44 1596.07)">06/26 06:56:50</text>
</g>
</g>
<g id="xtick_58">
<g id="line2d_333">
<g>
<path d="M 775.80 1580.76 L 775.80 1574.78" style="stroke: #000000; stroke-width: 0.936"/>
</g>
</g>
<g id="line2d_334">
<g>
<path d="M 775.80 1420.20 L 775.80 1426.17" style="stroke: #000000; stroke-width: 0.936"/>
</g>
</g>
<g id="text_160">
<text style="font-size: 12px; font-family: 'DejaVu Sans', sans-serif; text-anchor: middle" x="775.30" y="1596.07" transform="rotate(-0 775.30 1596.07)">06/26 06:56:55</text>
</g>
</g>
<g id="xtick_59">
<g id="line2d_335">
<g>
<path d="M 957.24 1580.76 L 957.24 1574.78" style="stroke: #000000; stroke-width: 0.936"/>
</g>
</g>
<g id="line2d_336">
<g>
<path d="M 957.24 1420.20 L 957.24 1426.17" style="stroke: #000000; stroke-width: 0.936"/>
</g>
</g>
<g id="text_161">
<text style="font-size: 12px; font-family: 'DejaVu Sans', sans-serif; text-anchor: middle" x="957.15" y="1596.07" transform="rotate(-0 957.15 1596.07)">06/26 06:57:00</text>
</g>
</g>
<g id="xtick_60">
<g id="line2d_337">
<g>
<path d="M 1139.40 1580.76 L 1139.40 1574.78" style="stroke: #000000; stroke-width: 0.936"/>
</g>
</g>
<g id="line2d_338">
<g>
<path d="M 1139.40 1420.20 L 1139.40 1426.17" style="stroke: #000000; stroke-width: 0.936"/>
</g>
</g>
<g id="text_162">
<text style="font-size: 12px; font-family: 'DejaVu Sans', sans-serif; text-anchor: middle" x="1139.01" y="1596.07" transform="rotate(-0 1139.01 1596.07)">06/26 06:57:05</text>
</g>
</g>
</g>
<g id="matplotlib.axis_18">
<g id="ytick_63">
<g id="line2d_339">
<g>
<path d="M 84.60 1580.76 L 90.57 1580.76" style="stroke: #000000; stroke-width: 0.936"/>
</g>
</g>
<g id="line2d_340">
<g>
<path d="M 1212.12 1580.76 L 1206.14 1580.76" style="stroke: #000000; stroke-width: 0.936"/>
</g>
</g>
<g id="text_163">
<text style="font-size: 12px; font-family: 'DejaVu Sans', sans-serif; text-anchor: end" x="78.48" y="1583.42" transform="rotate(-0 78.48 1583.42)">−200</text>
</g>
</g>
<g id="ytick_64">
<g id="line2d_341">
<g>
<path d="M 84.60 1554.12 L 90.57 1554.12" style="stroke: #000000; stroke-width: 0.936"/>
</g>
</g>
<g id="line2d_342">
<g>
<path d="M 1212.12 1554.12 L 1206.14 1554.12" style="stroke: #000000; stroke-width: 0.936"/>
</g>
</g>
<g id="text_164">
<text style="font-size: 12px; font-family: 'DejaVu Sans', sans-serif; text-anchor: end" x="78.48" y="1556.73" transform="rotate(-0 78.48 1556.73)">−100</text>
</g>
</g>
<g id="ytick_65">
<g id="line2d_343">
<g>
<path d="M 84.60 1526.76 L 90.57 1526.76" style="stroke: #000000; stroke-width: 0.936"/>
</g>
</g>
<g id="line2d_344">
<g>
<path d="M 1212.12 1526.76 L 1206.14 1526.76" style="stroke: #000000; stroke-width: 0.936"/>
</g>
</g>
<g id="text_165">
<text style="font-size: 12px; font-family: 'DejaVu Sans', sans-serif; text-anchor: end" x="78.48" y="1530.04" transform="rotate(-0 78.48 1530.04)">0</text>
</g>
</g>
<g id="ytick_66">
<g id="line2d_345">
<g>
<path d="M 84.60 1500.12 L 90.57 1500.12" style="stroke: #000000; stroke-width: 0.936"/>
</g>
</g>
<g id="line2d_346">
<g>
<path d="M 1212.12 1500.12 L 1206.14 1500.12" style="stroke: #000000; stroke-width: 0.936"/>
</g>
</g>
<g id="text_166">
<text style="font-size: 12px; font-family: 'DejaVu Sans', sans-serif; text-anchor: end" x="78.48" y="1503.35" transform="rotate(-0 78.48 1503.35)">100</text>
</g>
</g>
<g id="ytick_67">
<g id="line2d_347">
<g>
<path d="M 84.60 1473.48 L 90.57 1473.48" style="stroke: #000000; stroke-width: 0.936"/>
</g>
</g>
<g id="line2d_348">
<g>
<path d="M 1212.12 1473.48 L 1206.14 1473.48" style="stroke: #000000; stroke-width: 0.936"/>
</g>
</g>
<g id="text_167">
<text style="font-size: 12px; font-family: 'DejaVu Sans', sans-serif; text-anchor: end" x="78.48" y="1476.67" transform="rotate(-0 78.48 1476.67)">200</text>
</g>
</g>
<g id="ytick_68">
<g id="line2d_349">
<g>
<path d="M 84.60 1446.84 L 90.57 1446.84" style="stroke: #000000; stroke-width: 0.936"/>
</g>
</g>
<g id="line2d_350">
<g>
<path d="M 1212.12 1446.84 L 1206.14 1446.84" style="stroke: #000000; stroke-width: 0.936"/>
</g>
</g>
<g id="text_168">
<text style="font-size: 12px; font-family: 'DejaVu Sans', sans-serif; text-anchor: end" x="78.48" y="1449.98" transform="rotate(-0 78.48 1449.98)">300</text>
</g>
</g>
<g id="ytick_69">
<g id="line2d_351">
<g>
<path d="M 84.60 1420.20 L 90.57 1420.20" style="stroke: #000000; stroke-width: 0.936"/>
</g>
</g>
<g id="line2d_352">
<g>
<path d="M 1212.12 1420.20 L 1206.14 1420.20" style="stroke: #000000; stroke-width: 0.936"/>
</g>
</g>
<g id="text_169">
<text style="font-size: 12px; font-family: 'DejaVu Sans', sans-serif; text-anchor: end" x="78.48" y="1423.29" transform="rotate(-0 78.48 1423.29)">400</text>
</g>
</g>
<g id="text_170">
<text style="font-size: 12px; font-family: 'DejaVu Sans', sans-serif; text-anchor: middle" x="33.66" y="1500.04" transform="rotate(-90 33.66 1500.04)">Vsw(km/s)</text>
</g>
</g>
<g id="text_171">
<text style="font-size: 16.82px; font-family: 'DejaVu Sans', sans-serif; text-anchor: middle" x="648" y="1412.78" transform="rotate(-0 648 1412.78)">Solar Wind Velocity (RTN Frame)</text>
</g>
<g id="legend_6">
<g id="patch_53">
<path d="M 1154.88 1476.00 L 1206.72 1476.00 L 1206.72 1424.88 L 1154.88 1424.88 z" style="fill: #ffffff; stroke: #000000; stroke-width: 1.44; stroke-linejoin: miter"/>
</g>
<g id="line2d_353">
<path d="M 1162.08 1433.52 L 1177.92 1433.52" style="fill: none; stroke: #ff0000; stroke-width: 1.4976; stroke-linecap: square"/>
</g>
<g id="text_172">
<text style="font-size: 10.45px; font-family: 'DejaVu Sans', sans-serif; text-anchor: start" x="1188.68" y="1437.22" transform="rotate(-0 1188.68 1437.22)">Vr</text>
</g>
<g id="line2d_354">
<path d="M 1162.08 1450.08 L 1177.92 1450.08" style="fill: none; stroke: #008000; stroke-width: 1.4976; stroke-linecap: square"/>
</g>
<g id="text_173">
<text style="font-size: 10.45px; font-family: 'DejaVu Sans', sans-serif; text-anchor: start" x="1188.68" y="1453.60" transform="rotate(-0 1188.68 1453.60)">Vt</text>
</g>
<g id="line2d_355">
<path d="M 1162.08 1466.64 L 1177.92 1466.64" style="fill: none; stroke: #0000ff; stroke-width: 1.4976; stroke-linecap: square"/>
</g>
<g id="text_174">
<text style="font-size: 10.45px; font-family: 'DejaVu Sans', sans-serif; text-anchor: start" x="1188.68" y="1469.99" transform="rotate(-0 1188.68 1469.99)">Vn</text>
</g>
</g>
</g>
<g id="axes_10">
<g id="patch_54">
<path d="M 84.24 1820.30 
L 1211.76 1820.30 
L 1211.76 1660.17 
L 84.24 1660.17 
z
" style="fill: #ffffff"/>
</g>
<g id="line2d_356">
<path d="M 84.24 1676.18 
L 120.61 1759.45 
L 156.98 1787.21 
L 193.35 1784.36 
L 229.72 1774.40 
L 266.09 1729.20 
L 302.46 1798.24 
L 338.84 1773.68 
L 375.21 1781.87 
L 411.58 1782.94 
L 447.95 1783.29 
L 484.32 1796.10 
L 520.69 1803.22 
L 557.07 1819.59 
L 593.44 1721.73 
L 629.81 1771.55 
L 666.18 1770.48 
L 702.55 1792.54 
L 738.92 1788.63 
L 775.30 1768.70 
L 811.67 1791.48 
L 848.04 1776.17 
L 884.41 1795.75 
L 920.78 1758.03 
L 957.15 1755.18 
L 993.53 1678.32 
L 1029.90 1736.68 
L 1066.27 1755.54 
L 1102.64 1676.18 
L 1139.01 1744.86 
L 1175.38 1666.93 
L 1211.76 1737.39 
" clip-path="url(#p29478d0e4d)" style="fill: none; stroke: #0000ff; stroke-width: 1.4976; stroke-linecap: square"/>
</g>
<g id="patch_55">
<path d="M 84.24 1820.16 L 84.24 1660.32" style="fill: none; stroke: #000000; stroke-width: 1.44; stroke-linejoin: miter; stroke-linecap: square"/>
</g>
<g id="patch_56">
<path d="M 1211.76 1820.16 L 1211.76 1660.32" style="fill: none; stroke: #000000; stroke-width: 1.44; stroke-linejoin: miter; stroke-linecap: square"/>
</g>
<g id="patch_57">
<path d="M 84.24 1820.16 L 1211.76 1820.16" style="fill: none; stroke: #000000; stroke-width: 1.44; stroke-linejoin: miter; stroke-linecap: square"/>
</g>
<g id="patch_58">
<path d="M 84.24 1660.32 L 1211.76 1660.32" style="fill: none; stroke: #000000; stroke-width: 1.44; stroke-linejoin: miter; stroke-linecap: square"/>
</g>
<g id="matplotlib.axis_19">
<g id="xtick_61">
<g id="line2d_357">
<g>
<path d="M 230.04 1820.52 L 230.04 1814.54" style="stroke: #000000; stroke-width: 0.936"/>
</g>
</g>
<g id="line2d_358">
<g>
<path d="M 230.04 1660.68 L 230.04 1666.65" style="stroke: #000000; stroke-width: 0.936"/>
</g>
</g>
<g id="text_175">
<text style="font-size: 12px; font-family: 'DejaVu Sans', sans-serif; text-anchor: middle" x="229.72" y="1836.26" transform="rotate(-0 229.72 1836.26)">06/26 06:56:40</text>
</g>
</g>
<g id="xtick_62">
<g id="line2d_359">
<g>
<path d="M 412.20 1820.52 L 412.20 1814.54" style="stroke: #000000; stroke-width: 0.936"/>
</g>
</g>
<g id="line2d_360">
<g>
<path d="M 412.20 1660.68 L 412.20 1666.65" style="stroke: #000000; stroke-width: 0.936"/>
</g>
</g>
<g id="text_176">
<text style="font-size: 12px; font-family: 'DejaVu Sans', sans-serif; text-anchor: middle" x="411.58" y="1836.26" transform="rotate(-0 411.58 1836.26)">06/26 06:56:45</text>
</g>
</g>
<g id="xtick_63">
<g id="line2d_361">
<g>
<path d="M 593.64 1820.52 L 593.64 1814.54" style="stroke: #000000; stroke-width: 0.936"/>
</g>
</g>
<g id="line2d_362">
<g>
<path d="M 593.64 1660.68 L 593.64 1666.65" style="stroke: #000000; stroke-width: 0.936"/>
</g>
</g>
<g id="text_177">
<text style="font-size: 12px; font-family: 'DejaVu Sans', sans-serif; text-anchor: middle" x="593.44" y="1836.26" transform="rotate(-0 593.44 1836.26)">06/26 06:56:50</text>
</g>
</g>
<g id="xtick_64">
<g id="line2d_363">
<g>
<path d="M 775.80 1820.52 L 775.80 1814.54" style="stroke: #000000; stroke-width: 0.936"/>
</g>
</g>
<g id="line2d_364">
<g>
<path d="M 775.80 1660.68 L 775.80 1666.65" style="stroke: #000000; stroke-width: 0.936"/>
</g>
</g>
<g id="text_178">
<text style="font-size: 12px; font-family: 'DejaVu Sans', sans-serif; text-anchor: middle" x="775.30" y="1836.26" transform="rotate(-0 775.30 1836.26)">06/26 06:56:55</text>
</g>
</g>
<g id="xtick_65">
<g id="line2d_365">
<g>
<path d="M 957.24 1820.52 L 957.24 1814.54" style="stroke: #000000; stroke-width: 0.936"/>
</g>
</g>
<g id="line2d_366">
<g>
<path d="M 957.24 1660.68 L 957.24 1666.65" style="stroke: #000000; stroke-width: 0.936"/>
</g>
</g>
<g id="text_179">
<text style="font-size: 12px; font-family: 'DejaVu Sans', sans-serif; text-anchor: middle" x="957.15" y="1836.26" transform="rotate(-0 957.15 1836.26)">06/26 06:57:00</text>
</g>
</g>
<g id="xtick_66">
<g id="line2d_367">
<g>
<path d="M 1139.40 1820.52 L 1139.40 1814.54" style="stroke: #000000; stroke-width: 0.936"/>
</g>
</g>
<g id="line2d_368">
<g>
<path d="M 1139.40 1660.68 L 1139.40 1666.65" style="stroke: #000000; stroke-width: 0.936"/>
</g>
</g>
<g id="text_180">
<text style="font-size: 12px; font-family: 'DejaVu Sans', sans-serif; text-anchor: middle" x="1139.01" y="1836.26" transform="rotate(-0 1139.01 1836.26)">06/26 06:57:05</text>
</g>
</g>
</g>
<g id="matplotlib.axis_20">
<g id="ytick_70">
<g id="line2d_369">
<g>
<path d="M 84.60 1820.52 L 90.57 1820.52" style="stroke: #000000; stroke-width: 0.936"/>
</g>
</g>
<g id="line2d_370">
<g>
<path d="M 1212.12 1820.52 L 1206.14 1820.52" style="stroke: #000000; stroke-width: 0.936"/>
</g>
</g>
<g id="text_181">
<text style="font-size: 12px; font-family: 'DejaVu Sans', sans-serif; text-anchor: end" x="78.48" y="1823.61" transform="rotate(-0 78.48 1823.61)">0.050</text>
</g>
</g>
<g id="ytick_71">
<g id="line2d_371">
<g>
<path d="M 84.60 1802.52 L 90.57 1802.52" style="stroke: #000000; stroke-width: 0.936"/>
</g>
</g>
<g id="line2d_372">
<g>
<path d="M 1212.12 1802.52 L 1206.14 1802.52" style="stroke: #000000; stroke-width: 0.936"/>
</g>
</g>
<g id="text_182">
<text style="font-size: 12px; font-family: 'DejaVu Sans', sans-serif; text-anchor: end" x="78.48" y="1805.82" transform="rotate(-0 78.48 1805.82)">0.055</text>
</g>
</g>
<g id="ytick_72">
<g id="line2d_373">
<g>
<path d="M 84.60 1785.24 L 90.57 1785.24" style="stroke: #000000; stroke-width: 0.936"/>
</g>
</g>
<g id="line2d_374">
<g>
<path d="M 1212.12 1785.24 L 1206.14 1785.24" style="stroke: #000000; stroke-width: 0.936"/>
</g>
</g>
<g id="text_183">
<text style="font-size: 12px; font-family: 'DejaVu Sans', sans-serif; text-anchor: end" x="78.48" y="1788.03" transform="rotate(-0 78.48 1788.03)">0.060</text>
</g>
</g>
<g id="ytick_73">
<g id="line2d_375">
<g>
<path d="M 84.60 1767.24 L 90.57 1767.24" style="stroke: #000000; stroke-width: 0.936"/>
</g>
</g>
<g id="line2d_376">
<g>
<path d="M 1212.12 1767.24 L 1206.14 1767.24" style="stroke: #000000; stroke-width: 0.936"/>
</g>
</g>
<g id="text_184">
<text style="font-size: 12px; font-family: 'DejaVu Sans', sans-serif; text-anchor: end" x="78.48" y="1770.23" transform="rotate(-0 78.48 1770.23)">0.065</text>
</g>
</g>
<g id="ytick_74">
<g id="line2d_377">
<g>
<path d="M 84.60 1749.24 L 90.57 1749.24" style="stroke: #000000; stroke-width: 0.936"/>
</g>
</g>
<g id="line2d_378">
<g>
<path d="M 1212.12 1749.24 L 1206.14 1749.24" style="stroke: #000000; stroke-width: 0.936"/>
</g>
</g>
<g id="text_185">
<text style="font-size: 12px; font-family: 'DejaVu Sans', sans-serif; text-anchor: end" x="78.48" y="1752.44" transform="rotate(-0 78.48 1752.44)">0.070</text>
</g>
</g>
<g id="ytick_75">
<g id="line2d_379">
<g>
<path d="M 84.60 1731.96 L 90.57 1731.96" style="stroke: #000000; stroke-width: 0.936"/>
</g>
</g>
<g id="line2d_380">
<g>
<path d="M 1212.12 1731.96 L 1206.14 1731.96" style="stroke: #000000; stroke-width: 0.936"/>
</g>
</g>
<g id="text_186">
<text style="font-size: 12px; font-family: 'DejaVu Sans', sans-serif; text-anchor: end" x="78.48" y="1734.65" transform="rotate(-0 78.48 1734.65)">0.075</text>
</g>
</g>
<g id="ytick_76">
<g id="line2d_381">
<g>
<path d="M 84.60 1713.96 L 90.57 1713.96" style="stroke: #000000; stroke-width: 0.936"/>
</g>
</g>
<g id="line2d_382">
<g>
<path d="M 1212.12 1713.96 L 1206.14 1713.96" style="stroke: #000000; stroke-width: 0.936"/>
</g>
</g>
<g id="text_187">
<text style="font-size: 12px; font-family: 'DejaVu Sans', sans-serif; text-anchor: end" x="78.48" y="1716.86" transform="rotate(-0 78.48 1716.86)">0.080</text>
</g>
</g>
<g id="ytick_77">
<g id="line2d_383">
<g>
<path d="M 84.60 1695.96 L 90.57 1695.96" style="stroke: #000000; stroke-width: 0.936"/>
</g>
</g>
<g id="line2d_384">
<g>
<path d="M 1212.12 1695.96 L 1206.14 1695.96" style="stroke: #000000; stroke-width: 0.936"/>
</g>
</g>
<g id="text_188">
<text style="font-size: 12px; font-family: 'DejaVu Sans', sans-serif; text-anchor: end" x="78.48" y="1699.07" transform="rotate(-0 78.48 1699.07)">0.085</text>
</g>
</g>
<g id="ytick_78">
<g id="line2d_385">
<g>
<path d="M 84.60 1678.68 L 90.57 1678.68" style="stroke: #000000; stroke-width: 0.936"/>
</g>
</g>
<g id="line2d_386">
<g>
<path d="M 1212.12 1678.68 L 1206.14 1678.68" style="stroke: #000000; stroke-width: 0.936"/>
</g>
</g>
<g id="text_189">
<text style="font-size: 12px; font-family: 'DejaVu Sans', sans-serif; text-anchor: end" x="78.48" y="1681.27" transform="rotate(-0 78.48 1681.27)">0.090</text>
</g>
</g>
<g id="ytick_79">
<g id="line2d_387">
<g>
<path d="M 84.60 1660.68 L 90.57 1660.68" style="stroke: #000000; stroke-width: 0.936"/>
</g>
</g>
<g id="line2d_388">
<g>
<path d="M 1212.12 1660.68 L 1206.14 1660.68" style="stroke: #000000; stroke-width: 0.936"/>
</g>
</g>
<g id="text_190">
<text style="font-size: 12px; font-family: 'DejaVu Sans', sans-serif; text-anchor: end" x="78.48" y="1663.48" transform="rotate(-0 78.48 1663.48)">0.095</text>
</g>
</g>
<g id="text_191">
<g transform="translate(31.04 1746.18) rotate(-90)">
<text>
<tspan x="0.00" y="-0.53" style="font-size: 10.80px; font-style: italic; font-family: 'DejaVu Serif', serif">β</tspan>
<tspan x="6.78" y="1.51" style="font-size: 7.56px; font-style: italic; font-family: 'DejaVu Serif', serif">p</tspan>
</text>
</g>
</g>
</g>
<g id="text_192">
<text style="font-size: 16.77px; font-family: 'DejaVu Sans', sans-serif; text-anchor: middle" x="648" y="1652.97" transform="rotate(-0 648 1652.97)">Plasma Beta</text>
</g>
</g>
<g id="axes_11">
<g id="patch_59">
<path d="M 84.24 2060.49 
L 1211.76 2060.49 
L 1211.76 1900.36 
L 84.24 1900.36 
z
" style="fill: #ffffff"/>
</g>
<g id="line2d_389">
<path d="M 84.24 2006.96 
L 120.61 1960.75 
L 156.98 1997.81 
L 193.35 1957.09 
L 229.72 1949.77 
L 266.09 1917.29 
L 302.46 1975.85 
L 338.84 1936.51 
L 375.21 1949.77 
L 411.58 1963.27 
L 447.95 1984.54 
L 484.32 1992.32 
L 520.69 1976.31 
L 557.07 2012.00 
L 593.44 1961.21 
L 629.81 1990.95 
L 666.18 2004.67 
L 702.55 2012.00 
L 738.92 1986.37 
L 775.30 1991.41 
L 811.67 2018.40 
L 848.04 2040.82 
L 884.41 2032.13 
L 920.78 1999.64 
L 957.15 1986.37 
L 993.53 1977.68 
L 1029.90 1992.32 
L 1066.27 2055.92 
L 1102.64 2011.54 
L 1139.01 2039.90 
L 1175.38 2018.86 
L 1211.76 2054.09 
" clip-path="url(#p678ba3bb80)" style="fill: none; stroke: #0000ff; stroke-width: 1.4976; stroke-linecap: square"/>
</g>
<g id="patch_60">
<path d="M 84.24 2060.64 L 84.24 1900.08" style="fill: none; stroke: #000000; stroke-width: 1.44; stroke-linejoin: miter; stroke-linecap: square"/>
</g>
<g id="patch_61">
<path d="M 1211.76 2060.64 L 1211.76 1900.08" style="fill: none; stroke: #000000; stroke-width: 1.44; stroke-linejoin: miter; stroke-linecap: square"/>
</g>
<g id="patch_62">
<path d="M 84.24 2060.64 L 1211.76 2060.64" style="fill: none; stroke: #000000; stroke-width: 1.44; stroke-linejoin: miter; stroke-linecap: square"/>
</g>
<g id="patch_63">
<path d="M 84.24 1900.08 L 1211.76 1900.08" style="fill: none; stroke: #000000; stroke-width: 1.44; stroke-linejoin: miter; stroke-linecap: square"/>
</g>
<g id="matplotlib.axis_21">
<g id="xtick_67">
<g id="line2d_390">
<g>
<path d="M 230.04 2061.00 L 230.04 2055.02" style="stroke: #000000; stroke-width: 0.936"/>
</g>
</g>
<g id="line2d_391">
<g>
<path d="M 230.04 1900.44 L 230.04 1906.41" style="stroke: #000000; stroke-width: 0.936"/>
</g>
</g>
<g id="text_193">
<text style="font-size: 12px; font-family: 'DejaVu Sans', sans-serif; text-anchor: middle" x="229.72" y="2076.45" transform="rotate(-0 229.72 2076.45)">06/26 06:56:40</text>
</g>
</g>
<g id="xtick_68">
<g id="line2d_392">
<g>
<path d="M 412.20 2061.00 L 412.20 2055.02" style="stroke: #000000; stroke-width: 0.936"/>
</g>
</g>
<g id="line2d_393">
<g>
<path d="M 412.20 1900.44 L 412.20 1906.41" style="stroke: #000000; stroke-width: 0.936"/>
</g>
</g>
<g id="text_194">
<text style="font-size: 12px; font-family: 'DejaVu Sans', sans-serif; text-anchor: middle" x="411.58" y="2076.45" transform="rotate(-0 411.58 2076.45)">06/26 06:56:45</text>
</g>
</g>
<g id="xtick_69">
<g id="line2d_394">
<g>
<path d="M 593.64 2061.00 L 593.64 2055.02" style="stroke: #000000; stroke-width: 0.936"/>
</g>
</g>
<g id="line2d_395">
<g>
<path d="M 593.64 1900.44 L 593.64 1906.41" style="stroke: #000000; stroke-width: 0.936"/>
</g>
</g>
<g id="text_195">
<text style="font-size: 12px; font-family: 'DejaVu Sans', sans-serif; text-anchor: middle" x="593.44" y="2076.45" transform="rotate(-0 593.44 2076.45)">06/26 06:56:50</text>
</g>
</g>
<g id="xtick_70">
<g id="line2d_396">
<g>
<path d="M 775.80 2061.00 L 775.80 2055.02" style="stroke: #000000; stroke-width: 0.936"/>
</g>
</g>
<g id="line2d_397">
<g>
<path d="M 775.80 1900.44 L 775.80 1906.41" style="stroke: #000000; stroke-width: 0.936"/>
</g>
</g>
<g id="text_196">
<text style="font-size: 12px; font-family: 'DejaVu Sans', sans-serif; text-anchor: middle" x="775.30" y="2076.45" transform="rotate(-0 775.30 2076.45)">06/26 06:56:55</text>
</g>
</g>
<g id="xtick_71">
<g id="line2d_398">
<g>
<path d="M 957.24 2061.00 L 957.24 2055.02" style="stroke: #000000; stroke-width: 0.936"/>
</g>
</g>
<g id="line2d_399">
<g>
<path d="M 957.24 1900.44 L 957.24 1906.41" style="stroke: #000000; stroke-width: 0.936"/>
</g>
</g>
<g id="text_197">
<text style="font-size: 12px; font-family: 'DejaVu Sans', sans-serif; text-anchor: middle" x="957.15" y="2076.45" transform="rotate(-0 957.15 2076.45)">06/26 06:57:00</text>
</g>
</g>
<g id="xtick_72">
<g id="line2d_400">
<g>
<path d="M 1139.40 2061.00 L 1139.40 2055.02" style="stroke: #000000; stroke-width: 0.936"/>
</g>
</g>
<g id="line2d_401">
<g>
<path d="M 1139.40 1900.44 L 1139.40 1906.41" style="stroke: #000000; stroke-width: 0.936"/>
</g>
</g>
<g id="text_198">
<text style="font-size: 12px; font-family: 'DejaVu Sans', sans-serif; text-anchor: middle" x="1139.01" y="2076.45" transform="rotate(-0 1139.01 2076.45)">06/26 06:57:05</text>
</g>
</g>
</g>
<g id="matplotlib.axis_22">
<g id="ytick_80">
<g id="line2d_402">
<g>
<path d="M 84.60 2061.00 L 90.57 2061.00" style="stroke: #000000; stroke-width: 0.936"/>
</g>
</g>
<g id="line2d_403">
<g>
<path d="M 1212.12 2061.00 L 1206.14 2061.00" style="stroke: #000000; stroke-width: 0.936"/>
</g>
</g>
<g id="text_199">
<text style="font-size: 12px; font-family: 'DejaVu Sans', sans-serif; text-anchor: end" x="78.48" y="2063.80" transform="rotate(-0 78.48 2063.80)">95</text>
</g>
</g>
<g id="ytick_81">
<g id="line2d_404">
<g>
<path d="M 84.60 2037.96 L 90.57 2037.96" style="stroke: #000000; stroke-width: 0.936"/>
</g>
</g>
<g id="line2d_405">
<g>
<path d="M 1212.12 2037.96 L 1206.14 2037.96" style="stroke: #000000; stroke-width: 0.936"/>
</g>
</g>
<g id="text_200">
<text style="font-size: 12px; font-family: 'DejaVu Sans', sans-serif; text-anchor: end" x="78.48" y="2040.93" transform="rotate(-0 78.48 2040.93)">100</text>
</g>
</g>
<g id="ytick_82">
<g id="line2d_406">
<g>
<path d="M 84.60 2014.92 L 90.57 2014.92" style="stroke: #000000; stroke-width: 0.936"/>
</g>
</g>
<g id="line2d_407">
<g>
<path d="M 1212.12 2014.92 L 1206.14 2014.92" style="stroke: #000000; stroke-width: 0.936"/>
</g>
</g>
<g id="text_201">
<text style="font-size: 12px; font-family: 'DejaVu Sans', sans-serif; text-anchor: end" x="78.48" y="2018.05" transform="rotate(-0 78.48 2018.05)">105</text>
</g>
</g>
<g id="ytick_83">
<g id="line2d_408">
<g>
<path d="M 84.60 1991.88 L 90.57 1991.88" style="stroke: #000000; stroke-width: 0.936"/>
</g>
</g>
<g id="line2d_409">
<g>
<path d="M 1212.12 1991.88 L 1206.14 1991.88" style="stroke: #000000; stroke-width: 0.936"/>
</g>
</g>
<g id="text_202">
<text style="font-size: 12px; font-family: 'DejaVu Sans', sans-serif; text-anchor: end" x="78.48" y="1995.18" transform="rotate(-0 78.48 1995.18)">110</text>
</g>
</g>
<g id="ytick_84">
<g id="line2d_410">
<g>
<path d="M 84.60 1969.56 L 90.57 1969.56" style="stroke: #000000; stroke-width: 0.936"/>
</g>
</g>
<g id="line2d_411">
<g>
<path d="M 1212.12 1969.56 L 1206.14 1969.56" style="stroke: #000000; stroke-width: 0.936"/>
</g>
</g>
<g id="text_203">
<text style="font-size: 12px; font-family: 'DejaVu Sans', sans-serif; text-anchor: end" x="78.48" y="1972.30" transform="rotate(-0 78.48 1972.30)">115</text>
</g>
</g>
<g id="ytick_85">
<g id="line2d_412">
<g>
<path d="M 84.60 1946.52 L 90.57 1946.52" style="stroke: #000000; stroke-width: 0.936"/>
</g>
</g>
<g id="line2d_413">
<g>
<path d="M 1212.12 1946.52 L 1206.14 1946.52" style="stroke: #000000; stroke-width: 0.936"/>
</g>
</g>
<g id="text_204">
<text style="font-size: 12px; font-family: 'DejaVu Sans', sans-serif; text-anchor: end" x="78.48" y="1949.43" transform="rotate(-0 78.48 1949.43)">120</text>
</g>
</g>
<g id="ytick_86">
<g id="line2d_414">
<g>
<path d="M 84.60 1923.48 L 90.57 1923.48" style="stroke: #000000; stroke-width: 0.936"/>
</g>
</g>
<g id="line2d_415">
<g>
<path d="M 1212.12 1923.48 L 1206.14 1923.48" style="stroke: #000000; stroke-width: 0.936"/>
</g>
</g>
<g id="text_205">
<text style="font-size: 12px; font-family: 'DejaVu Sans', sans-serif; text-anchor: end" x="78.48" y="1926.55" transform="rotate(-0 78.48 1926.55)">125</text>
</g>
</g>
<g id="ytick_87">
<g id="line2d_416">
<g>
<path d="M 84.60 1900.44 L 90.57 1900.44" style="stroke: #000000; stroke-width: 0.936"/>
</g>
</g>
<g id="line2d_417">
<g>
<path d="M 1212.12 1900.44 L 1206.14 1900.44" style="stroke: #000000; stroke-width: 0.936"/>
</g>
</g>
<g id="text_206">
<text style="font-size: 12px; font-family: 'DejaVu Sans', sans-serif; text-anchor: end" x="78.48" y="1903.67" transform="rotate(-0 78.48 1903.67)">130</text>
</g>
</g>
<g id="text_207">
<text style="font-size: 12px; font-family: 'DejaVu Sans', sans-serif; text-anchor: middle" x="43.71" y="1980.43" transform="rotate(-90 43.71 1980.43)">Np(#/cc)</text>
</g>
</g>
<g id="text_208">
<text style="font-size: 16.7px; font-family: 'DejaVu Sans', sans-serif; text-anchor: middle" x="648" y="1893.16" transform="rotate(-0 648 1893.16)">Proton Number Density</text>
</g>
</g>
<g id="axes_12">
<g id="patch_64">
<path d="M 84.24 2300.68 
L 1211.76 2300.68 
L 1211.76 2140.56 
L 84.24 2140.56 
z
" style="fill: #ffffff"/>
</g>
<g id="line2d_418">
<path d="M 84.24 2167.42 
L 120.61 2254.07 
L 156.98 2265.10 
L 193.35 2272.04 
L 229.72 2269.72 
L 266.09 2251.40 
L 302.46 2278.80 
L 338.84 2273.46 
L 375.21 2273.28 
L 411.58 2267.23 
L 447.95 2259.05 
L 484.32 2274.88 
L 520.69 2280.93 
L 557.07 2284.85 
L 593.44 2222.93 
L 629.81 2251.22 
L 666.18 2246.95 
L 702.55 2264.74 
L 738.92 2268.12 
L 775.30 2248.37 
L 811.67 2255.49 
L 848.04 2233.61 
L 884.41 2259.41 
L 920.78 2238.77 
L 957.15 2242.15 
L 993.53 2182.37 
L 1029.90 2223.47 
L 1066.27 2206.74 
L 1102.64 2166.53 
L 1139.01 2209.05 
L 1175.38 2155.86 
L 1211.76 2194.29 
" clip-path="url(#p251cb50f02)" style="fill: none; stroke: #0000ff; stroke-width: 1.4976; stroke-linecap: square"/>
</g>
<g id="patch_65">
<path d="M 84.24 2300.40 L 84.24 2140.56" style="fill: none; stroke: #000000; stroke-width: 1.44; stroke-linejoin: miter; stroke-linecap: square"/>
</g>
<g id="patch_66">
<path d="M 1211.76 2300.40 L 1211.76 2140.56" style="fill: none; stroke: #000000; stroke-width: 1.44; stroke-linejoin: miter; stroke-linecap: square"/>
</g>
<g id="patch_67">
<path d="M 84.24 2300.40 L 1211.76 2300.40" style="fill: none; stroke: #000000; stroke-width: 1.44; stroke-linejoin: miter; stroke-linecap: square"/>
</g>
<g id="patch_68">
<path d="M 84.24 2140.56 L 1211.76 2140.56" style="fill: none; stroke: #000000; stroke-width: 1.44; stroke-linejoin: miter; stroke-linecap: square"/>
</g>
<g id="matplotlib.axis_23">
<g id="xtick_73">
<g id="line2d_419">
<g>
<path d="M 230.04 2300.76 L 230.04 2294.78" style="stroke: #000000; stroke-width: 0.936"/>
</g>
</g>
<g id="line2d_420">
<g>
<path d="M 230.04 2140.92 L 230.04 2146.89" style="stroke: #000000; stroke-width: 0.936"/>
</g>
</g>
<g id="text_209">
<text style="font-size: 12px; font-family: 'DejaVu Sans', sans-serif; text-anchor: middle" x="229.72" y="2316.64" transform="rotate(-0 229.72 2316.64)">06/26 06:56:40</text>
</g>
</g>
<g id="xtick_74">
<g id="line2d_421">
<g>
<path d="M 412.20 2300.76 L 412.20 2294.78" style="stroke: #000000; stroke-width: 0.936"/>
</g>
</g>
<g id="line2d_422">
<g>
<path d="M 412.20 2140.92 L 412.20 2146.89" style="stroke: #000000; stroke-width: 0.936"/>
</g>
</g>
<g id="text_210">
<text style="font-size: 12px; font-family: 'DejaVu Sans', sans-serif; text-anchor: middle" x="411.58" y="2316.64" transform="rotate(-0 411.58 2316.64)">06/26 06:56:45</text>
</g>
</g>
<g id="xtick_75">
<g id="line2d_423">
<g>
<path d="M 593.64 2300.76 L 593.64 2294.78" style="stroke: #000000; stroke-width: 0.936"/>
</g>
</g>
<g id="line2d_424">
<g>
<path d="M 593.64 2140.92 L 593.64 2146.89" style="stroke: #000000; stroke-width: 0.936"/>
</g>
</g>
<g id="text_211">
<text style="font-size: 12px; font-family: 'DejaVu Sans', sans-serif; text-anchor: middle" x="593.44" y="2316.64" transform="rotate(-0 593.44 2316.64)">06/26 06:56:50</text>
</g>
</g>
<g id="xtick_76">
<g id="line2d_425">
<g>
<path d="M 775.80 2300.76 L 775.80 2294.78" style="stroke: #000000; stroke-width: 0.936"/>
</g>
</g>
<g id="line2d_426">
<g>
<path d="M 775.80 2140.92 L 775.80 2146.89" style="stroke: #000000; stroke-width: 0.936"/>
</g>
</g>
<g id="text_212">
<text style="font-size: 12px; font-family: 'DejaVu Sans', sans-serif; text-anchor: middle" x="775.30" y="2316.64" transform="rotate(-0 775.30 2316.64)">06/26 06:56:55</text>
</g>
</g>
<g id="xtick_77">
<g id="line2d_427">
<g>
<path d="M 957.24 2300.76 L 957.24 2294.78" style="stroke: #000000; stroke-width: 0.936"/>
</g>
</g>
<g id="line2d_428">
<g>
<path d="M 957.24 2140.92 L 957.24 2146.89" style="stroke: #000000; stroke-width: 0.936"/>
</g>
</g>
<g id="text_213">
<text style="font-size: 12px; font-family: 'DejaVu Sans', sans-serif; text-anchor: middle" x="957.15" y="2316.64" transform="rotate(-0 957.15 2316.64)">06/26 06:57:00</text>
</g>
</g>
<g id="xtick_78">
<g id="line2d_429">
<g>
<path d="M 1139.40 2300.76 L 1139.40 2294.78" style="stroke: #000000; stroke-width: 0.936"/>
</g>
</g>
<g id="line2d_430">
<g>
<path d="M 1139.40 2140.92 L 1139.40 2146.89" style="stroke: #000000; stroke-width: 0.936"/>
</g>
</g>
<g id="text_214">
<text style="font-size: 12px; font-family: 'DejaVu Sans', sans-serif; text-anchor: middle" x="1139.01" y="2316.64" transform="rotate(-0 1139.01 2316.64)">06/26 06:57:05</text>
</g>
</g>
</g>
<g id="matplotlib.axis_24">
<g id="ytick_88">
<g id="line2d_431">
<g>
<path d="M 84.60 2300.76 L 90.57 2300.76" style="stroke: #000000; stroke-width: 0.936"/>
</g>
</g>
<g id="line2d_432">
<g>
<path d="M 1212.12 2300.76 L 1206.14 2300.76" style="stroke: #000000; stroke-width: 0.936"/>
</g>
</g>
<g id="text_215">
<text style="font-size: 12px; font-family: 'DejaVu Sans', sans-serif; text-anchor: end" x="78.48" y="2303.99" transform="rotate(-0 78.48 2303.99)">0.08</text>
</g>
</g>
<g id="ytick_89">
<g id="line2d_433">
<g>
<path d="M 84.60 2283.48 L 90.57 2283.48" style="stroke: #000000; stroke-width: 0.936"/>
</g>
</g>
<g id="line2d_434">
<g>
<path d="M 1212.12 2283.48 L 1206.14 2283.48" style="stroke: #000000; stroke-width: 0.936"/>
</g>
</g>
<g id="text_216">
<text style="font-size: 12px; font-family: 'DejaVu Sans', sans-serif; text-anchor: end" x="78.48" y="2286.20" transform="rotate(-0 78.48 2286.20)">0.09</text>
</g>
</g>
<g id="ytick_90">
<g id="line2d_435">
<g>
<path d="M 84.60 2265.48 L 90.57 2265.48" style="stroke: #000000; stroke-width: 0.936"/>
</g>
</g>
<g id="line2d_436">
<g>
<path d="M 1212.12 2265.48 L 1206.14 2265.48" style="stroke: #000000; stroke-width: 0.936"/>
</g>
</g>
<g id="text_217">
<text style="font-size: 12px; font-family: 'DejaVu Sans', sans-serif; text-anchor: end" x="78.48" y="2268.41" transform="rotate(-0 78.48 2268.41)">0.10</text>
</g>
</g>
<g id="ytick_91">
<g id="line2d_437">
<g>
<path d="M 84.60 2247.48 L 90.57 2247.48" style="stroke: #000000; stroke-width: 0.936"/>
</g>
</g>
<g id="line2d_438">
<g>
<path d="M 1212.12 2247.48 L 1206.14 2247.48" style="stroke: #000000; stroke-width: 0.936"/>
</g>
</g>
<g id="text_218">
<text style="font-size: 12px; font-family: 'DejaVu Sans', sans-serif; text-anchor: end" x="78.48" y="2250.62" transform="rotate(-0 78.48 2250.62)">0.11</text>
</g>
</g>
<g id="ytick_92">
<g id="line2d_439">
<g>
<path d="M 84.60 2230.20 L 90.57 2230.20" style="stroke: #000000; stroke-width: 0.936"/>
</g>
</g>
<g id="line2d_440">
<g>
<path d="M 1212.12 2230.20 L 1206.14 2230.20" style="stroke: #000000; stroke-width: 0.936"/>
</g>
</g>
<g id="text_219">
<text style="font-size: 12px; font-family: 'DejaVu Sans', sans-serif; text-anchor: end" x="78.48" y="2232.83" transform="rotate(-0 78.48 2232.83)">0.12</text>
</g>
</g>
<g id="ytick_93">
<g id="line2d_441">
<g>
<path d="M 84.60 2212.20 L 90.57 2212.20" style="stroke: #000000; stroke-width: 0.936"/>
</g>
</g>
<g id="line2d_442">
<g>
<path d="M 1212.12 2212.20 L 1206.14 2212.20" style="stroke: #000000; stroke-width: 0.936"/>
</g>
</g>
<g id="text_220">
<text style="font-size: 12px; font-family: 'DejaVu Sans', sans-serif; text-anchor: end" x="78.48" y="2215.03" transform="rotate(-0 78.48 2215.03)">0.13</text>
</g>
</g>
<g id="ytick_94">
<g id="line2d_443">
<g>
<path d="M 84.60 2194.20 L 90.57 2194.20" style="stroke: #000000; stroke-width: 0.936"/>
</g>
</g>
<g id="line2d_444">
<g>
<path d="M 1212.12 2194.20 L 1206.14 2194.20" style="stroke: #000000; stroke-width: 0.936"/>
</g>
</g>
<g id="text_221">
<text style="font-size: 12px; font-family: 'DejaVu Sans', sans-serif; text-anchor: end" x="78.48" y="2197.24" transform="rotate(-0 78.48 2197.24)">0.14</text>
</g>
</g>
<g id="ytick_95">
<g id="line2d_445">
<g>
<path d="M 84.60 2176.20 L 90.57 2176.20" style="stroke: #000000; stroke-width: 0.936"/>
</g>
</g>
<g id="line2d_446">
<g>
<path d="M 1212.12 2176.20 L 1206.14 2176.20" style="stroke: #000000; stroke-width: 0.936"/>
</g>
</g>
<g id="text_222">
<text style="font-size: 12px; font-family: 'DejaVu Sans', sans-serif; text-anchor: end" x="78.48" y="2179.45" transform="rotate(-0 78.48 2179.45)">0.15</text>
</g>
</g>
<g id="ytick_96">
<g id="line2d_447">
<g>
<path d="M 84.60 2158.92 L 90.57 2158.92" style="stroke: #000000; stroke-width: 0.936"/>
</g>
</g>
<g id="line2d_448">
<g>
<path d="M 1212.12 2158.92 L 1206.14 2158.92" style="stroke: #000000; stroke-width: 0.936"/>
</g>
</g>
<g id="text_223">
<text style="font-size: 12px; font-family: 'DejaVu Sans', sans-serif; text-anchor: end" x="78.48" y="2161.66" transform="rotate(-0 78.48 2161.66)">0.16</text>
</g>
</g>
<g id="ytick_97">
<g id="line2d_449">
<g>
<path d="M 84.60 2140.92 L 90.57 2140.92" style="stroke: #000000; stroke-width: 0.936"/>
</g>
</g>
<g id="line2d_450">
<g>
<path d="M 1212.12 2140.92 L 1206.14 2140.92" style="stroke: #000000; stroke-width: 0.936"/>
</g>
</g>
<g id="text_224">
<text style="font-size: 12px; font-family: 'DejaVu Sans', sans-serif; text-anchor: end" x="78.48" y="2143.87" transform="rotate(-0 78.48 2143.87)">0.17</text>
</g>
</g>
<g id="text_225">
<g transform="translate(39.88 2245.52) rotate(-90)">
<text>
<tspan x="0" y="-0.80" style="font-size: 12px; font-family: 'DejaVu Sans', sans-serif">T</tspan>
<tspan x="7.33" y="-0.80" style="font-size: 12px; font-family: 'DejaVu Sans', sans-serif">p</tspan>
<tspan x="14.94" y="-0.80" style="font-size: 12px; font-family: 'DejaVu Sans', sans-serif">(</tspan>
<tspan x="37.12" y="-0.80" style="font-size: 12px; font-family: 'DejaVu Sans', sans-serif">K</tspan>
<tspan x="44.99" y="-0.80" style="font-size: 12px; font-family: 'DejaVu Sans', sans-serif">)</tspan>
<tspan x="19.63" y="-0.81" style="font-size: 12.00px; font-family: 'Liberation Serif', serif">1</tspan>
<tspan x="25.63" y="-0.81" style="font-size: 12.00px; font-family: 'Liberation Serif', serif">0</tspan>
<tspan x="32.16" y="-5.40" style="font-size: 8.40px; font-family: 'Liberation Serif', serif">6</tspan>
</text>
</g>
</g>
</g>
<g id="text_226">
<g transform="translate(522.97 2133.36)">
<text>
<tspan x="0" y="-0.07" style="font-size: 16.56px; font-family: 'DejaVu Sans', sans-serif">P</tspan>
<tspan x="9.94" y="-0.07" style="font-size: 16.56px; font-family: 'DejaVu Sans', sans-serif">r</tspan>
<tspan x="16.73" y="-0.07" style="font-size: 16.56px; font-family: 'DejaVu Sans', sans-serif">o</tspan>
<tspan x="26.82" y="-0.07" style="font-size: 16.56px; font-family: 'DejaVu Sans', sans-serif">t</tspan>
<tspan x="33.29" y="-0.07" style="font-size: 16.56px; font-family: 'DejaVu Sans', sans-serif">o</tspan>
<tspan x="43.39" y="-0.07" style="font-size: 16.56px; font-family: 'DejaVu Sans', sans-serif">n</tspan>
<tspan x="53.85" y="-0.07" style="font-size: 16.56px; font-family: 'DejaVu Sans', sans-serif"> </tspan>
<tspan x="59.09" y="-0.07" style="font-size: 16.56px; font-family: 'DejaVu Sans', sans-serif">T</tspan>
<tspan x="69.17" y="-0.07" style="font-size: 16.56px; font-family: 'DejaVu Sans', sans-serif">e</tspan>
<tspan x="79.32" y="-0.07" style="font-size: 16.56px; font-family: 'DejaVu Sans', sans-serif">m</tspan>
<tspan x="95.39" y="-0.07" style="font-size: 16.56px; font-family: 'DejaVu Sans', sans-serif">p</tspan>
<tspan x="105.87" y="-0.07" style="font-size: 16.56px; font-family: 'DejaVu Sans', sans-serif">e</tspan>
<tspan x="116.02" y="-0.07" style="font-size: 16.56px; font-family: 'DejaVu Sans', sans-serif">r</tspan>
<tspan x="122.80" y="-0.07" style="font-size: 16.56px; font-family: 'DejaVu Sans', sans-serif">a</tspan>
<tspan x="132.91" y="-0.07" style="font-size: 16.56px; font-family: 'DejaVu Sans', sans-serif">t</tspan>
<tspan x="139.38" y="-0.07" style="font-size: 16.56px; font-family: 'DejaVu Sans', sans-serif">u</tspan>
<tspan x="149.84" y="-0.07" style="font-size: 16.56px; font-family: 'DejaVu Sans', sans-serif">r</tspan>
<tspan x="156.62" y="-0.07" style="font-size: 16.56px; font-family: 'DejaVu Sans', sans-serif">e</tspan>
<tspan x="166.78" y="-0.07" style="font-size: 16.56px; font-family: 'DejaVu Sans', sans-serif"> </tspan>
<tspan x="172.02" y="-0.07" style="font-size: 16.56px; font-family: 'DejaVu Sans', sans-serif">a</tspan>
<tspan x="182.13" y="-0.07" style="font-size: 16.56px; font-family: 'DejaVu Sans', sans-serif">n</tspan>
<tspan x="192.59" y="-0.07" style="font-size: 16.56px; font-family: 'DejaVu Sans', sans-serif">d</tspan>
<tspan x="203.06" y="-0.07" style="font-size: 16.56px; font-family: 'DejaVu Sans', sans-serif"> </tspan>
<tspan x="208.31" y="-0.08" style="font-size: 14.90px; font-style: italic; font-family: 'DejaVu Serif', serif">T</tspan>
<tspan x="224.42" y="1.08" style="font-size: 16.89px; font-family: 'DejaVu Sans', sans-serif">/</tspan>
<tspan x="232.69" y="-0.08" style="font-size: 14.90px; font-style: italic; font-family: 'DejaVu Serif', serif">T</tspan>
<tspan x="217.98" y="2.74" style="font-size: 10.43px; font-style: italic; font-family: 'DejaVu Serif', serif">e</tspan>
<tspan x="242.35" y="2.74" style="font-size: 10.43px; font-style: italic; font-family: 'DejaVu Serif', serif">p</tspan>
</text>
</g>
</g>
<g id="legend_7">
<g id="patch_69">
<path d="M 89.28 2166.48 L 140.40 2166.48 L 140.40 2145.60 L 89.28 2145.60 z" style="fill: #ffffff; stroke: #000000; stroke-width: 1.44; stroke-linejoin: miter"/>
</g>
<g id="line2d_451">
<path d="M 97.92 2154.96 L 111.60 2154.96" style="fill: none; stroke: #0000ff; stroke-width: 1.4976; stroke-linecap: square"/>
</g>
<g id="text_227">
<text style="font-size: 10.45px; font-family: 'DejaVu Sans', sans-serif; text-anchor: start" x="121.96" y="2158.84" transform="rotate(-0 121.96 2158.84)">Tp</text>
</g>
</g>
</g>
</g>
<defs>
<clipPath id="pb502590449">
<rect x="84.24" y="60.48" width="326.88" height="326.88"/>
</clipPath>
<clipPath id="p1c13d62f08">
<rect x="484.56" y="60.48" width="326.88" height="326.88"/>
</clipPath>
<clipPath id="p8844d95abf">
<rect x="884.88" y="60.48" width="326.88" height="326.88"/>
</clipPath>
<clipPath id="p5c10412601">
<rect x="484.56" y="476.64" width="326.88" height="326.88"/>
</clipPath>
<clipPath id="p4ce7f18f44">
<rect x="884.88" y="476.64" width="326.88" height="326.88"/>
</clipPath>
<clipPath id="pd0a380cab5">
<rect x="84.24" y="476.64" width="326.88" height="326.88"/>
</clipPath>
<clipPath id="p85db4f6378">
<rect x="84.24" y="939.6" width="1127.52" height="160.12"/>
</clipPath>
<clipPath id="p9746ed7738">
<rect x="84.24" y="1179.79" width="1127.52" height="160.12"/>
</clipPath>
<clipPath id="p7cfa867643">
<rect x="84.24" y="1419.98" width="1127.52" height="160.12"/>
</clipPath>
<clipPath id="p29478d0e4d">
<rect x="84.24" y="1660.17" width="1127.52" height="160.12"/>
</clipPath>
<clipPath id="p678ba3bb80">
<rect x="84.24" y="1900.36" width="1127.52" height="160.12"/>
</clipPath>
<clipPath id="p251cb50f02">
<rect x="84.24" y="2140.56" width="1127.52" height="160.12"/>
</clipPath>
</defs>
</svg>

</body></html>
